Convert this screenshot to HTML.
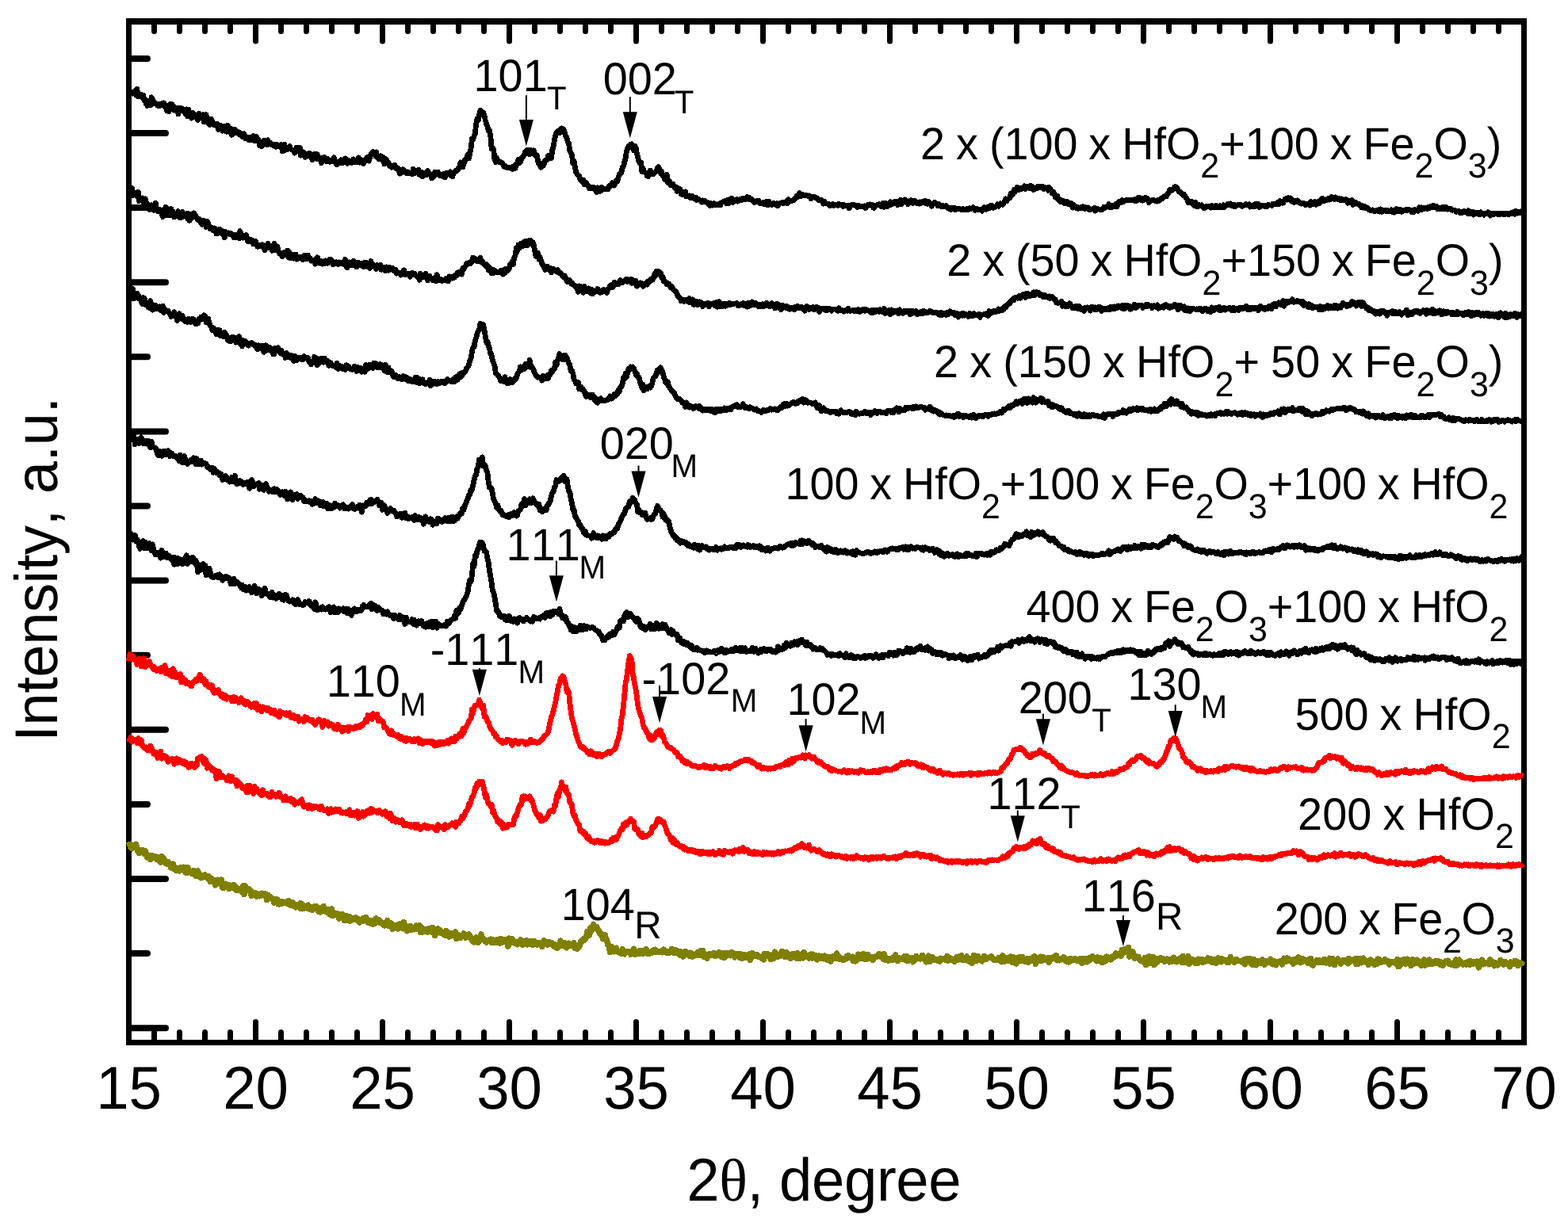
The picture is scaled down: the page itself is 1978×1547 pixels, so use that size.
<!DOCTYPE html>
<html lang="en"><head><meta charset="utf-8"><title>XRD patterns</title>
<style>
html,body{margin:0;padding:0;background:#fff;}
body{width:1978px;height:1547px;overflow:hidden;}
svg{display:block;}
text{font-family:"Liberation Sans",sans-serif;fill:#000;font-kerning:none;font-variant-ligatures:none;text-rendering:geometricPrecision;}
.c{fill:none;stroke-linejoin:round;stroke-linecap:butt;}
.t{stroke:#000;stroke-linecap:round;fill:none;}
</style></head>
<body>
<svg width="1978" height="1547" viewBox="0 0 1978 1547" role="img" aria-label="XRD patterns of HfO2 / Fe2O3 thin films">
<rect width="1978" height="1547" fill="#fff"/>
<g class="t" stroke-width="7.00">
<path d="M194.5 1313.5V1302.5M194.5 29.0V39.5M226.5 1313.5V1302.5M226.5 29.0V39.5M258.5 1313.5V1302.5M258.5 29.0V39.5M290.5 1313.5V1302.5M290.5 29.0V39.5M322.5 1313.5V1289.5M322.5 29.0V52.1M354.5 1313.5V1302.5M354.5 29.0V39.5M386.5 1313.5V1302.5M386.5 29.0V39.5M418.5 1313.5V1302.5M418.5 29.0V39.5M450.5 1313.5V1302.5M450.5 29.0V39.5M482.5 1313.5V1289.5M482.5 29.0V52.1M514.5 1313.5V1302.5M514.5 29.0V39.5M546.5 1313.5V1302.5M546.5 29.0V39.5M578.5 1313.5V1302.5M578.5 29.0V39.5M610.5 1313.5V1302.5M610.5 29.0V39.5M642.5 1313.5V1289.5M642.5 29.0V52.1M674.5 1313.5V1302.5M674.5 29.0V39.5M706.5 1313.5V1302.5M706.5 29.0V39.5M738.5 1313.5V1302.5M738.5 29.0V39.5M770.5 1313.5V1302.5M770.5 29.0V39.5M802.5 1313.5V1289.5M802.5 29.0V52.1M834.5 1313.5V1302.5M834.5 29.0V39.5M866.5 1313.5V1302.5M866.5 29.0V39.5M898.5 1313.5V1302.5M898.5 29.0V39.5M930.5 1313.5V1302.5M930.5 29.0V39.5M962.5 1313.5V1289.5M962.5 29.0V52.1M994.5 1313.5V1302.5M994.5 29.0V39.5M1026.5 1313.5V1302.5M1026.5 29.0V39.5M1058.5 1313.5V1302.5M1058.5 29.0V39.5M1090.5 1313.5V1302.5M1090.5 29.0V39.5M1122.5 1313.5V1289.5M1122.5 29.0V52.1M1154.5 1313.5V1302.5M1154.5 29.0V39.5M1186.5 1313.5V1302.5M1186.5 29.0V39.5M1218.5 1313.5V1302.5M1218.5 29.0V39.5M1250.5 1313.5V1302.5M1250.5 29.0V39.5M1282.5 1313.5V1289.5M1282.5 29.0V52.1M1314.5 1313.5V1302.5M1314.5 29.0V39.5M1346.5 1313.5V1302.5M1346.5 29.0V39.5M1378.5 1313.5V1302.5M1378.5 29.0V39.5M1410.5 1313.5V1302.5M1410.5 29.0V39.5M1442.5 1313.5V1289.5M1442.5 29.0V52.1M1474.5 1313.5V1302.5M1474.5 29.0V39.5M1506.5 1313.5V1302.5M1506.5 29.0V39.5M1538.5 1313.5V1302.5M1538.5 29.0V39.5M1570.5 1313.5V1302.5M1570.5 29.0V39.5M1602.5 1313.5V1289.5M1602.5 29.0V52.1M1634.5 1313.5V1302.5M1634.5 29.0V39.5M1666.5 1313.5V1302.5M1666.5 29.0V39.5M1698.5 1313.5V1302.5M1698.5 29.0V39.5M1730.5 1313.5V1302.5M1730.5 29.0V39.5M1762.5 1313.5V1289.5M1762.5 29.0V52.1M1794.5 1313.5V1302.5M1794.5 29.0V39.5M1826.5 1313.5V1302.5M1826.5 29.0V39.5M1858.5 1313.5V1302.5M1858.5 29.0V39.5M1890.5 1313.5V1302.5M1890.5 29.0V39.5"/>
</g>
<g class="t" stroke-width="8.00">
<path d="M164.5 73.9H186.0M164.5 168.0H209.0M164.5 262.1H186.0M164.5 356.2H209.0M164.5 450.3H186.0M164.5 544.4H209.0M164.5 638.5H186.0M164.5 732.6H209.0M164.5 826.7H186.0M164.5 920.8H209.0M164.5 1014.9H186.0M164.5 1109.0H209.0M164.5 1203.1H186.0M164.5 1297.2H209.0"/>
</g>
<g fill="#000" shape-rendering="crispEdges">
<rect x="159.0" y="23.0" width="1766.9" height="8.0"/>
<rect x="159.0" y="1312.0" width="1766.9" height="7.0"/>
<rect x="159.0" y="23.0" width="7.0" height="1296.0"/>
<rect x="1918.9" y="23.0" width="7.0" height="1296.0"/>
</g>
<g id="curves" shape-rendering="crispEdges">
<path class="c" stroke="#000" stroke-width="6.80" d="M162.5 120.9 163.8 115.8 165.1 117.5 166.4 116.9 167.7 118.1 169.0 115.7 170.3 114.7 171.6 120.1 172.9 112.3 174.2 122.0 175.5 122.0 176.8 119.1 178.1 122.3 179.4 119.9 180.7 120.1 182.0 126.8 183.3 125.1 184.6 131.4 185.9 133.4 187.2 128.6 188.5 128.0 189.8 133.0 191.1 122.8 192.4 125.0 193.7 128.7 195.0 130.8 196.3 130.5 197.6 131.0 198.9 133.3 200.2 131.4 201.5 133.5 202.8 132.9 204.1 130.6 205.4 130.2 206.7 129.9 208.0 134.7 209.3 133.1 210.6 139.7 211.9 134.8 213.2 140.6 214.5 131.6 215.8 135.6 217.1 131.9 218.4 135.7 219.7 139.2 221.0 135.9 222.3 136.6 223.6 139.1 224.9 144.0 226.2 136.0 227.5 136.0 228.8 137.6 230.1 139.5 231.4 138.0 232.7 141.6 234.0 143.4 235.3 137.9 236.6 146.7 237.9 138.1 239.2 143.8 240.5 143.6 241.8 149.1 243.1 142.2 244.4 144.5 245.7 146.3 247.0 147.9 248.3 145.2 249.6 151.6 250.9 143.4 252.2 144.8 253.5 148.1 254.8 146.0 256.1 144.8 257.4 153.8 258.7 153.0 260.0 144.6 261.3 154.4 262.6 155.7 263.9 150.0 265.2 157.4 266.5 150.2 267.8 153.7 269.1 155.3 270.4 157.9 271.7 158.3 273.0 158.4 274.3 156.0 275.6 163.3 276.9 161.4 278.2 158.6 279.5 159.1 280.8 165.1 282.1 163.5 283.4 159.8 284.7 161.7 286.0 166.2 287.3 158.4 288.6 162.0 289.9 166.9 291.2 162.0 292.5 170.3 293.8 163.3 295.1 163.1 296.4 163.7 297.7 168.0 299.0 167.2 300.3 166.7 301.6 169.6 302.9 167.6 304.2 171.0 305.5 172.5 306.8 172.2 308.1 168.9 309.4 174.6 310.7 173.1 312.0 175.4 313.3 176.2 314.6 173.1 315.9 176.6 317.2 173.2 318.5 177.0 319.8 171.6 321.1 178.1 322.4 176.8 323.7 172.7 325.0 178.4 326.3 176.5 327.6 183.7 328.9 179.1 330.2 184.9 331.5 181.1 332.8 177.3 334.1 180.7 335.4 180.8 336.7 182.7 338.0 176.8 339.3 180.4 340.6 179.9 341.9 182.3 343.2 182.5 344.5 183.1 345.8 184.3 347.1 182.5 348.4 185.3 349.7 182.7 351.0 182.9 352.3 185.2 353.6 185.2 354.9 182.6 356.2 191.0 357.5 183.4 358.8 182.4 360.1 189.4 361.4 188.2 362.7 188.3 364.0 186.1 365.3 184.6 366.6 187.9 367.9 188.8 369.2 189.3 370.5 189.9 371.8 193.1 373.1 187.8 374.4 186.2 375.7 190.3 377.0 187.6 378.3 186.2 379.6 196.1 380.9 193.3 382.2 191.8 383.5 192.8 384.8 198.3 386.1 197.3 387.4 197.1 388.7 196.2 390.0 193.3 391.3 196.0 392.6 194.4 393.9 201.8 395.2 195.0 396.5 194.7 397.8 194.3 399.1 200.3 400.4 194.9 401.7 200.5 403.0 200.1 404.3 199.3 405.6 205.7 406.9 199.3 408.2 202.0 409.5 198.4 410.8 199.7 412.1 203.6 413.4 200.4 414.7 202.4 416.0 204.3 417.3 203.2 418.6 202.2 419.9 203.5 421.2 198.7 422.5 203.0 423.8 206.1 425.1 207.7 426.4 205.3 427.7 204.0 429.0 204.0 430.3 201.9 431.6 205.8 432.9 205.6 434.2 202.3 435.5 199.9 436.8 204.4 438.1 206.2 439.4 202.3 440.7 203.8 442.0 204.1 443.3 205.4 444.6 204.2 445.9 200.9 447.2 204.9 448.5 202.3 449.8 203.1 451.1 205.0 452.4 198.9 453.7 205.2 455.0 200.9 456.3 202.2 457.6 206.3 458.9 206.4 460.2 201.8 461.5 200.9 462.8 198.8 464.1 198.9 465.4 203.1 466.7 198.2 468.0 194.0 469.3 194.9 470.6 191.4 471.9 194.3 473.2 196.4 474.5 191.8 475.8 197.8 477.1 200.2 478.4 199.4 479.7 196.8 481.0 201.2 482.3 197.8 483.6 198.6 484.9 206.9 486.2 200.0 487.5 201.9 488.8 204.0 490.1 205.6 491.4 209.3 492.7 209.1 494.0 211.3 495.3 211.0 496.6 210.9 497.9 208.2 499.2 212.4 500.5 211.4 501.8 212.2 503.1 213.7 504.4 219.2 505.7 217.3 507.0 217.7 508.3 213.7 509.6 216.2 510.9 216.1 512.2 217.4 513.5 218.8 514.8 217.0 516.1 217.8 517.4 219.1 518.7 218.8 520.0 219.8 521.3 213.4 522.6 216.5 523.9 218.3 525.2 216.7 526.5 216.6 527.8 214.1 529.1 220.4 530.4 218.5 531.7 217.3 533.0 222.8 534.3 218.5 535.6 221.2 536.9 220.0 538.2 220.9 539.5 215.6 540.8 219.4 542.1 218.9 543.4 221.3 544.7 224.8 546.0 223.0 547.3 222.6 548.6 217.0 549.9 220.4 551.2 219.5 552.5 217.1 553.8 220.6 555.1 222.0 556.4 220.7 557.7 221.9 559.0 222.7 560.3 219.2 561.6 223.9 562.9 218.3 564.2 219.6 565.5 219.9 566.8 219.1 568.1 216.9 569.4 221.8 570.7 222.8 572.0 219.3 573.3 217.5 574.6 215.4 575.9 215.9 577.2 214.9 578.5 212.0 579.8 209.9 581.1 204.9 582.4 208.9 583.7 210.9 585.0 206.7 586.3 201.8 587.6 201.8 588.9 198.1 590.2 194.8 591.5 199.9 592.8 192.2 594.1 187.5 595.4 175.0 596.7 176.5 598.0 171.9 599.3 168.4 600.6 156.4 601.9 150.0 603.2 152.0 604.5 145.6 605.8 139.4 607.1 140.9 608.4 144.3 609.7 142.0 611.0 146.1 612.3 151.8 613.6 156.4 614.9 159.3 616.2 165.3 617.5 164.9 618.8 171.8 620.1 187.5 621.4 186.2 622.7 189.3 624.0 201.0 625.3 204.6 626.6 199.1 627.9 203.5 629.2 204.2 630.5 205.0 631.8 204.8 633.1 205.6 634.4 207.1 635.7 210.2 637.0 209.3 638.3 211.0 639.6 211.7 640.9 211.8 642.2 211.5 643.5 211.6 644.8 212.9 646.1 213.5 647.4 209.8 648.7 210.0 650.0 212.3 651.3 206.7 652.6 206.9 653.9 201.6 655.2 205.8 656.5 204.3 657.8 200.2 659.1 198.2 660.4 197.1 661.7 193.8 663.0 190.8 664.3 193.5 665.6 189.2 666.9 192.2 668.2 194.7 669.5 189.3 670.8 192.6 672.1 193.9 673.4 189.7 674.7 194.6 676.0 197.2 677.3 195.8 678.6 203.3 679.9 207.0 681.2 208.5 682.5 211.2 683.8 206.4 685.1 209.4 686.4 206.9 687.7 202.5 689.0 201.9 690.3 201.5 691.6 196.6 692.9 198.6 694.2 196.5 695.5 199.5 696.8 189.0 698.1 185.0 699.4 177.1 700.7 170.8 702.0 167.5 703.3 166.3 704.6 165.0 705.9 167.7 707.2 166.9 708.5 161.9 709.8 162.8 711.1 163.0 712.4 167.4 713.7 172.1 715.0 173.7 716.3 179.4 717.6 181.2 718.9 190.4 720.2 192.6 721.5 196.1 722.8 205.9 724.1 203.5 725.4 210.7 726.7 217.4 728.0 219.7 729.3 221.4 730.6 222.0 731.9 226.2 733.2 227.4 734.5 229.6 735.8 227.2 737.1 232.6 738.4 230.1 739.7 230.6 741.0 233.9 742.3 234.7 743.6 238.0 744.9 236.2 746.2 238.0 747.5 236.4 748.8 236.4 750.1 238.1 751.4 239.7 752.7 242.7 754.0 236.9 755.3 241.8 756.6 238.2 757.9 241.1 759.2 236.2 760.5 239.1 761.8 239.0 763.1 237.9 764.4 238.2 765.7 238.7 767.0 238.6 768.3 234.6 769.6 234.9 770.9 234.6 772.2 230.8 773.5 231.4 774.8 234.0 776.1 231.8 777.4 227.6 778.7 228.9 780.0 224.4 781.3 219.6 782.6 219.7 783.9 218.0 785.2 211.2 786.5 209.8 787.8 204.3 789.1 199.7 790.4 191.4 791.7 187.1 793.0 184.6 794.3 185.1 795.6 182.1 796.9 181.7 798.2 186.9 799.5 189.8 800.8 184.1 802.1 186.5 803.4 193.5 804.7 199.3 806.0 203.6 807.3 205.6 808.6 205.1 809.9 216.4 811.2 212.8 812.5 216.8 813.8 217.7 815.1 218.3 816.4 222.0 817.7 222.6 819.0 217.2 820.3 215.0 821.6 218.2 822.9 220.0 824.2 219.5 825.5 218.1 826.8 217.4 828.1 215.4 829.4 212.2 830.7 210.8 832.0 213.2 833.3 218.6 834.6 216.2 835.9 221.5 837.2 222.1 838.5 226.3 839.8 223.5 841.1 220.5 842.4 230.4 843.7 228.2 845.0 229.5 846.3 233.9 847.6 232.0 848.9 232.1 850.2 234.6 851.5 237.3 852.8 236.6 854.1 241.4 855.4 237.6 856.7 238.8 858.0 238.7 859.3 244.9 860.6 245.4 861.9 242.9 863.2 242.7 864.5 242.0 865.8 247.8 867.1 247.2 868.4 247.9 869.7 247.0 871.0 250.0 872.3 248.8 873.6 247.6 874.9 248.6 876.2 250.9 877.5 249.1 878.8 252.5 880.1 250.9 881.4 252.2 882.7 252.6 884.0 253.4 885.3 255.0 886.6 252.9 887.9 254.2 889.2 253.6 890.5 255.1 891.8 254.8 893.1 256.7 894.4 257.4 895.7 259.6 897.0 256.6 898.3 259.1 899.6 256.8 900.9 256.6 902.2 258.2 903.5 258.6 904.8 258.6 906.1 257.7 907.4 257.0 908.7 258.9 910.0 255.6 911.3 254.9 912.6 254.9 913.9 253.7 915.2 254.2 916.5 256.9 917.8 252.3 919.1 256.6 920.4 251.7 921.7 255.1 923.0 250.0 924.3 255.5 925.6 251.9 926.9 252.9 928.2 252.3 929.5 251.7 930.8 254.1 932.1 253.2 933.4 251.4 934.7 251.9 936.0 252.4 937.3 250.4 938.6 252.0 939.9 252.1 941.2 249.7 942.5 248.8 943.8 251.0 945.1 249.4 946.4 251.6 947.7 250.9 949.0 253.1 950.3 253.4 951.6 255.5 952.9 254.8 954.2 254.2 955.5 253.1 956.8 253.1 958.1 255.6 959.4 257.1 960.7 256.8 962.0 255.7 963.3 255.4 964.6 257.9 965.9 256.9 967.2 254.4 968.5 259.0 969.8 254.3 971.1 256.3 972.4 256.9 973.7 258.3 975.0 256.8 976.3 256.6 977.6 257.4 978.9 258.8 980.2 256.8 981.5 259.8 982.8 257.2 984.1 256.0 985.4 255.9 986.7 255.3 988.0 256.8 989.3 255.2 990.6 255.1 991.9 254.1 993.2 257.0 994.5 251.6 995.8 253.4 997.1 254.0 998.4 253.5 999.7 252.7 1001.0 253.1 1002.3 251.6 1003.6 250.0 1004.9 247.6 1006.2 248.7 1007.5 245.6 1008.8 243.6 1010.1 248.0 1011.4 246.1 1012.7 245.8 1014.0 246.3 1015.3 246.4 1016.6 246.2 1017.9 246.5 1019.2 247.3 1020.5 246.8 1021.8 248.0 1023.1 250.9 1024.4 248.9 1025.7 248.3 1027.0 248.1 1028.3 249.0 1029.6 250.2 1030.9 250.4 1032.2 252.3 1033.5 253.0 1034.8 252.0 1036.1 252.5 1037.4 254.7 1038.7 257.1 1040.0 254.2 1041.3 256.9 1042.6 256.8 1043.9 257.1 1045.2 257.3 1046.5 259.7 1047.8 259.3 1049.1 258.3 1050.4 257.6 1051.7 259.6 1053.0 259.0 1054.3 258.2 1055.6 258.4 1056.9 259.4 1058.2 257.1 1059.5 259.1 1060.8 259.0 1062.1 258.8 1063.4 260.4 1064.7 258.7 1066.0 260.0 1067.3 259.3 1068.6 259.4 1069.9 259.3 1071.2 262.9 1072.5 260.1 1073.8 259.0 1075.1 258.0 1076.4 258.2 1077.7 258.8 1079.0 259.4 1080.3 259.8 1081.6 261.3 1082.9 259.4 1084.2 260.5 1085.5 260.0 1086.8 260.7 1088.1 260.6 1089.4 260.0 1090.7 259.9 1092.0 262.4 1093.3 260.1 1094.6 258.6 1095.9 259.3 1097.2 258.0 1098.5 259.2 1099.8 258.2 1101.1 261.2 1102.4 262.7 1103.7 260.2 1105.0 258.9 1106.3 258.8 1107.6 258.0 1108.9 257.8 1110.2 259.0 1111.5 260.4 1112.8 258.5 1114.1 256.6 1115.4 261.3 1116.7 256.1 1118.0 259.0 1119.3 260.5 1120.6 259.3 1121.9 258.6 1123.2 254.8 1124.5 258.2 1125.8 256.0 1127.1 256.7 1128.4 254.6 1129.7 254.7 1131.0 254.8 1132.3 258.5 1133.6 254.6 1134.9 253.8 1136.2 252.3 1137.5 257.8 1138.8 256.2 1140.1 254.4 1141.4 251.9 1142.7 253.6 1144.0 253.9 1145.3 257.7 1146.6 253.8 1147.9 255.9 1149.2 252.7 1150.5 254.6 1151.8 256.5 1153.1 254.3 1154.4 253.3 1155.7 256.3 1157.0 256.2 1158.3 255.8 1159.6 257.0 1160.9 255.0 1162.2 256.2 1163.5 254.3 1164.8 255.6 1166.1 256.1 1167.4 253.3 1168.7 255.5 1170.0 257.3 1171.3 254.5 1172.6 255.8 1173.9 257.0 1175.2 260.1 1176.5 258.4 1177.8 256.5 1179.1 255.4 1180.4 257.1 1181.7 257.8 1183.0 259.4 1184.3 257.7 1185.6 259.7 1186.9 260.4 1188.2 259.2 1189.5 260.9 1190.8 259.9 1192.1 260.9 1193.4 259.5 1194.7 261.7 1196.0 263.1 1197.3 263.2 1198.6 262.6 1199.9 264.3 1201.2 262.7 1202.5 263.3 1203.8 262.1 1205.1 264.5 1206.4 263.2 1207.7 264.0 1209.0 263.9 1210.3 263.7 1211.6 264.0 1212.9 264.5 1214.2 263.6 1215.5 264.3 1216.8 263.9 1218.1 264.4 1219.4 263.4 1220.7 264.9 1222.0 264.4 1223.3 262.8 1224.6 263.5 1225.9 262.9 1227.2 261.7 1228.5 263.5 1229.8 265.2 1231.1 264.5 1232.4 263.7 1233.7 264.2 1235.0 264.4 1236.3 265.1 1237.6 264.6 1238.9 266.1 1240.2 264.9 1241.5 261.5 1242.8 263.5 1244.1 264.3 1245.4 262.7 1246.7 260.9 1248.0 262.5 1249.3 261.4 1250.6 259.1 1251.9 261.2 1253.2 262.3 1254.5 261.4 1255.8 261.0 1257.1 259.8 1258.4 257.8 1259.7 260.2 1261.0 257.8 1262.3 256.8 1263.6 257.2 1264.9 258.3 1266.2 255.6 1267.5 254.1 1268.8 251.0 1270.1 253.7 1271.4 250.8 1272.7 250.5 1274.0 249.7 1275.3 243.9 1276.6 246.1 1277.9 244.8 1279.2 239.5 1280.5 241.9 1281.8 239.5 1283.1 236.0 1284.4 239.9 1285.7 237.6 1287.0 237.5 1288.3 238.7 1289.6 237.4 1290.9 237.9 1292.2 234.9 1293.5 238.3 1294.8 236.2 1296.1 235.0 1297.4 236.0 1298.7 237.9 1300.0 234.0 1301.3 237.6 1302.6 235.7 1303.9 239.5 1305.2 237.5 1306.5 236.8 1307.8 237.6 1309.1 235.2 1310.4 236.9 1311.7 235.7 1313.0 235.1 1314.3 236.5 1315.6 235.8 1316.9 238.4 1318.2 236.6 1319.5 237.1 1320.8 236.9 1322.1 240.4 1323.4 236.3 1324.7 237.8 1326.0 240.4 1327.3 243.8 1328.6 242.1 1329.9 244.9 1331.2 248.8 1332.5 249.5 1333.8 247.3 1335.1 251.3 1336.4 253.2 1337.7 254.8 1339.0 252.6 1340.3 253.5 1341.6 253.6 1342.9 256.6 1344.2 255.6 1345.5 254.2 1346.8 257.2 1348.1 255.9 1349.4 258.0 1350.7 256.2 1352.0 258.3 1353.3 262.1 1354.6 258.3 1355.9 260.6 1357.2 262.3 1358.5 261.2 1359.8 263.2 1361.1 262.8 1362.4 261.8 1363.7 261.7 1365.0 263.0 1366.3 260.8 1367.6 261.5 1368.9 263.3 1370.2 261.8 1371.5 263.0 1372.8 262.0 1374.1 264.9 1375.4 264.5 1376.7 264.1 1378.0 263.8 1379.3 263.1 1380.6 262.4 1381.9 266.1 1383.2 264.4 1384.5 263.4 1385.8 264.0 1387.1 264.4 1388.4 264.6 1389.7 264.8 1391.0 263.5 1392.3 261.4 1393.6 262.1 1394.9 262.2 1396.2 261.1 1397.5 261.0 1398.8 257.6 1400.1 262.1 1401.4 259.5 1402.7 261.5 1404.0 260.1 1405.3 259.1 1406.6 260.8 1407.9 257.0 1409.2 260.5 1410.5 257.1 1411.8 254.1 1413.1 255.1 1414.4 255.7 1415.7 252.7 1417.0 254.5 1418.3 253.6 1419.6 252.8 1420.9 252.7 1422.2 252.0 1423.5 253.1 1424.8 252.9 1426.1 252.1 1427.4 252.2 1428.7 252.3 1430.0 252.5 1431.3 251.8 1432.6 254.0 1433.9 253.6 1435.2 249.6 1436.5 249.5 1437.8 249.5 1439.1 252.2 1440.4 250.3 1441.7 253.0 1443.0 250.2 1444.3 249.7 1445.6 249.5 1446.9 249.9 1448.2 251.9 1449.5 255.6 1450.8 254.0 1452.1 253.4 1453.4 252.4 1454.7 253.1 1456.0 252.6 1457.3 253.1 1458.6 253.9 1459.9 254.2 1461.2 252.4 1462.5 253.2 1463.8 251.5 1465.1 250.3 1466.4 250.6 1467.7 248.3 1469.0 248.3 1470.3 247.3 1471.6 247.7 1472.9 244.4 1474.2 243.4 1475.5 239.4 1476.8 239.0 1478.1 240.2 1479.4 239.3 1480.7 237.7 1482.0 235.7 1483.3 235.9 1484.6 237.0 1485.9 238.8 1487.2 241.9 1488.5 241.8 1489.8 243.0 1491.1 244.3 1492.4 246.3 1493.7 245.5 1495.0 247.6 1496.3 249.7 1497.6 251.8 1498.9 255.8 1500.2 255.7 1501.5 255.9 1502.8 254.4 1504.1 256.5 1505.4 258.4 1506.7 259.6 1508.0 255.4 1509.3 260.4 1510.6 258.8 1511.9 260.5 1513.2 258.9 1514.5 259.8 1515.8 258.7 1517.1 260.5 1518.4 262.4 1519.7 262.3 1521.0 261.8 1522.3 260.0 1523.6 260.7 1524.9 260.3 1526.2 261.4 1527.5 262.1 1528.8 259.5 1530.1 260.2 1531.4 261.9 1532.7 262.0 1534.0 259.2 1535.3 260.4 1536.6 261.9 1537.9 261.8 1539.2 259.8 1540.5 261.4 1541.8 260.4 1543.1 258.7 1544.4 261.8 1545.7 259.1 1547.0 259.4 1548.3 257.5 1549.6 258.7 1550.9 258.4 1552.2 257.0 1553.5 259.6 1554.8 258.2 1556.1 260.2 1557.4 258.6 1558.7 260.4 1560.0 259.1 1561.3 258.8 1562.6 258.8 1563.9 258.0 1565.2 258.5 1566.5 260.2 1567.8 260.2 1569.1 259.0 1570.4 259.1 1571.7 257.6 1573.0 258.7 1574.3 258.7 1575.6 257.8 1576.9 261.0 1578.2 259.3 1579.5 259.5 1580.8 260.6 1582.1 258.6 1583.4 260.6 1584.7 257.0 1586.0 259.1 1587.3 257.4 1588.6 261.4 1589.9 260.8 1591.2 259.2 1592.5 260.0 1593.8 259.0 1595.1 260.5 1596.4 260.9 1597.7 259.1 1599.0 260.2 1600.3 258.4 1601.6 258.8 1602.9 259.1 1604.2 259.4 1605.5 257.2 1606.8 257.5 1608.1 257.7 1609.4 257.7 1610.7 258.0 1612.0 255.5 1613.3 257.8 1614.6 253.7 1615.9 255.5 1617.2 256.1 1618.5 256.1 1619.8 253.1 1621.1 251.5 1622.4 250.6 1623.7 252.0 1625.0 249.9 1626.3 251.4 1627.6 250.0 1628.9 253.2 1630.2 254.4 1631.5 252.9 1632.8 255.4 1634.1 253.2 1635.4 254.9 1636.7 253.0 1638.0 255.0 1639.3 256.1 1640.6 255.8 1641.9 257.1 1643.2 256.3 1644.5 256.5 1645.8 256.9 1647.1 258.5 1648.4 257.7 1649.7 257.9 1651.0 257.7 1652.3 259.0 1653.6 254.5 1654.9 256.6 1656.2 257.3 1657.5 257.2 1658.8 254.7 1660.1 258.3 1661.4 256.1 1662.7 254.6 1664.0 256.8 1665.3 255.7 1666.6 251.8 1667.9 250.2 1669.2 251.5 1670.5 253.5 1671.8 253.0 1673.1 251.8 1674.4 252.2 1675.7 250.3 1677.0 252.1 1678.3 251.4 1679.6 248.7 1680.9 249.9 1682.2 250.2 1683.5 251.4 1684.8 248.9 1686.1 250.3 1687.4 251.4 1688.7 250.1 1690.0 252.4 1691.3 252.5 1692.6 250.9 1693.9 252.0 1695.2 252.6 1696.5 252.7 1697.8 251.6 1699.1 252.4 1700.4 256.3 1701.7 253.6 1703.0 255.3 1704.3 254.3 1705.6 252.7 1706.9 258.5 1708.2 254.9 1709.5 256.5 1710.8 255.7 1712.1 256.8 1713.4 257.7 1714.7 257.7 1716.0 259.5 1717.3 261.6 1718.6 259.6 1719.9 262.1 1721.2 260.4 1722.5 262.3 1723.8 261.6 1725.1 262.8 1726.4 263.3 1727.7 265.3 1729.0 265.1 1730.3 265.3 1731.6 264.8 1732.9 266.4 1734.2 266.6 1735.5 266.1 1736.8 265.4 1738.1 266.3 1739.4 264.5 1740.7 267.1 1742.0 263.9 1743.3 267.2 1744.6 265.0 1745.9 265.3 1747.2 265.5 1748.5 266.7 1749.8 265.4 1751.1 266.8 1752.4 267.1 1753.7 266.9 1755.0 264.8 1756.3 267.2 1757.6 265.2 1758.9 268.1 1760.2 265.3 1761.5 263.3 1762.8 266.8 1764.1 265.4 1765.4 264.4 1766.7 264.5 1768.0 267.3 1769.3 265.3 1770.6 265.1 1771.9 265.6 1773.2 265.9 1774.5 264.1 1775.8 265.5 1777.1 264.4 1778.4 265.2 1779.7 265.2 1781.0 267.7 1782.3 266.4 1783.6 267.6 1784.9 264.6 1786.2 265.8 1787.5 264.9 1788.8 266.1 1790.1 261.9 1791.4 262.4 1792.7 261.8 1794.0 264.4 1795.3 262.2 1796.6 263.3 1797.9 263.0 1799.2 262.0 1800.5 263.2 1801.8 261.6 1803.1 262.9 1804.4 260.7 1805.7 261.9 1807.0 261.9 1808.3 259.2 1809.6 261.2 1810.9 260.6 1812.2 260.1 1813.5 264.0 1814.8 262.3 1816.1 262.7 1817.4 263.7 1818.7 262.6 1820.0 261.4 1821.3 264.0 1822.6 261.4 1823.9 261.4 1825.2 263.5 1826.5 264.2 1827.8 263.0 1829.1 263.6 1830.4 263.6 1831.7 265.3 1833.0 265.1 1834.3 265.0 1835.6 265.6 1836.9 267.2 1838.2 266.2 1839.5 266.4 1840.8 266.5 1842.1 268.6 1843.4 267.8 1844.7 268.6 1846.0 267.9 1847.3 266.1 1848.6 267.4 1849.9 268.1 1851.2 269.3 1852.5 265.8 1853.8 269.0 1855.1 269.6 1856.4 267.6 1857.7 267.2 1859.0 271.1 1860.3 268.9 1861.6 268.3 1862.9 269.2 1864.2 270.1 1865.5 268.6 1866.8 270.7 1868.1 267.9 1869.4 269.5 1870.7 269.7 1872.0 271.1 1873.3 269.6 1874.6 269.7 1875.9 269.6 1877.2 267.7 1878.5 269.5 1879.8 272.0 1881.1 269.8 1882.4 270.7 1883.7 269.7 1885.0 270.2 1886.3 269.7 1887.6 269.2 1888.9 270.3 1890.2 269.2 1891.5 270.8 1892.8 270.5 1894.1 269.1 1895.4 269.1 1896.7 270.8 1898.0 270.6 1899.3 269.2 1900.6 269.3 1901.9 269.1 1903.2 270.6 1904.5 270.0 1905.8 269.6 1907.1 268.2 1908.4 267.9 1909.7 269.7 1911.0 270.3 1912.3 266.3 1913.6 266.9 1914.9 269.0 1916.2 268.0 1917.5 267.1 1918.8 268.6 1920.1 266.4 1921.4 268.5"/>
<path class="c" stroke="#000" stroke-width="6.80" d="M162.5 240.7 163.8 239.9 165.1 242.2 166.4 237.3 167.7 246.4 169.0 244.8 170.3 243.6 171.6 243.7 172.9 247.6 174.2 242.0 175.5 253.6 176.8 251.4 178.1 250.9 179.4 249.9 180.7 252.7 182.0 258.8 183.3 250.9 184.6 257.7 185.9 256.7 187.2 259.1 188.5 264.4 189.8 262.4 191.1 258.8 192.4 259.9 193.7 265.3 195.0 263.7 196.3 256.2 197.6 265.5 198.9 266.9 200.2 265.2 201.5 264.5 202.8 266.8 204.1 269.2 205.4 273.9 206.7 264.8 208.0 266.3 209.3 261.3 210.6 271.9 211.9 268.8 213.2 265.7 214.5 271.7 215.8 263.4 217.1 270.9 218.4 266.9 219.7 273.7 221.0 271.3 222.3 272.5 223.6 269.3 224.9 266.7 226.2 273.9 227.5 274.8 228.8 268.5 230.1 267.3 231.4 273.3 232.7 271.8 234.0 273.0 235.3 269.6 236.6 276.3 237.9 269.5 239.2 278.3 240.5 273.5 241.8 274.4 243.1 274.5 244.4 268.8 245.7 271.1 247.0 272.4 248.3 275.2 249.6 277.3 250.9 276.4 252.2 277.4 253.5 281.0 254.8 283.1 256.1 281.1 257.4 278.4 258.7 280.3 260.0 286.5 261.3 279.3 262.6 281.4 263.9 286.4 265.2 288.5 266.5 286.9 267.8 288.3 269.1 290.4 270.4 287.9 271.7 288.3 273.0 295.1 274.3 294.5 275.6 294.3 276.9 289.4 278.2 292.5 279.5 294.4 280.8 291.8 282.1 295.6 283.4 299.9 284.7 292.7 286.0 294.2 287.3 295.0 288.6 293.9 289.9 295.9 291.2 294.6 292.5 296.7 293.8 296.0 295.1 300.0 296.4 299.2 297.7 296.4 299.0 297.4 300.3 299.8 301.6 300.7 302.9 291.7 304.2 298.0 305.5 297.3 306.8 300.1 308.1 299.1 309.4 298.3 310.7 296.5 312.0 303.5 313.3 304.9 314.6 302.5 315.9 304.2 317.2 302.7 318.5 303.4 319.8 307.9 321.1 306.9 322.4 304.3 323.7 309.3 325.0 311.3 326.3 309.1 327.6 309.9 328.9 310.2 330.2 311.1 331.5 308.8 332.8 313.1 334.1 315.6 335.4 310.0 336.7 310.2 338.0 307.2 339.3 312.9 340.6 311.6 341.9 312.9 343.2 316.3 344.5 313.3 345.8 307.3 347.1 315.6 348.4 314.0 349.7 311.0 351.0 316.1 352.3 319.7 353.6 319.3 354.9 321.6 356.2 323.7 357.5 320.1 358.8 318.5 360.1 321.8 361.4 322.2 362.7 316.1 364.0 324.3 365.3 318.5 366.6 325.8 367.9 325.3 369.2 323.9 370.5 326.0 371.8 321.0 373.1 320.9 374.4 327.1 375.7 326.5 377.0 325.9 378.3 324.0 379.6 324.5 380.9 326.2 382.2 328.0 383.5 322.6 384.8 325.6 386.1 326.7 387.4 322.2 388.7 322.3 390.0 326.6 391.3 325.8 392.6 329.1 393.9 328.6 395.2 328.6 396.5 328.0 397.8 333.1 399.1 328.7 400.4 324.8 401.7 327.6 403.0 332.1 404.3 330.4 405.6 329.7 406.9 333.1 408.2 330.1 409.5 332.4 410.8 328.9 412.1 331.2 413.4 332.2 414.7 328.7 416.0 327.0 417.3 327.6 418.6 329.2 419.9 333.9 421.2 331.3 422.5 332.7 423.8 330.9 425.1 332.1 426.4 333.4 427.7 331.0 429.0 332.1 430.3 332.4 431.6 331.4 432.9 332.0 434.2 333.6 435.5 327.3 436.8 336.4 438.1 338.0 439.4 332.8 440.7 330.9 442.0 332.7 443.3 334.8 444.6 334.8 445.9 329.2 447.2 333.8 448.5 333.0 449.8 336.9 451.1 331.5 452.4 334.9 453.7 331.9 455.0 332.4 456.3 333.5 457.6 335.9 458.9 336.7 460.2 331.2 461.5 331.1 462.8 332.4 464.1 336.8 465.4 332.9 466.7 338.5 468.0 329.5 469.3 335.0 470.6 335.3 471.9 334.8 473.2 335.9 474.5 339.3 475.8 334.5 477.1 335.8 478.4 335.6 479.7 334.2 481.0 340.2 482.3 339.8 483.6 337.2 484.9 338.4 486.2 341.8 487.5 336.8 488.8 339.8 490.1 341.4 491.4 337.4 492.7 339.4 494.0 339.9 495.3 338.3 496.6 341.2 497.9 342.1 499.2 340.5 500.5 345.2 501.8 344.0 503.1 344.6 504.4 344.5 505.7 347.2 507.0 343.7 508.3 344.0 509.6 340.8 510.9 346.6 512.2 344.7 513.5 345.6 514.8 346.2 516.1 345.6 517.4 349.2 518.7 345.4 520.0 344.1 521.3 346.3 522.6 345.1 523.9 346.7 525.2 348.2 526.5 348.6 527.8 349.8 529.1 353.3 530.4 345.4 531.7 347.7 533.0 349.9 534.3 347.6 535.6 349.6 536.9 345.3 538.2 348.9 539.5 354.0 540.8 348.2 542.1 348.4 543.4 351.4 544.7 351.5 546.0 353.5 547.3 353.2 548.6 350.8 549.9 354.7 551.2 346.7 552.5 350.6 553.8 354.0 555.1 352.0 556.4 352.7 557.7 354.3 559.0 353.2 560.3 353.0 561.6 353.3 562.9 351.1 564.2 351.3 565.5 354.9 566.8 348.9 568.1 350.6 569.4 349.6 570.7 351.1 572.0 349.0 573.3 350.1 574.6 346.8 575.9 348.0 577.2 344.2 578.5 343.6 579.8 345.3 581.1 344.7 582.4 346.1 583.7 338.8 585.0 339.6 586.3 336.6 587.6 335.2 588.9 332.1 590.2 332.9 591.5 331.3 592.8 332.9 594.1 330.5 595.4 330.7 596.7 325.2 598.0 327.9 599.3 326.5 600.6 326.8 601.9 329.5 603.2 329.3 604.5 327.5 605.8 325.1 607.1 331.0 608.4 330.0 609.7 331.5 611.0 333.9 612.3 335.1 613.6 333.7 614.9 335.4 616.2 340.8 617.5 337.7 618.8 341.7 620.1 344.5 621.4 340.3 622.7 344.6 624.0 340.9 625.3 344.0 626.6 343.9 627.9 343.5 629.2 342.9 630.5 343.3 631.8 341.6 633.1 341.1 634.4 346.1 635.7 340.4 637.0 344.4 638.3 339.0 639.6 339.6 640.9 341.1 642.2 339.3 643.5 333.7 644.8 333.8 646.1 330.6 647.4 333.9 648.7 325.4 650.0 322.2 651.3 313.5 652.6 316.9 653.9 309.0 655.2 313.2 656.5 307.4 657.8 309.8 659.1 310.4 660.4 305.5 661.7 305.6 663.0 304.5 664.3 309.9 665.6 309.0 666.9 305.6 668.2 303.3 669.5 303.6 670.8 307.6 672.1 305.7 673.4 309.7 674.7 316.4 676.0 323.2 677.3 319.5 678.6 319.2 679.9 327.0 681.2 324.5 682.5 329.2 683.8 332.8 685.1 334.9 686.4 337.4 687.7 340.3 689.0 339.5 690.3 336.0 691.6 340.3 692.9 340.1 694.2 338.2 695.5 343.9 696.8 340.3 698.1 339.6 699.4 340.2 700.7 341.5 702.0 342.5 703.3 340.6 704.6 344.1 705.9 344.9 707.2 344.3 708.5 346.5 709.8 348.8 711.1 349.6 712.4 348.0 713.7 351.3 715.0 354.4 716.3 355.9 717.6 353.7 718.9 353.6 720.2 357.5 721.5 356.9 722.8 359.2 724.1 359.8 725.4 361.4 726.7 361.7 728.0 363.8 729.3 368.3 730.6 360.9 731.9 361.3 733.2 364.8 734.5 365.6 735.8 369.2 737.1 361.4 738.4 366.9 739.7 367.1 741.0 367.4 742.3 363.9 743.6 368.0 744.9 369.5 746.2 365.3 747.5 370.9 748.8 366.5 750.1 367.3 751.4 368.2 752.7 368.0 754.0 364.5 755.3 367.8 756.6 369.2 757.9 369.1 759.2 366.7 760.5 368.0 761.8 365.5 763.1 366.9 764.4 367.8 765.7 369.5 767.0 364.6 768.3 363.9 769.6 360.3 770.9 359.9 772.2 362.5 773.5 362.0 774.8 356.4 776.1 358.6 777.4 357.5 778.7 358.0 780.0 358.6 781.3 356.4 782.6 353.4 783.9 355.4 785.2 356.8 786.5 355.1 787.8 354.1 789.1 353.1 790.4 352.1 791.7 355.3 793.0 353.2 794.3 353.6 795.6 352.2 796.9 357.3 798.2 354.6 799.5 353.9 800.8 357.5 802.1 354.6 803.4 361.2 804.7 360.3 806.0 357.9 807.3 356.9 808.6 357.3 809.9 358.6 811.2 361.2 812.5 358.2 813.8 359.4 815.1 356.7 816.4 359.1 817.7 355.0 819.0 355.8 820.3 352.7 821.6 352.2 822.9 353.4 824.2 351.6 825.5 345.9 826.8 348.3 828.1 341.9 829.4 342.1 830.7 346.0 832.0 343.5 833.3 344.4 834.6 349.7 835.9 348.9 837.2 354.8 838.5 354.8 839.8 356.2 841.1 358.6 842.4 357.4 843.7 358.4 845.0 360.8 846.3 363.1 847.6 361.5 848.9 365.1 850.2 366.2 851.5 366.9 852.8 368.3 854.1 370.5 855.4 374.5 856.7 375.2 858.0 376.0 859.3 380.0 860.6 378.1 861.9 379.3 863.2 380.2 864.5 378.6 865.8 380.0 867.1 379.0 868.4 381.1 869.7 376.4 871.0 381.7 872.3 381.9 873.6 377.9 874.9 384.2 876.2 384.4 877.5 380.6 878.8 380.1 880.1 385.0 881.4 382.4 882.7 380.9 884.0 381.5 885.3 382.5 886.6 386.7 887.9 383.8 889.2 383.3 890.5 383.9 891.8 384.7 893.1 382.1 894.4 386.9 895.7 383.5 897.0 382.9 898.3 383.2 899.6 383.8 900.9 382.2 902.2 386.0 903.5 381.6 904.8 387.3 906.1 386.9 907.4 380.7 908.7 386.0 910.0 386.9 911.3 383.2 912.6 386.2 913.9 383.7 915.2 386.1 916.5 383.3 917.8 383.8 919.1 384.4 920.4 382.2 921.7 384.5 923.0 383.6 924.3 383.1 925.6 383.5 926.9 383.1 928.2 383.0 929.5 382.4 930.8 385.5 932.1 385.3 933.4 385.1 934.7 384.6 936.0 383.8 937.3 382.4 938.6 385.7 939.9 385.6 941.2 383.1 942.5 387.1 943.8 382.3 945.1 386.4 946.4 382.5 947.7 384.1 949.0 380.9 950.3 385.1 951.6 384.9 952.9 382.5 954.2 383.8 955.5 383.8 956.8 386.9 958.1 385.7 959.4 384.4 960.7 386.7 962.0 383.8 963.3 386.4 964.6 385.8 965.9 384.5 967.2 382.2 968.5 386.0 969.8 384.5 971.1 386.5 972.4 386.2 973.7 382.4 975.0 386.1 976.3 385.9 977.6 388.8 978.9 384.6 980.2 383.4 981.5 384.0 982.8 388.7 984.1 385.5 985.4 390.8 986.7 385.2 988.0 386.4 989.3 385.9 990.6 385.9 991.9 388.8 993.2 386.8 994.5 389.2 995.8 390.2 997.1 388.1 998.4 388.1 999.7 389.3 1001.0 388.1 1002.3 390.9 1003.6 387.1 1004.9 388.8 1006.2 386.4 1007.5 388.8 1008.8 388.2 1010.1 387.2 1011.4 387.5 1012.7 389.3 1014.0 388.6 1015.3 392.3 1016.6 388.2 1017.9 386.6 1019.2 389.2 1020.5 390.2 1021.8 388.2 1023.1 389.4 1024.4 387.8 1025.7 387.5 1027.0 391.0 1028.3 388.1 1029.6 387.7 1030.9 387.5 1032.2 388.9 1033.5 393.3 1034.8 389.8 1036.1 390.1 1037.4 389.0 1038.7 389.6 1040.0 390.7 1041.3 389.2 1042.6 392.0 1043.9 391.3 1045.2 389.2 1046.5 389.6 1047.8 391.2 1049.1 392.1 1050.4 390.5 1051.7 390.1 1053.0 389.9 1054.3 390.5 1055.6 391.4 1056.9 392.3 1058.2 388.8 1059.5 390.6 1060.8 391.6 1062.1 391.4 1063.4 392.6 1064.7 393.1 1066.0 391.6 1067.3 391.6 1068.6 392.3 1069.9 389.2 1071.2 391.4 1072.5 392.4 1073.8 392.1 1075.1 391.7 1076.4 391.2 1077.7 392.7 1079.0 391.8 1080.3 391.4 1081.6 392.4 1082.9 390.7 1084.2 393.4 1085.5 393.1 1086.8 391.9 1088.1 390.6 1089.4 391.6 1090.7 392.3 1092.0 390.6 1093.3 390.9 1094.6 391.6 1095.9 392.1 1097.2 392.9 1098.5 394.6 1099.8 391.1 1101.1 394.8 1102.4 391.4 1103.7 391.4 1105.0 393.4 1106.3 391.3 1107.6 391.5 1108.9 393.2 1110.2 390.9 1111.5 393.3 1112.8 393.3 1114.1 392.6 1115.4 389.4 1116.7 395.5 1118.0 392.1 1119.3 394.8 1120.6 391.9 1121.9 391.3 1123.2 396.6 1124.5 390.9 1125.8 394.9 1127.1 392.7 1128.4 392.9 1129.7 392.7 1131.0 394.0 1132.3 392.3 1133.6 395.7 1134.9 390.7 1136.2 392.7 1137.5 394.3 1138.8 395.3 1140.1 395.1 1141.4 392.4 1142.7 392.8 1144.0 393.4 1145.3 392.8 1146.6 392.5 1147.9 396.9 1149.2 396.3 1150.5 392.1 1151.8 394.7 1153.1 394.4 1154.4 393.4 1155.7 392.6 1157.0 397.0 1158.3 395.7 1159.6 395.6 1160.9 394.4 1162.2 393.2 1163.5 395.9 1164.8 392.4 1166.1 392.6 1167.4 394.6 1168.7 393.9 1170.0 394.4 1171.3 394.2 1172.6 392.2 1173.9 392.6 1175.2 394.2 1176.5 394.0 1177.8 395.1 1179.1 394.6 1180.4 394.4 1181.7 394.0 1183.0 395.5 1184.3 396.9 1185.6 397.6 1186.9 394.4 1188.2 397.4 1189.5 395.1 1190.8 396.3 1192.1 395.6 1193.4 397.4 1194.7 394.7 1196.0 396.6 1197.3 395.6 1198.6 392.8 1199.9 394.2 1201.2 395.4 1202.5 394.1 1203.8 395.2 1205.1 398.0 1206.4 396.9 1207.7 395.7 1209.0 400.1 1210.3 396.8 1211.6 397.3 1212.9 395.9 1214.2 398.1 1215.5 395.7 1216.8 398.0 1218.1 396.8 1219.4 396.8 1220.7 397.5 1222.0 399.4 1223.3 395.5 1224.6 397.4 1225.9 397.4 1227.2 398.7 1228.5 395.7 1229.8 397.9 1231.1 397.8 1232.4 397.2 1233.7 397.8 1235.0 396.5 1236.3 400.4 1237.6 397.0 1238.9 397.1 1240.2 396.9 1241.5 396.8 1242.8 396.9 1244.1 397.5 1245.4 395.1 1246.7 398.4 1248.0 392.5 1249.3 395.9 1250.6 394.8 1251.9 393.7 1253.2 392.5 1254.5 393.4 1255.8 393.7 1257.1 392.1 1258.4 392.1 1259.7 390.0 1261.0 392.4 1262.3 391.9 1263.6 392.0 1264.9 389.6 1266.2 390.2 1267.5 386.5 1268.8 387.9 1270.1 385.4 1271.4 384.7 1272.7 382.4 1274.0 382.6 1275.3 379.9 1276.6 378.8 1277.9 377.0 1279.2 378.3 1280.5 375.4 1281.8 375.7 1283.1 375.4 1284.4 376.2 1285.7 373.7 1287.0 376.3 1288.3 373.0 1289.6 373.5 1290.9 371.5 1292.2 372.3 1293.5 375.5 1294.8 370.3 1296.1 373.9 1297.4 370.9 1298.7 373.9 1300.0 372.5 1301.3 372.8 1302.6 371.8 1303.9 368.8 1305.2 372.7 1306.5 370.1 1307.8 368.6 1309.1 370.5 1310.4 369.7 1311.7 372.6 1313.0 372.7 1314.3 371.9 1315.6 374.4 1316.9 374.3 1318.2 372.2 1319.5 374.7 1320.8 374.6 1322.1 375.2 1323.4 373.9 1324.7 376.4 1326.0 374.9 1327.3 374.2 1328.6 376.8 1329.9 377.5 1331.2 377.9 1332.5 381.9 1333.8 382.3 1335.1 382.3 1336.4 382.0 1337.7 382.0 1339.0 380.3 1340.3 386.3 1341.6 383.0 1342.9 385.2 1344.2 386.8 1345.5 384.5 1346.8 384.5 1348.1 386.4 1349.4 382.8 1350.7 384.9 1352.0 386.2 1353.3 388.8 1354.6 388.4 1355.9 386.8 1357.2 388.4 1358.5 386.5 1359.8 389.7 1361.1 386.0 1362.4 388.6 1363.7 390.6 1365.0 389.5 1366.3 389.5 1367.6 392.3 1368.9 388.4 1370.2 388.5 1371.5 387.9 1372.8 388.2 1374.1 388.4 1375.4 392.1 1376.7 387.7 1378.0 389.9 1379.3 387.9 1380.6 390.5 1381.9 388.0 1383.2 390.9 1384.5 389.3 1385.8 387.5 1387.1 387.7 1388.4 387.9 1389.7 392.5 1391.0 390.0 1392.3 389.4 1393.6 390.0 1394.9 390.8 1396.2 389.0 1397.5 390.1 1398.8 388.7 1400.1 390.7 1401.4 387.4 1402.7 388.9 1404.0 389.9 1405.3 386.9 1406.6 389.7 1407.9 387.9 1409.2 388.6 1410.5 385.9 1411.8 387.9 1413.1 387.2 1414.4 388.3 1415.7 385.4 1417.0 389.9 1418.3 385.2 1419.6 389.2 1420.9 386.4 1422.2 385.3 1423.5 386.6 1424.8 386.3 1426.1 390.4 1427.4 388.4 1428.7 388.1 1430.0 388.2 1431.3 384.3 1432.6 388.6 1433.9 386.1 1435.2 387.0 1436.5 385.2 1437.8 385.4 1439.1 385.8 1440.4 385.5 1441.7 388.3 1443.0 386.0 1444.3 386.1 1445.6 384.6 1446.9 386.6 1448.2 384.2 1449.5 385.4 1450.8 386.3 1452.1 385.9 1453.4 388.8 1454.7 385.7 1456.0 385.8 1457.3 386.1 1458.6 387.2 1459.9 384.9 1461.2 389.4 1462.5 387.4 1463.8 387.4 1465.1 387.4 1466.4 386.4 1467.7 388.2 1469.0 385.3 1470.3 384.7 1471.6 384.7 1472.9 387.0 1474.2 386.1 1475.5 388.4 1476.8 386.1 1478.1 386.4 1479.4 387.2 1480.7 385.1 1482.0 384.3 1483.3 387.1 1484.6 387.2 1485.9 390.7 1487.2 385.1 1488.5 388.7 1489.8 385.8 1491.1 386.8 1492.4 389.3 1493.7 386.8 1495.0 391.6 1496.3 389.8 1497.6 392.2 1498.9 388.9 1500.2 389.4 1501.5 392.6 1502.8 389.0 1504.1 389.1 1505.4 390.0 1506.7 389.9 1508.0 390.2 1509.3 389.9 1510.6 390.4 1511.9 389.8 1513.2 389.4 1514.5 391.1 1515.8 390.0 1517.1 392.7 1518.4 389.9 1519.7 389.2 1521.0 390.7 1522.3 389.9 1523.6 393.0 1524.9 392.0 1526.2 390.1 1527.5 393.6 1528.8 387.9 1530.1 390.4 1531.4 391.8 1532.7 390.5 1534.0 388.1 1535.3 389.5 1536.6 390.8 1537.9 387.3 1539.2 391.7 1540.5 391.6 1541.8 389.6 1543.1 390.2 1544.4 388.2 1545.7 391.0 1547.0 389.9 1548.3 389.6 1549.6 389.2 1550.9 388.2 1552.2 389.9 1553.5 391.5 1554.8 390.4 1556.1 388.5 1557.4 391.7 1558.7 390.3 1560.0 389.4 1561.3 389.7 1562.6 391.2 1563.9 388.3 1565.2 389.9 1566.5 388.7 1567.8 389.7 1569.1 388.4 1570.4 387.5 1571.7 386.2 1573.0 387.8 1574.3 390.9 1575.6 389.5 1576.9 390.8 1578.2 388.4 1579.5 389.1 1580.8 389.6 1582.1 388.3 1583.4 389.3 1584.7 388.1 1586.0 389.1 1587.3 391.5 1588.6 389.7 1589.9 386.4 1591.2 388.1 1592.5 387.8 1593.8 389.6 1595.1 390.5 1596.4 388.6 1597.7 388.4 1599.0 389.9 1600.3 387.4 1601.6 386.0 1602.9 386.6 1604.2 389.5 1605.5 384.4 1606.8 383.7 1608.1 383.4 1609.4 387.0 1610.7 384.9 1612.0 383.2 1613.3 381.9 1614.6 383.2 1615.9 384.7 1617.2 382.3 1618.5 379.6 1619.8 386.4 1621.1 382.7 1622.4 380.7 1623.7 382.4 1625.0 382.0 1626.3 380.3 1627.6 380.9 1628.9 380.1 1630.2 377.7 1631.5 381.1 1632.8 381.1 1634.1 381.0 1635.4 380.7 1636.7 379.4 1638.0 381.1 1639.3 380.6 1640.6 380.2 1641.9 382.7 1643.2 380.2 1644.5 385.3 1645.8 382.6 1647.1 383.3 1648.4 384.8 1649.7 387.0 1651.0 383.7 1652.3 387.6 1653.6 385.1 1654.9 387.8 1656.2 388.9 1657.5 386.9 1658.8 387.4 1660.1 387.1 1661.4 387.6 1662.7 387.7 1664.0 390.5 1665.3 386.6 1666.6 387.9 1667.9 390.8 1669.2 387.3 1670.5 387.4 1671.8 389.4 1673.1 387.4 1674.4 385.5 1675.7 389.1 1677.0 388.7 1678.3 386.5 1679.6 388.9 1680.9 387.2 1682.2 388.4 1683.5 385.4 1684.8 388.5 1686.1 385.8 1687.4 389.1 1688.7 387.8 1690.0 386.5 1691.3 388.1 1692.6 386.0 1693.9 382.3 1695.2 384.5 1696.5 383.8 1697.8 384.1 1699.1 386.9 1700.4 384.6 1701.7 384.0 1703.0 385.2 1704.3 384.6 1705.6 380.6 1706.9 381.4 1708.2 381.7 1709.5 384.6 1710.8 386.0 1712.1 383.4 1713.4 381.5 1714.7 382.0 1716.0 381.5 1717.3 386.5 1718.6 381.5 1719.9 382.2 1721.2 384.6 1722.5 387.0 1723.8 389.2 1725.1 387.7 1726.4 391.4 1727.7 389.6 1729.0 390.1 1730.3 392.4 1731.6 392.5 1732.9 394.1 1734.2 392.9 1735.5 396.1 1736.8 393.6 1738.1 393.2 1739.4 393.7 1740.7 396.1 1742.0 392.3 1743.3 393.8 1744.6 392.4 1745.9 392.6 1747.2 394.8 1748.5 395.1 1749.8 398.2 1751.1 394.1 1752.4 394.4 1753.7 394.3 1755.0 393.1 1756.3 392.6 1757.6 395.9 1758.9 394.8 1760.2 393.6 1761.5 396.1 1762.8 396.0 1764.1 394.9 1765.4 393.7 1766.7 395.2 1768.0 397.1 1769.3 395.7 1770.6 394.4 1771.9 394.9 1773.2 393.1 1774.5 391.1 1775.8 397.7 1777.1 394.7 1778.4 394.1 1779.7 395.2 1781.0 396.7 1782.3 393.7 1783.6 394.6 1784.9 392.2 1786.2 393.2 1787.5 393.9 1788.8 392.5 1790.1 394.6 1791.4 395.3 1792.7 393.7 1794.0 393.5 1795.3 391.5 1796.6 392.0 1797.9 393.9 1799.2 396.3 1800.5 391.3 1801.8 394.3 1803.1 394.6 1804.4 393.5 1805.7 392.2 1807.0 390.1 1808.3 395.9 1809.6 391.8 1810.9 395.4 1812.2 394.2 1813.5 394.3 1814.8 393.3 1816.1 391.7 1817.4 392.9 1818.7 396.9 1820.0 394.6 1821.3 392.9 1822.6 395.9 1823.9 395.6 1825.2 393.2 1826.5 393.8 1827.8 393.8 1829.1 394.9 1830.4 394.2 1831.7 396.9 1833.0 394.4 1834.3 395.1 1835.6 396.4 1836.9 396.4 1838.2 393.5 1839.5 396.4 1840.8 396.0 1842.1 395.6 1843.4 395.0 1844.7 395.9 1846.0 397.5 1847.3 395.3 1848.6 394.6 1849.9 395.0 1851.2 396.7 1852.5 393.7 1853.8 394.3 1855.1 394.5 1856.4 398.9 1857.7 394.5 1859.0 396.6 1860.3 397.2 1861.6 394.7 1862.9 396.6 1864.2 394.0 1865.5 394.6 1866.8 396.4 1868.1 398.3 1869.4 397.5 1870.7 395.4 1872.0 398.2 1873.3 398.0 1874.6 395.7 1875.9 398.2 1877.2 395.6 1878.5 399.1 1879.8 396.9 1881.1 396.6 1882.4 398.4 1883.7 396.4 1885.0 399.2 1886.3 397.9 1887.6 396.3 1888.9 396.4 1890.2 400.8 1891.5 397.6 1892.8 394.8 1894.1 397.8 1895.4 397.2 1896.7 398.0 1898.0 400.3 1899.3 395.1 1900.6 400.8 1901.9 398.3 1903.2 399.0 1904.5 399.5 1905.8 396.5 1907.1 398.7 1908.4 398.5 1909.7 398.1 1911.0 395.4 1912.3 398.5 1913.6 400.3 1914.9 396.5 1916.2 398.4 1917.5 398.8 1918.8 396.7 1920.1 397.8 1921.4 399.1"/>
<path class="c" stroke="#000" stroke-width="6.80" d="M162.5 358.4 163.8 363.1 165.1 366.7 166.4 365.6 167.7 364.7 169.0 377.1 170.3 372.2 171.6 373.4 172.9 370.1 174.2 372.3 175.5 377.2 176.8 376.0 178.1 380.5 179.4 383.4 180.7 375.6 182.0 375.9 183.3 384.4 184.6 381.8 185.9 384.9 187.2 387.7 188.5 388.3 189.8 379.6 191.1 387.7 192.4 391.1 193.7 386.6 195.0 385.3 196.3 385.5 197.6 389.7 198.9 387.7 200.2 389.6 201.5 386.9 202.8 391.8 204.1 388.4 205.4 386.0 206.7 394.4 208.0 390.0 209.3 391.2 210.6 393.0 211.9 392.4 213.2 394.1 214.5 395.9 215.8 399.5 217.1 398.0 218.4 396.3 219.7 393.8 221.0 397.5 222.3 399.1 223.6 404.5 224.9 399.6 226.2 395.7 227.5 401.1 228.8 402.2 230.1 398.0 231.4 403.7 232.7 404.1 234.0 405.8 235.3 403.7 236.6 406.3 237.9 402.0 239.2 405.5 240.5 406.7 241.8 404.1 243.1 402.3 244.4 403.0 245.7 407.9 247.0 409.0 248.3 405.5 249.6 408.1 250.9 402.3 252.2 403.8 253.5 400.2 254.8 402.8 256.1 400.6 257.4 397.8 258.7 399.2 260.0 406.5 261.3 405.3 262.6 402.1 263.9 407.3 265.2 410.9 266.5 412.4 267.8 416.6 269.1 413.8 270.4 417.2 271.7 418.4 273.0 421.9 274.3 416.4 275.6 420.2 276.9 416.5 278.2 423.5 279.5 423.3 280.8 423.0 282.1 424.8 283.4 419.2 284.7 425.3 286.0 423.0 287.3 429.4 288.6 426.1 289.9 430.6 291.2 430.8 292.5 425.3 293.8 425.2 295.1 425.6 296.4 428.9 297.7 432.2 299.0 426.6 300.3 428.3 301.6 424.6 302.9 433.3 304.2 431.0 305.5 436.9 306.8 429.6 308.1 431.2 309.4 430.3 310.7 433.4 312.0 432.8 313.3 436.1 314.6 433.9 315.9 433.6 317.2 432.5 318.5 434.7 319.8 433.9 321.1 435.5 322.4 435.3 323.7 439.0 325.0 440.6 326.3 435.7 327.6 439.8 328.9 439.7 330.2 436.3 331.5 436.3 332.8 444.2 334.1 443.2 335.4 435.7 336.7 438.7 338.0 442.0 339.3 440.8 340.6 438.3 341.9 442.8 343.2 440.9 344.5 447.0 345.8 446.8 347.1 439.4 348.4 442.9 349.7 442.1 351.0 438.8 352.3 442.6 353.6 445.5 354.9 442.1 356.2 447.0 357.5 446.5 358.8 446.8 360.1 451.5 361.4 445.6 362.7 446.7 364.0 450.4 365.3 449.1 366.6 451.4 367.9 448.6 369.2 451.9 370.5 455.4 371.8 449.4 373.1 450.3 374.4 454.3 375.7 453.2 377.0 450.9 378.3 451.3 379.6 451.9 380.9 454.0 382.2 453.5 383.5 449.7 384.8 451.8 386.1 451.0 387.4 452.5 388.7 451.5 390.0 456.7 391.3 456.0 392.6 459.8 393.9 456.0 395.2 457.8 396.5 450.3 397.8 454.6 399.1 451.6 400.4 460.7 401.7 457.9 403.0 458.1 404.3 452.6 405.6 452.3 406.9 456.3 408.2 457.2 409.5 452.1 410.8 457.0 412.1 456.4 413.4 455.6 414.7 461.3 416.0 459.2 417.3 458.0 418.6 461.3 419.9 461.2 421.2 461.2 422.5 461.3 423.8 463.5 425.1 458.3 426.4 465.4 427.7 462.6 429.0 461.8 430.3 464.8 431.6 462.3 432.9 465.5 434.2 463.7 435.5 466.4 436.8 460.7 438.1 461.3 439.4 463.7 440.7 463.4 442.0 465.6 443.3 465.3 444.6 466.6 445.9 464.2 447.2 462.3 448.5 465.6 449.8 468.4 451.1 463.2 452.4 467.3 453.7 465.7 455.0 464.5 456.3 469.2 457.6 466.9 458.9 464.8 460.2 469.4 461.5 460.5 462.8 463.8 464.1 465.1 465.4 463.2 466.7 460.1 468.0 463.5 469.3 460.4 470.6 464.5 471.9 458.0 473.2 460.5 474.5 459.1 475.8 463.7 477.1 462.0 478.4 463.4 479.7 459.6 481.0 463.4 482.3 460.9 483.6 463.0 484.9 467.7 486.2 460.1 487.5 468.9 488.8 469.7 490.1 463.9 491.4 469.4 492.7 468.9 494.0 468.2 495.3 472.9 496.6 475.3 497.9 474.4 499.2 473.5 500.5 476.7 501.8 477.8 503.1 475.4 504.4 476.3 505.7 477.3 507.0 479.0 508.3 474.5 509.6 475.4 510.9 475.4 512.2 478.9 513.5 476.2 514.8 480.6 516.1 480.8 517.4 478.6 518.7 480.3 520.0 481.6 521.3 480.2 522.6 481.4 523.9 476.4 525.2 482.4 526.5 476.5 527.8 480.5 529.1 483.5 530.4 478.8 531.7 481.7 533.0 478.7 534.3 483.5 535.6 482.6 536.9 484.7 538.2 483.7 539.5 483.2 540.8 483.5 542.1 479.4 543.4 486.8 544.7 482.4 546.0 484.7 547.3 481.0 548.6 483.3 549.9 482.3 551.2 484.9 552.5 481.7 553.8 483.6 555.1 481.9 556.4 481.5 557.7 482.5 559.0 481.6 560.3 483.5 561.6 483.4 562.9 481.8 564.2 478.6 565.5 481.1 566.8 481.0 568.1 480.6 569.4 481.5 570.7 480.3 572.0 478.3 573.3 481.5 574.6 475.7 575.9 475.6 577.2 479.2 578.5 474.1 579.8 471.9 581.1 475.6 582.4 474.3 583.7 470.3 585.0 470.8 586.3 468.8 587.6 467.8 588.9 464.0 590.2 463.0 591.5 459.9 592.8 454.6 594.1 452.3 595.4 443.5 596.7 439.0 598.0 437.9 599.3 430.5 600.6 426.4 601.9 421.1 603.2 418.0 604.5 416.5 605.8 408.4 607.1 409.2 608.4 409.0 609.7 410.3 611.0 416.4 612.3 424.0 613.6 431.7 614.9 431.1 616.2 436.2 617.5 439.9 618.8 446.7 620.1 447.8 621.4 455.4 622.7 458.2 624.0 461.6 625.3 470.9 626.6 471.7 627.9 472.8 629.2 475.3 630.5 477.2 631.8 480.8 633.1 480.6 634.4 478.1 635.7 481.6 637.0 475.8 638.3 481.6 639.6 483.4 640.9 483.7 642.2 482.3 643.5 478.5 644.8 480.0 646.1 482.6 647.4 481.7 648.7 478.4 650.0 479.0 651.3 476.6 652.6 472.7 653.9 470.1 655.2 469.0 656.5 462.8 657.8 466.8 659.1 463.7 660.4 463.9 661.7 465.6 663.0 459.1 664.3 459.9 665.6 459.1 666.9 462.4 668.2 454.4 669.5 461.2 670.8 464.3 672.1 464.5 673.4 467.7 674.7 471.0 676.0 473.3 677.3 475.0 678.6 476.2 679.9 475.9 681.2 476.0 682.5 476.6 683.8 480.1 685.1 474.5 686.4 477.7 687.7 477.9 689.0 475.1 690.3 473.8 691.6 477.8 692.9 472.2 694.2 472.2 695.5 467.5 696.8 468.6 698.1 465.6 699.4 465.5 700.7 457.3 702.0 461.0 703.3 454.9 704.6 451.1 705.9 446.6 707.2 451.0 708.5 453.0 709.8 449.7 711.1 453.5 712.4 448.1 713.7 449.6 715.0 451.2 716.3 455.1 717.6 458.6 718.9 460.6 720.2 467.9 721.5 467.7 722.8 471.1 724.1 478.6 725.4 480.4 726.7 484.0 728.0 482.9 729.3 482.3 730.6 490.9 731.9 490.7 733.2 488.6 734.5 491.7 735.8 491.5 737.1 493.8 738.4 498.3 739.7 500.5 741.0 497.8 742.3 499.0 743.6 498.7 744.9 501.7 746.2 498.3 747.5 498.2 748.8 500.5 750.1 504.9 751.4 502.4 752.7 507.8 754.0 508.2 755.3 504.8 756.6 503.8 757.9 502.8 759.2 505.8 760.5 505.0 761.8 506.1 763.1 505.9 764.4 504.9 765.7 505.1 767.0 503.5 768.3 503.7 769.6 499.9 770.9 503.1 772.2 503.1 773.5 500.9 774.8 497.7 776.1 499.5 777.4 498.0 778.7 497.0 780.0 492.5 781.3 494.3 782.6 488.2 783.9 487.6 785.2 484.3 786.5 477.2 787.8 478.5 789.1 471.6 790.4 475.4 791.7 470.1 793.0 465.1 794.3 466.9 795.6 462.9 796.9 464.7 798.2 463.0 799.5 464.7 800.8 468.1 802.1 472.5 803.4 471.5 804.7 475.5 806.0 475.9 807.3 481.4 808.6 486.0 809.9 489.5 811.2 485.5 812.5 492.8 813.8 488.0 815.1 490.5 816.4 490.9 817.7 487.7 819.0 487.5 820.3 489.1 821.6 487.1 822.9 483.2 824.2 476.6 825.5 475.5 826.8 475.0 828.1 471.1 829.4 466.9 830.7 469.4 832.0 465.8 833.3 463.9 834.6 467.3 835.9 469.5 837.2 475.1 838.5 478.3 839.8 483.0 841.1 484.2 842.4 481.8 843.7 487.5 845.0 489.6 846.3 491.3 847.6 493.2 848.9 495.2 850.2 495.2 851.5 498.5 852.8 501.0 854.1 503.4 855.4 502.9 856.7 503.2 858.0 504.4 859.3 505.3 860.6 507.9 861.9 508.8 863.2 509.4 864.5 513.3 865.8 507.9 867.1 511.0 868.4 510.8 869.7 514.2 871.0 513.2 872.3 512.8 873.6 513.7 874.9 515.4 876.2 513.9 877.5 512.5 878.8 513.7 880.1 513.0 881.4 515.3 882.7 512.7 884.0 514.6 885.3 517.4 886.6 518.1 887.9 516.6 889.2 516.3 890.5 517.6 891.8 517.0 893.1 516.1 894.4 517.9 895.7 516.9 897.0 519.0 898.3 516.4 899.6 519.6 900.9 517.4 902.2 520.6 903.5 516.1 904.8 516.6 906.1 518.3 907.4 516.6 908.7 518.9 910.0 516.4 911.3 517.9 912.6 517.2 913.9 515.0 915.2 517.6 916.5 517.5 917.8 515.3 919.1 516.6 920.4 515.8 921.7 516.7 923.0 513.8 924.3 513.0 925.6 512.9 926.9 511.7 928.2 511.0 929.5 510.6 930.8 513.8 932.1 513.3 933.4 513.5 934.7 513.3 936.0 512.6 937.3 509.8 938.6 512.0 939.9 514.6 941.2 513.4 942.5 513.9 943.8 514.6 945.1 515.9 946.4 513.8 947.7 514.9 949.0 515.3 950.3 515.7 951.6 517.1 952.9 516.7 954.2 516.0 955.5 518.2 956.8 519.1 958.1 518.7 959.4 519.2 960.7 520.4 962.0 518.0 963.3 517.3 964.6 519.0 965.9 518.7 967.2 517.9 968.5 517.0 969.8 517.4 971.1 515.7 972.4 515.9 973.7 517.1 975.0 515.9 976.3 516.2 977.6 515.8 978.9 517.0 980.2 517.9 981.5 517.5 982.8 516.0 984.1 513.9 985.4 515.0 986.7 514.6 988.0 510.6 989.3 509.7 990.6 512.5 991.9 509.4 993.2 512.2 994.5 511.9 995.8 510.6 997.1 510.0 998.4 508.5 999.7 509.0 1001.0 507.1 1002.3 508.0 1003.6 509.3 1004.9 508.8 1006.2 508.9 1007.5 505.7 1008.8 505.6 1010.1 504.6 1011.4 506.2 1012.7 503.4 1014.0 508.1 1015.3 504.3 1016.6 505.0 1017.9 508.0 1019.2 508.2 1020.5 507.9 1021.8 508.1 1023.1 508.1 1024.4 509.5 1025.7 509.5 1027.0 509.8 1028.3 508.0 1029.6 511.5 1030.9 514.4 1032.2 514.0 1033.5 511.5 1034.8 516.0 1036.1 518.6 1037.4 515.7 1038.7 514.9 1040.0 517.4 1041.3 517.6 1042.6 518.9 1043.9 518.1 1045.2 519.5 1046.5 519.2 1047.8 520.4 1049.1 519.2 1050.4 519.6 1051.7 519.6 1053.0 519.7 1054.3 519.1 1055.6 521.8 1056.9 520.0 1058.2 522.3 1059.5 520.1 1060.8 517.8 1062.1 519.1 1063.4 520.4 1064.7 520.7 1066.0 521.1 1067.3 520.5 1068.6 520.3 1069.9 520.0 1071.2 519.3 1072.5 519.9 1073.8 522.2 1075.1 522.3 1076.4 522.5 1077.7 521.1 1079.0 523.6 1080.3 519.2 1081.6 522.1 1082.9 521.5 1084.2 522.3 1085.5 522.0 1086.8 521.5 1088.1 521.7 1089.4 520.8 1090.7 519.3 1092.0 520.8 1093.3 521.8 1094.6 520.4 1095.9 520.9 1097.2 520.8 1098.5 523.7 1099.8 520.4 1101.1 520.9 1102.4 519.9 1103.7 518.4 1105.0 520.8 1106.3 521.4 1107.6 519.4 1108.9 520.0 1110.2 519.3 1111.5 520.5 1112.8 520.2 1114.1 520.3 1115.4 520.2 1116.7 520.3 1118.0 521.6 1119.3 518.6 1120.6 518.1 1121.9 518.6 1123.2 518.8 1124.5 520.2 1125.8 518.6 1127.1 520.5 1128.4 517.0 1129.7 517.8 1131.0 514.8 1132.3 517.3 1133.6 519.9 1134.9 515.4 1136.2 517.2 1137.5 517.1 1138.8 517.4 1140.1 517.8 1141.4 517.8 1142.7 514.0 1144.0 515.5 1145.3 515.9 1146.6 514.6 1147.9 514.6 1149.2 514.0 1150.5 515.4 1151.8 513.7 1153.1 515.4 1154.4 513.0 1155.7 512.9 1157.0 515.0 1158.3 514.3 1159.6 513.8 1160.9 513.5 1162.2 513.3 1163.5 513.8 1164.8 514.6 1166.1 514.3 1167.4 517.2 1168.7 515.9 1170.0 515.4 1171.3 516.1 1172.6 513.3 1173.9 514.0 1175.2 517.9 1176.5 516.5 1177.8 519.1 1179.1 517.8 1180.4 517.8 1181.7 519.8 1183.0 520.5 1184.3 519.9 1185.6 523.2 1186.9 521.2 1188.2 523.1 1189.5 523.4 1190.8 524.1 1192.1 524.3 1193.4 523.8 1194.7 525.0 1196.0 524.3 1197.3 525.1 1198.6 524.6 1199.9 525.4 1201.2 525.6 1202.5 524.6 1203.8 526.3 1205.1 524.9 1206.4 525.2 1207.7 522.5 1209.0 522.3 1210.3 525.5 1211.6 524.0 1212.9 525.0 1214.2 524.6 1215.5 526.8 1216.8 524.7 1218.1 524.3 1219.4 525.9 1220.7 525.2 1222.0 526.4 1223.3 526.9 1224.6 524.4 1225.9 527.0 1227.2 525.6 1228.5 523.3 1229.8 525.0 1231.1 527.7 1232.4 525.0 1233.7 525.9 1235.0 524.2 1236.3 524.1 1237.6 525.0 1238.9 525.5 1240.2 525.5 1241.5 523.8 1242.8 523.3 1244.1 523.9 1245.4 523.2 1246.7 525.4 1248.0 523.5 1249.3 523.8 1250.6 523.2 1251.9 522.2 1253.2 522.6 1254.5 521.8 1255.8 522.3 1257.1 522.2 1258.4 521.5 1259.7 521.6 1261.0 519.9 1262.3 519.2 1263.6 521.0 1264.9 518.1 1266.2 516.2 1267.5 517.7 1268.8 516.3 1270.1 515.2 1271.4 513.8 1272.7 512.2 1274.0 514.9 1275.3 511.6 1276.6 512.6 1277.9 511.9 1279.2 509.5 1280.5 509.4 1281.8 506.8 1283.1 509.6 1284.4 507.7 1285.7 506.6 1287.0 506.8 1288.3 505.5 1289.6 509.3 1290.9 505.6 1292.2 503.2 1293.5 503.4 1294.8 506.1 1296.1 508.4 1297.4 502.9 1298.7 506.2 1300.0 505.0 1301.3 506.0 1302.6 508.0 1303.9 501.6 1305.2 504.6 1306.5 508.2 1307.8 503.9 1309.1 506.3 1310.4 505.2 1311.7 505.2 1313.0 502.5 1314.3 507.5 1315.6 503.7 1316.9 507.0 1318.2 507.4 1319.5 507.9 1320.8 507.2 1322.1 506.1 1323.4 511.9 1324.7 509.5 1326.0 510.2 1327.3 514.0 1328.6 510.8 1329.9 512.5 1331.2 512.5 1332.5 513.2 1333.8 512.9 1335.1 515.1 1336.4 515.7 1337.7 516.7 1339.0 514.7 1340.3 517.0 1341.6 518.3 1342.9 518.9 1344.2 520.4 1345.5 520.8 1346.8 518.1 1348.1 518.3 1349.4 521.4 1350.7 520.6 1352.0 521.7 1353.3 522.0 1354.6 523.3 1355.9 523.8 1357.2 522.5 1358.5 525.1 1359.8 525.2 1361.1 521.7 1362.4 524.3 1363.7 523.0 1365.0 525.5 1366.3 524.2 1367.6 522.6 1368.9 525.6 1370.2 523.3 1371.5 524.0 1372.8 525.3 1374.1 523.9 1375.4 525.2 1376.7 523.8 1378.0 523.7 1379.3 523.4 1380.6 524.8 1381.9 524.5 1383.2 524.1 1384.5 524.3 1385.8 525.7 1387.1 525.2 1388.4 525.3 1389.7 526.3 1391.0 525.4 1392.3 522.8 1393.6 527.4 1394.9 524.6 1396.2 523.9 1397.5 522.3 1398.8 522.2 1400.1 522.5 1401.4 522.1 1402.7 523.5 1404.0 525.4 1405.3 522.3 1406.6 522.6 1407.9 522.8 1409.2 522.7 1410.5 520.6 1411.8 521.5 1413.1 520.7 1414.4 520.1 1415.7 520.2 1417.0 517.6 1418.3 520.9 1419.6 519.8 1420.9 521.1 1422.2 519.6 1423.5 519.0 1424.8 516.3 1426.1 519.0 1427.4 517.9 1428.7 517.6 1430.0 515.6 1431.3 517.0 1432.6 516.4 1433.9 514.9 1435.2 517.9 1436.5 515.1 1437.8 515.0 1439.1 516.3 1440.4 517.1 1441.7 515.6 1443.0 517.0 1444.3 517.8 1445.6 517.3 1446.9 517.2 1448.2 518.4 1449.5 516.9 1450.8 516.4 1452.1 519.2 1453.4 518.3 1454.7 516.8 1456.0 516.0 1457.3 518.6 1458.6 517.3 1459.9 518.9 1461.2 516.8 1462.5 515.5 1463.8 516.5 1465.1 513.1 1466.4 513.9 1467.7 512.4 1469.0 509.1 1470.3 511.0 1471.6 512.7 1472.9 509.7 1474.2 508.4 1475.5 505.5 1476.8 510.3 1478.1 503.7 1479.4 508.1 1480.7 508.9 1482.0 509.8 1483.3 507.2 1484.6 505.9 1485.9 509.7 1487.2 508.9 1488.5 510.4 1489.8 513.2 1491.1 509.3 1492.4 513.2 1493.7 515.0 1495.0 514.8 1496.3 514.0 1497.6 515.8 1498.9 517.1 1500.2 519.8 1501.5 519.0 1502.8 522.3 1504.1 519.7 1505.4 521.7 1506.7 520.1 1508.0 522.1 1509.3 523.1 1510.6 520.7 1511.9 524.5 1513.2 521.8 1514.5 522.0 1515.8 522.5 1517.1 523.7 1518.4 523.5 1519.7 523.3 1521.0 524.2 1522.3 525.1 1523.6 524.2 1524.9 523.4 1526.2 524.2 1527.5 522.5 1528.8 524.5 1530.1 523.2 1531.4 522.9 1532.7 524.8 1534.0 522.3 1535.3 521.8 1536.6 521.8 1537.9 522.1 1539.2 520.6 1540.5 522.5 1541.8 521.4 1543.1 521.2 1544.4 522.2 1545.7 520.2 1547.0 519.1 1548.3 522.2 1549.6 519.6 1550.9 522.0 1552.2 522.1 1553.5 522.4 1554.8 521.0 1556.1 521.0 1557.4 520.4 1558.7 521.7 1560.0 521.6 1561.3 523.3 1562.6 522.0 1563.9 521.2 1565.2 522.2 1566.5 520.7 1567.8 523.5 1569.1 521.8 1570.4 520.8 1571.7 522.1 1573.0 521.6 1574.3 523.5 1575.6 523.3 1576.9 522.2 1578.2 524.7 1579.5 523.0 1580.8 523.8 1582.1 522.8 1583.4 525.3 1584.7 523.3 1586.0 522.9 1587.3 523.1 1588.6 524.0 1589.9 522.0 1591.2 524.4 1592.5 526.5 1593.8 522.9 1595.1 525.1 1596.4 523.7 1597.7 524.7 1599.0 524.3 1600.3 523.0 1601.6 523.5 1602.9 521.7 1604.2 522.9 1605.5 523.1 1606.8 520.8 1608.1 521.0 1609.4 520.1 1610.7 520.4 1612.0 518.8 1613.3 522.2 1614.6 522.7 1615.9 518.0 1617.2 516.4 1618.5 518.8 1619.8 516.0 1621.1 520.5 1622.4 518.1 1623.7 518.4 1625.0 516.5 1626.3 517.7 1627.6 517.3 1628.9 516.5 1630.2 514.6 1631.5 518.9 1632.8 517.0 1634.1 517.2 1635.4 517.9 1636.7 517.3 1638.0 518.0 1639.3 515.2 1640.6 517.5 1641.9 519.1 1643.2 515.3 1644.5 517.8 1645.8 519.0 1647.1 522.5 1648.4 518.5 1649.7 519.0 1651.0 522.6 1652.3 521.2 1653.6 523.4 1654.9 524.5 1656.2 522.7 1657.5 522.2 1658.8 522.6 1660.1 521.0 1661.4 522.3 1662.7 523.1 1664.0 522.4 1665.3 522.0 1666.6 522.5 1667.9 519.3 1669.2 521.8 1670.5 519.5 1671.8 519.7 1673.1 517.9 1674.4 518.6 1675.7 518.1 1677.0 519.1 1678.3 517.7 1679.6 516.3 1680.9 517.6 1682.2 516.6 1683.5 516.5 1684.8 516.1 1686.1 515.7 1687.4 515.6 1688.7 515.6 1690.0 515.0 1691.3 515.7 1692.6 515.6 1693.9 515.8 1695.2 514.3 1696.5 514.7 1697.8 517.9 1699.1 516.8 1700.4 516.5 1701.7 515.1 1703.0 514.3 1704.3 515.7 1705.6 515.4 1706.9 516.8 1708.2 516.3 1709.5 518.2 1710.8 520.1 1712.1 519.9 1713.4 519.5 1714.7 520.8 1716.0 519.4 1717.3 521.1 1718.6 522.1 1719.9 518.9 1721.2 522.4 1722.5 521.8 1723.8 524.6 1725.1 524.0 1726.4 521.8 1727.7 526.2 1729.0 524.0 1730.3 524.3 1731.6 524.0 1732.9 525.4 1734.2 524.6 1735.5 527.1 1736.8 524.3 1738.1 524.3 1739.4 524.3 1740.7 525.5 1742.0 526.7 1743.3 526.7 1744.6 523.7 1745.9 527.2 1747.2 527.8 1748.5 527.1 1749.8 525.8 1751.1 525.1 1752.4 527.3 1753.7 524.9 1755.0 527.5 1756.3 524.0 1757.6 526.1 1758.9 523.3 1760.2 525.0 1761.5 526.9 1762.8 527.6 1764.1 524.0 1765.4 525.7 1766.7 525.7 1768.0 526.6 1769.3 527.2 1770.6 525.1 1771.9 525.7 1773.2 527.6 1774.5 523.9 1775.8 526.4 1777.1 525.6 1778.4 526.1 1779.7 523.3 1781.0 524.9 1782.3 526.6 1783.6 524.5 1784.9 524.4 1786.2 526.6 1787.5 526.2 1788.8 526.2 1790.1 525.9 1791.4 526.9 1792.7 524.3 1794.0 524.0 1795.3 525.9 1796.6 526.6 1797.9 526.9 1799.2 525.1 1800.5 524.3 1801.8 523.3 1803.1 526.7 1804.4 524.4 1805.7 523.3 1807.0 523.7 1808.3 523.8 1809.6 523.5 1810.9 523.1 1812.2 523.2 1813.5 522.9 1814.8 522.4 1816.1 523.8 1817.4 525.8 1818.7 523.5 1820.0 526.3 1821.3 525.9 1822.6 527.9 1823.9 528.8 1825.2 528.4 1826.5 527.5 1827.8 526.7 1829.1 529.6 1830.4 528.7 1831.7 530.9 1833.0 527.5 1834.3 528.8 1835.6 530.2 1836.9 528.3 1838.2 529.0 1839.5 528.9 1840.8 528.5 1842.1 529.3 1843.4 530.2 1844.7 530.1 1846.0 530.9 1847.3 531.7 1848.6 529.8 1849.9 530.0 1851.2 530.5 1852.5 531.2 1853.8 529.3 1855.1 530.6 1856.4 530.3 1857.7 531.0 1859.0 530.4 1860.3 531.7 1861.6 531.0 1862.9 529.4 1864.2 530.8 1865.5 532.0 1866.8 531.1 1868.1 531.8 1869.4 529.3 1870.7 531.8 1872.0 531.2 1873.3 532.0 1874.6 530.8 1875.9 531.6 1877.2 530.3 1878.5 529.6 1879.8 530.4 1881.1 532.3 1882.4 532.0 1883.7 530.7 1885.0 529.1 1886.3 530.1 1887.6 530.7 1888.9 529.5 1890.2 532.4 1891.5 530.8 1892.8 531.6 1894.1 531.3 1895.4 530.0 1896.7 530.4 1898.0 532.2 1899.3 530.9 1900.6 530.3 1901.9 529.6 1903.2 531.1 1904.5 530.5 1905.8 531.1 1907.1 532.1 1908.4 530.9 1909.7 530.6 1911.0 529.6 1912.3 531.9 1913.6 529.2 1914.9 530.4 1916.2 531.0 1917.5 531.2 1918.8 531.5 1920.1 531.7 1921.4 529.6"/>
<path class="c" stroke="#000" stroke-width="6.80" d="M162.5 546.1 163.8 546.9 165.1 547.8 166.4 553.9 167.7 553.7 169.0 550.7 170.3 560.7 171.6 553.8 172.9 554.1 174.2 555.9 175.5 559.4 176.8 554.8 178.1 551.9 179.4 556.0 180.7 559.6 182.0 557.1 183.3 559.4 184.6 556.0 185.9 559.6 187.2 556.3 188.5 562.8 189.8 564.8 191.1 557.1 192.4 562.4 193.7 563.6 195.0 565.1 196.3 565.3 197.6 569.2 198.9 573.2 200.2 574.8 201.5 569.6 202.8 571.2 204.1 575.3 205.4 574.2 206.7 569.2 208.0 570.3 209.3 573.6 210.6 572.9 211.9 568.7 213.2 570.0 214.5 575.8 215.8 571.6 217.1 572.5 218.4 575.4 219.7 575.8 221.0 575.1 222.3 577.0 223.6 578.8 224.9 577.9 226.2 581.6 227.5 574.1 228.8 582.7 230.1 584.1 231.4 583.4 232.7 575.5 234.0 580.2 235.3 582.6 236.6 585.3 237.9 583.0 239.2 582.2 240.5 580.7 241.8 582.6 243.1 582.8 244.4 577.7 245.7 580.0 247.0 585.6 248.3 578.6 249.6 583.7 250.9 585.3 252.2 583.9 253.5 581.1 254.8 586.1 256.1 584.2 257.4 584.9 258.7 584.8 260.0 584.8 261.3 589.3 262.6 588.7 263.9 590.7 265.2 590.7 266.5 593.1 267.8 590.2 269.1 596.3 270.4 591.5 271.7 596.3 273.0 595.4 274.3 595.3 275.6 596.8 276.9 599.6 278.2 597.8 279.5 599.3 280.8 605.4 282.1 603.3 283.4 604.1 284.7 600.7 286.0 602.7 287.3 606.1 288.6 603.9 289.9 608.1 291.2 606.4 292.5 602.0 293.8 607.8 295.1 605.9 296.4 600.4 297.7 608.9 299.0 610.6 300.3 609.3 301.6 608.7 302.9 606.5 304.2 609.5 305.5 608.6 306.8 611.5 308.1 609.9 309.4 609.4 310.7 610.2 312.0 608.5 313.3 609.7 314.6 616.3 315.9 611.4 317.2 605.5 318.5 607.4 319.8 613.8 321.1 611.0 322.4 611.3 323.7 611.1 325.0 610.4 326.3 609.4 327.6 617.2 328.9 615.6 330.2 612.5 331.5 617.7 332.8 618.3 334.1 612.2 335.4 610.7 336.7 614.1 338.0 616.3 339.3 620.3 340.6 619.2 341.9 618.1 343.2 619.8 344.5 620.9 345.8 616.8 347.1 617.6 348.4 620.2 349.7 617.8 351.0 618.8 352.3 622.2 353.6 624.6 354.9 622.5 356.2 620.7 357.5 623.4 358.8 625.4 360.1 620.4 361.4 623.6 362.7 629.9 364.0 623.4 365.3 624.3 366.6 620.8 367.9 623.2 369.2 630.7 370.5 625.5 371.8 624.8 373.1 625.6 374.4 623.6 375.7 629.4 377.0 626.7 378.3 626.3 379.6 625.7 380.9 627.9 382.2 627.7 383.5 632.5 384.8 631.8 386.1 631.7 387.4 632.8 388.7 632.6 390.0 631.8 391.3 633.7 392.6 632.2 393.9 636.2 395.2 635.4 396.5 633.9 397.8 629.6 399.1 632.1 400.4 635.0 401.7 631.9 403.0 635.4 404.3 637.7 405.6 634.1 406.9 633.2 408.2 638.7 409.5 636.5 410.8 638.0 412.1 635.5 413.4 641.6 414.7 640.6 416.0 637.7 417.3 642.0 418.6 638.1 419.9 640.6 421.2 640.1 422.5 635.1 423.8 638.5 425.1 638.2 426.4 637.2 427.7 638.1 429.0 641.1 430.3 639.9 431.6 638.1 432.9 636.9 434.2 641.5 435.5 639.4 436.8 640.2 438.1 641.8 439.4 642.1 440.7 640.4 442.0 640.2 443.3 637.9 444.6 636.5 445.9 641.9 447.2 642.4 448.5 642.1 449.8 639.9 451.1 640.5 452.4 640.3 453.7 637.1 455.0 640.9 456.3 646.1 457.6 637.9 458.9 638.3 460.2 639.0 461.5 638.2 462.8 634.1 464.1 635.8 465.4 635.3 466.7 630.9 468.0 630.1 469.3 635.6 470.6 632.7 471.9 632.5 473.2 633.1 474.5 631.5 475.8 630.5 477.1 632.6 478.4 637.6 479.7 636.6 481.0 634.5 482.3 643.3 483.6 637.3 484.9 638.3 486.2 642.1 487.5 642.5 488.8 647.4 490.1 643.9 491.4 645.0 492.7 641.3 494.0 645.0 495.3 644.9 496.6 644.1 497.9 646.5 499.2 647.6 500.5 651.9 501.8 651.3 503.1 649.8 504.4 648.6 505.7 650.7 507.0 653.3 508.3 648.2 509.6 650.8 510.9 647.3 512.2 653.9 513.5 653.0 514.8 654.9 516.1 652.9 517.4 653.7 518.7 652.9 520.0 652.8 521.3 653.6 522.6 656.3 523.9 650.6 525.2 653.5 526.5 655.8 527.8 656.1 529.1 652.6 530.4 656.0 531.7 654.2 533.0 656.6 534.3 661.2 535.6 655.6 536.9 651.9 538.2 657.6 539.5 657.1 540.8 655.8 542.1 658.6 543.4 654.8 544.7 655.9 546.0 662.2 547.3 658.0 548.6 660.1 549.9 659.7 551.2 660.7 552.5 654.1 553.8 654.9 555.1 657.2 556.4 656.6 557.7 658.4 559.0 657.6 560.3 656.1 561.6 653.7 562.9 657.1 564.2 658.0 565.5 657.1 566.8 653.0 568.1 654.9 569.4 658.0 570.7 652.3 572.0 654.9 573.3 657.3 574.6 654.4 575.9 652.0 577.2 654.2 578.5 651.0 579.8 649.1 581.1 646.8 582.4 648.1 583.7 641.5 585.0 643.4 586.3 638.7 587.6 635.5 588.9 631.8 590.2 629.3 591.5 624.9 592.8 624.0 594.1 617.9 595.4 618.0 596.7 612.4 598.0 606.1 599.3 601.1 600.6 599.3 601.9 591.7 603.2 589.1 604.5 580.2 605.8 583.8 607.1 582.3 608.4 576.8 609.7 588.2 611.0 586.8 612.3 587.8 613.6 593.6 614.9 596.1 616.2 608.3 617.5 615.0 618.8 614.8 620.1 616.1 621.4 623.0 622.7 630.1 624.0 632.3 625.3 635.1 626.6 640.4 627.9 637.7 629.2 642.8 630.5 644.8 631.8 644.4 633.1 647.0 634.4 649.9 635.7 649.7 637.0 651.1 638.3 651.3 639.6 650.1 640.9 649.7 642.2 652.7 643.5 649.2 644.8 648.1 646.1 650.5 647.4 650.4 648.7 646.6 650.0 650.4 651.3 651.1 652.6 650.0 653.9 644.8 655.2 643.7 656.5 642.9 657.8 636.5 659.1 639.0 660.4 633.7 661.7 629.4 663.0 638.0 664.3 632.0 665.6 635.0 666.9 634.4 668.2 629.6 669.5 635.0 670.8 631.6 672.1 628.7 673.4 631.3 674.7 634.6 676.0 634.6 677.3 637.4 678.6 637.8 679.9 636.4 681.2 643.9 682.5 642.3 683.8 645.9 685.1 644.4 686.4 641.9 687.7 643.5 689.0 643.7 690.3 638.0 691.6 636.8 692.9 634.3 694.2 632.1 695.5 626.0 696.8 621.6 698.1 621.0 699.4 614.9 700.7 613.3 702.0 605.7 703.3 608.1 704.6 606.5 705.9 606.6 707.2 603.6 708.5 602.5 709.8 601.2 711.1 600.4 712.4 607.3 713.7 606.7 715.0 604.7 716.3 614.0 717.6 620.1 718.9 621.0 720.2 630.1 721.5 634.7 722.8 643.1 724.1 643.3 725.4 651.6 726.7 653.0 728.0 655.6 729.3 657.5 730.6 662.6 731.9 662.1 733.2 665.9 734.5 667.0 735.8 670.4 737.1 673.2 738.4 670.7 739.7 675.3 741.0 675.3 742.3 675.9 743.6 676.0 744.9 676.0 746.2 679.2 747.5 676.0 748.8 672.6 750.1 677.3 751.4 677.4 752.7 678.6 754.0 676.0 755.3 679.0 756.6 677.0 757.9 679.1 759.2 680.1 760.5 675.9 761.8 677.6 763.1 679.7 764.4 680.0 765.7 676.0 767.0 676.0 768.3 677.2 769.6 673.5 770.9 673.3 772.2 673.8 773.5 672.0 774.8 671.8 776.1 668.6 777.4 667.2 778.7 667.2 780.0 661.8 781.3 659.9 782.6 657.6 783.9 653.8 785.2 651.6 786.5 648.4 787.8 648.1 789.1 642.0 790.4 640.9 791.7 639.3 793.0 639.3 794.3 632.6 795.6 633.8 796.9 632.4 798.2 628.2 799.5 631.1 800.8 631.3 802.1 635.2 803.4 636.4 804.7 645.8 806.0 643.3 807.3 646.6 808.6 645.9 809.9 649.6 811.2 647.1 812.5 647.7 813.8 647.0 815.1 652.5 816.4 655.4 817.7 654.6 819.0 654.2 820.3 653.6 821.6 655.4 822.9 654.8 824.2 650.8 825.5 648.4 826.8 647.9 828.1 642.6 829.4 638.3 830.7 641.2 832.0 643.7 833.3 643.9 834.6 646.2 835.9 652.1 837.2 648.6 838.5 651.7 839.8 656.0 841.1 655.0 842.4 658.5 843.7 657.8 845.0 665.5 846.3 669.3 847.6 672.9 848.9 675.6 850.2 675.4 851.5 678.6 852.8 677.7 854.1 681.6 855.4 680.2 856.7 681.6 858.0 685.2 859.3 682.2 860.6 683.0 861.9 684.4 863.2 683.9 864.5 685.7 865.8 684.8 867.1 688.2 868.4 686.8 869.7 689.3 871.0 689.8 872.3 689.3 873.6 690.4 874.9 691.1 876.2 687.0 877.5 689.2 878.8 690.9 880.1 693.0 881.4 688.4 882.7 694.2 884.0 690.8 885.3 688.6 886.6 690.0 887.9 690.2 889.2 690.8 890.5 689.9 891.8 692.7 893.1 691.8 894.4 694.1 895.7 692.0 897.0 692.2 898.3 692.1 899.6 693.3 900.9 693.9 902.2 693.4 903.5 690.2 904.8 694.3 906.1 692.2 907.4 692.9 908.7 691.9 910.0 693.1 911.3 691.8 912.6 692.4 913.9 689.9 915.2 691.6 916.5 691.3 917.8 692.1 919.1 691.7 920.4 690.4 921.7 691.0 923.0 690.5 924.3 691.4 925.6 690.5 926.9 690.5 928.2 691.8 929.5 687.7 930.8 688.0 932.1 687.3 933.4 689.2 934.7 690.5 936.0 689.3 937.3 687.9 938.6 688.7 939.9 689.1 941.2 689.5 942.5 690.2 943.8 687.6 945.1 688.7 946.4 690.3 947.7 690.2 949.0 689.1 950.3 688.6 951.6 690.4 952.9 690.6 954.2 690.0 955.5 689.2 956.8 691.1 958.1 688.8 959.4 689.2 960.7 693.6 962.0 692.1 963.3 693.8 964.6 692.2 965.9 695.1 967.2 693.2 968.5 691.1 969.8 694.5 971.1 695.2 972.4 693.1 973.7 692.7 975.0 692.2 976.3 691.8 977.6 691.4 978.9 691.3 980.2 691.7 981.5 692.2 982.8 690.9 984.1 689.2 985.4 690.5 986.7 691.3 988.0 690.4 989.3 690.6 990.6 689.1 991.9 688.2 993.2 687.1 994.5 686.7 995.8 686.5 997.1 687.7 998.4 685.3 999.7 688.8 1001.0 685.8 1002.3 687.5 1003.6 684.5 1004.9 686.0 1006.2 685.4 1007.5 685.0 1008.8 686.3 1010.1 682.3 1011.4 681.9 1012.7 686.7 1014.0 682.8 1015.3 684.9 1016.6 683.8 1017.9 685.8 1019.2 684.7 1020.5 682.3 1021.8 684.9 1023.1 684.8 1024.4 687.3 1025.7 685.7 1027.0 687.3 1028.3 690.6 1029.6 689.5 1030.9 689.0 1032.2 690.2 1033.5 690.3 1034.8 690.9 1036.1 688.4 1037.4 690.7 1038.7 692.6 1040.0 691.2 1041.3 694.6 1042.6 696.1 1043.9 690.5 1045.2 693.3 1046.5 694.3 1047.8 692.5 1049.1 695.6 1050.4 695.5 1051.7 696.7 1053.0 694.2 1054.3 693.3 1055.6 696.6 1056.9 697.8 1058.2 695.0 1059.5 696.2 1060.8 694.9 1062.1 695.9 1063.4 697.1 1064.7 696.3 1066.0 694.7 1067.3 696.1 1068.6 698.1 1069.9 696.5 1071.2 697.3 1072.5 697.0 1073.8 696.4 1075.1 699.1 1076.4 695.8 1077.7 696.5 1079.0 700.3 1080.3 694.5 1081.6 697.1 1082.9 696.8 1084.2 697.1 1085.5 697.9 1086.8 697.9 1088.1 699.1 1089.4 698.6 1090.7 698.0 1092.0 697.8 1093.3 696.5 1094.6 696.3 1095.9 697.3 1097.2 697.5 1098.5 698.3 1099.8 697.9 1101.1 697.0 1102.4 697.2 1103.7 695.9 1105.0 696.6 1106.3 697.8 1107.6 695.8 1108.9 696.2 1110.2 695.6 1111.5 695.3 1112.8 695.9 1114.1 696.8 1115.4 694.7 1116.7 693.9 1118.0 694.5 1119.3 696.2 1120.6 694.7 1121.9 693.0 1123.2 692.6 1124.5 692.3 1125.8 691.9 1127.1 693.1 1128.4 692.5 1129.7 692.2 1131.0 693.8 1132.3 692.5 1133.6 693.7 1134.9 691.1 1136.2 691.8 1137.5 691.0 1138.8 690.1 1140.1 693.4 1141.4 690.5 1142.7 689.9 1144.0 693.5 1145.3 690.2 1146.6 693.4 1147.9 691.9 1149.2 689.9 1150.5 691.0 1151.8 692.1 1153.1 691.1 1154.4 692.6 1155.7 690.7 1157.0 690.4 1158.3 690.9 1159.6 690.9 1160.9 691.7 1162.2 693.3 1163.5 690.9 1164.8 694.3 1166.1 692.4 1167.4 690.9 1168.7 692.3 1170.0 692.9 1171.3 692.5 1172.6 694.4 1173.9 694.1 1175.2 694.0 1176.5 692.1 1177.8 694.4 1179.1 697.4 1180.4 694.5 1181.7 693.4 1183.0 695.0 1184.3 698.7 1185.6 695.4 1186.9 700.5 1188.2 698.4 1189.5 698.7 1190.8 702.2 1192.1 702.1 1193.4 700.6 1194.7 698.2 1196.0 699.7 1197.3 701.2 1198.6 700.5 1199.9 700.4 1201.2 699.5 1202.5 701.5 1203.8 700.5 1205.1 702.4 1206.4 700.7 1207.7 699.0 1209.0 702.8 1210.3 701.0 1211.6 700.4 1212.9 701.7 1214.2 701.5 1215.5 701.2 1216.8 701.4 1218.1 698.9 1219.4 701.4 1220.7 698.3 1222.0 700.1 1223.3 700.2 1224.6 700.3 1225.9 701.3 1227.2 701.3 1228.5 701.5 1229.8 700.6 1231.1 698.5 1232.4 702.7 1233.7 698.7 1235.0 699.1 1236.3 698.3 1237.6 698.2 1238.9 699.8 1240.2 699.5 1241.5 700.1 1242.8 699.2 1244.1 698.6 1245.4 700.6 1246.7 698.0 1248.0 697.7 1249.3 700.2 1250.6 696.2 1251.9 696.5 1253.2 697.5 1254.5 697.1 1255.8 695.2 1257.1 693.6 1258.4 694.8 1259.7 694.9 1261.0 694.2 1262.3 691.2 1263.6 692.7 1264.9 690.8 1266.2 689.9 1267.5 686.3 1268.8 686.8 1270.1 687.1 1271.4 688.2 1272.7 688.7 1274.0 686.8 1275.3 683.1 1276.6 681.1 1277.9 681.2 1279.2 680.0 1280.5 676.2 1281.8 673.9 1283.1 677.2 1284.4 674.7 1285.7 677.4 1287.0 675.5 1288.3 676.4 1289.6 676.6 1290.9 674.3 1292.2 674.4 1293.5 673.1 1294.8 670.8 1296.1 676.0 1297.4 672.8 1298.7 676.1 1300.0 677.5 1301.3 671.4 1302.6 676.2 1303.9 673.8 1305.2 674.7 1306.5 672.1 1307.8 672.2 1309.1 670.9 1310.4 674.2 1311.7 674.1 1313.0 672.9 1314.3 674.0 1315.6 671.4 1316.9 673.9 1318.2 675.8 1319.5 676.9 1320.8 677.0 1322.1 679.1 1323.4 681.1 1324.7 682.2 1326.0 679.1 1327.3 680.8 1328.6 679.1 1329.9 681.5 1331.2 684.5 1332.5 683.2 1333.8 684.9 1335.1 686.4 1336.4 689.0 1337.7 688.9 1339.0 689.2 1340.3 691.3 1341.6 690.1 1342.9 693.7 1344.2 693.6 1345.5 694.1 1346.8 693.2 1348.1 695.7 1349.4 696.2 1350.7 695.7 1352.0 696.3 1353.3 697.0 1354.6 697.4 1355.9 696.7 1357.2 696.8 1358.5 699.4 1359.8 698.7 1361.1 699.1 1362.4 696.5 1363.7 699.2 1365.0 697.9 1366.3 698.7 1367.6 700.5 1368.9 699.0 1370.2 698.3 1371.5 698.3 1372.8 701.4 1374.1 701.2 1375.4 699.1 1376.7 699.6 1378.0 699.5 1379.3 701.8 1380.6 700.2 1381.9 700.8 1383.2 700.5 1384.5 700.7 1385.8 700.8 1387.1 700.0 1388.4 699.5 1389.7 698.3 1391.0 698.0 1392.3 700.0 1393.6 699.5 1394.9 698.7 1396.2 698.0 1397.5 697.9 1398.8 695.0 1400.1 699.7 1401.4 697.7 1402.7 696.7 1404.0 696.0 1405.3 696.0 1406.6 695.0 1407.9 694.3 1409.2 694.4 1410.5 693.0 1411.8 694.6 1413.1 695.4 1414.4 692.6 1415.7 693.2 1417.0 690.3 1418.3 691.8 1419.6 690.7 1420.9 691.0 1422.2 693.6 1423.5 689.9 1424.8 690.9 1426.1 692.7 1427.4 690.7 1428.7 690.2 1430.0 691.6 1431.3 688.5 1432.6 691.7 1433.9 691.8 1435.2 689.7 1436.5 689.9 1437.8 690.9 1439.1 692.2 1440.4 687.2 1441.7 689.0 1443.0 690.7 1444.3 687.2 1445.6 689.6 1446.9 688.2 1448.2 690.7 1449.5 690.9 1450.8 688.9 1452.1 690.9 1453.4 687.6 1454.7 687.4 1456.0 688.7 1457.3 688.3 1458.6 689.8 1459.9 690.1 1461.2 690.9 1462.5 689.1 1463.8 687.0 1465.1 688.4 1466.4 687.4 1467.7 684.3 1469.0 683.8 1470.3 684.9 1471.6 683.5 1472.9 684.6 1474.2 681.7 1475.5 677.6 1476.8 680.0 1478.1 677.9 1479.4 678.1 1480.7 680.6 1482.0 676.9 1483.3 678.2 1484.6 678.1 1485.9 681.0 1487.2 682.7 1488.5 682.3 1489.8 683.9 1491.1 684.7 1492.4 685.1 1493.7 688.8 1495.0 686.5 1496.3 687.3 1497.6 688.2 1498.9 690.9 1500.2 690.1 1501.5 689.0 1502.8 690.4 1504.1 693.0 1505.4 693.2 1506.7 694.1 1508.0 694.6 1509.3 695.0 1510.6 693.0 1511.9 695.3 1513.2 694.4 1514.5 694.4 1515.8 696.4 1517.1 694.9 1518.4 694.1 1519.7 696.2 1521.0 697.4 1522.3 698.3 1523.6 696.9 1524.9 695.8 1526.2 695.4 1527.5 697.1 1528.8 697.1 1530.1 696.8 1531.4 696.4 1532.7 697.3 1534.0 698.8 1535.3 697.6 1536.6 696.4 1537.9 698.6 1539.2 699.5 1540.5 700.0 1541.8 697.0 1543.1 697.3 1544.4 700.7 1545.7 696.0 1547.0 699.0 1548.3 696.1 1549.6 699.1 1550.9 698.2 1552.2 695.5 1553.5 698.5 1554.8 698.8 1556.1 697.4 1557.4 697.5 1558.7 697.3 1560.0 697.1 1561.3 697.2 1562.6 697.4 1563.9 696.6 1565.2 696.1 1566.5 697.7 1567.8 697.5 1569.1 697.1 1570.4 698.9 1571.7 699.5 1573.0 697.0 1574.3 697.8 1575.6 697.2 1576.9 698.9 1578.2 698.3 1579.5 696.4 1580.8 696.0 1582.1 698.1 1583.4 698.7 1584.7 697.6 1586.0 697.1 1587.3 696.9 1588.6 696.5 1589.9 697.8 1591.2 697.8 1592.5 697.9 1593.8 697.2 1595.1 695.1 1596.4 694.9 1597.7 695.6 1599.0 694.8 1600.3 695.6 1601.6 693.3 1602.9 694.6 1604.2 696.8 1605.5 692.4 1606.8 692.4 1608.1 693.9 1609.4 693.7 1610.7 692.8 1612.0 692.1 1613.3 693.9 1614.6 691.6 1615.9 690.5 1617.2 689.8 1618.5 688.7 1619.8 691.8 1621.1 692.1 1622.4 690.3 1623.7 687.9 1625.0 688.5 1626.3 688.7 1627.6 690.1 1628.9 689.2 1630.2 688.6 1631.5 688.7 1632.8 690.3 1634.1 688.0 1635.4 688.1 1636.7 690.1 1638.0 688.4 1639.3 687.7 1640.6 688.6 1641.9 690.6 1643.2 689.1 1644.5 691.0 1645.8 688.7 1647.1 694.2 1648.4 692.4 1649.7 691.7 1651.0 693.2 1652.3 692.0 1653.6 693.9 1654.9 692.6 1656.2 692.7 1657.5 692.2 1658.8 694.5 1660.1 692.9 1661.4 693.2 1662.7 695.0 1664.0 693.1 1665.3 693.6 1666.6 692.8 1667.9 693.9 1669.2 692.8 1670.5 691.1 1671.8 690.9 1673.1 690.6 1674.4 689.5 1675.7 690.3 1677.0 691.0 1678.3 690.1 1679.6 687.7 1680.9 687.9 1682.2 691.6 1683.5 688.1 1684.8 691.1 1686.1 690.9 1687.4 692.8 1688.7 691.5 1690.0 691.3 1691.3 689.9 1692.6 691.3 1693.9 692.4 1695.2 691.9 1696.5 690.8 1697.8 691.0 1699.1 694.4 1700.4 694.2 1701.7 692.5 1703.0 693.4 1704.3 693.4 1705.6 692.8 1706.9 694.1 1708.2 695.8 1709.5 693.9 1710.8 695.2 1712.1 696.2 1713.4 693.8 1714.7 697.0 1716.0 695.5 1717.3 694.6 1718.6 698.0 1719.9 698.9 1721.2 696.3 1722.5 698.7 1723.8 695.9 1725.1 697.2 1726.4 700.6 1727.7 698.5 1729.0 700.1 1730.3 699.8 1731.6 698.5 1732.9 700.4 1734.2 699.8 1735.5 698.9 1736.8 699.1 1738.1 702.5 1739.4 700.9 1740.7 702.2 1742.0 703.7 1743.3 702.9 1744.6 701.8 1745.9 702.0 1747.2 701.9 1748.5 701.9 1749.8 703.0 1751.1 702.8 1752.4 703.7 1753.7 702.6 1755.0 704.0 1756.3 702.4 1757.6 703.5 1758.9 702.6 1760.2 704.6 1761.5 703.7 1762.8 705.3 1764.1 705.7 1765.4 701.6 1766.7 704.8 1768.0 701.6 1769.3 704.3 1770.6 704.1 1771.9 703.6 1773.2 702.3 1774.5 704.2 1775.8 703.1 1777.1 702.3 1778.4 700.7 1779.7 703.0 1781.0 703.7 1782.3 703.0 1783.6 703.8 1784.9 704.1 1786.2 700.6 1787.5 701.3 1788.8 702.6 1790.1 700.6 1791.4 700.2 1792.7 702.7 1794.0 701.2 1795.3 700.7 1796.6 701.5 1797.9 699.6 1799.2 701.2 1800.5 700.8 1801.8 699.9 1803.1 700.7 1804.4 699.6 1805.7 698.4 1807.0 698.7 1808.3 700.3 1809.6 699.5 1810.9 696.7 1812.2 700.0 1813.5 700.0 1814.8 699.1 1816.1 696.8 1817.4 698.9 1818.7 699.6 1820.0 701.0 1821.3 699.5 1822.6 700.4 1823.9 699.1 1825.2 700.6 1826.5 701.5 1827.8 701.1 1829.1 701.3 1830.4 699.9 1831.7 701.1 1833.0 701.7 1834.3 701.9 1835.6 703.4 1836.9 704.9 1838.2 704.1 1839.5 701.5 1840.8 703.9 1842.1 702.1 1843.4 706.1 1844.7 706.4 1846.0 704.4 1847.3 704.3 1848.6 706.5 1849.9 706.0 1851.2 707.6 1852.5 705.0 1853.8 705.0 1855.1 704.7 1856.4 706.6 1857.7 706.4 1859.0 705.6 1860.3 704.9 1861.6 706.3 1862.9 707.0 1864.2 705.7 1865.5 707.7 1866.8 709.0 1868.1 708.3 1869.4 706.8 1870.7 708.2 1872.0 706.9 1873.3 706.8 1874.6 708.1 1875.9 706.6 1877.2 705.4 1878.5 706.5 1879.8 707.2 1881.1 707.4 1882.4 707.8 1883.7 708.7 1885.0 707.8 1886.3 707.5 1887.6 708.0 1888.9 708.7 1890.2 706.8 1891.5 707.9 1892.8 706.6 1894.1 705.1 1895.4 706.4 1896.7 707.2 1898.0 708.4 1899.3 706.3 1900.6 706.7 1901.9 706.3 1903.2 707.0 1904.5 705.9 1905.8 706.7 1907.1 707.6 1908.4 705.3 1909.7 708.0 1911.0 706.0 1912.3 707.4 1913.6 704.7 1914.9 706.3 1916.2 707.2 1917.5 704.6 1918.8 703.0 1920.1 705.1 1921.4 704.6"/>
<path class="c" stroke="#000" stroke-width="6.80" d="M162.5 671.7 163.8 671.9 165.1 672.9 166.4 676.8 167.7 681.1 169.0 678.6 170.3 675.2 171.6 682.8 172.9 680.5 174.2 682.5 175.5 689.5 176.8 692.5 178.1 687.3 179.4 689.2 180.7 682.4 182.0 691.9 183.3 684.0 184.6 689.1 185.9 691.4 187.2 688.9 188.5 685.5 189.8 692.0 191.1 694.5 192.4 686.9 193.7 692.6 195.0 698.0 196.3 699.8 197.6 699.6 198.9 697.3 200.2 698.2 201.5 697.3 202.8 704.1 204.1 694.6 205.4 699.9 206.7 702.3 208.0 702.1 209.3 698.0 210.6 703.3 211.9 703.9 213.2 701.4 214.5 703.5 215.8 706.0 217.1 703.5 218.4 706.8 219.7 712.3 221.0 703.6 222.3 706.7 223.6 712.0 224.9 704.6 226.2 705.1 227.5 708.3 228.8 706.5 230.1 711.9 231.4 708.1 232.7 710.5 234.0 703.3 235.3 700.7 236.6 711.4 237.9 706.0 239.2 704.0 240.5 708.8 241.8 706.1 243.1 703.2 244.4 705.3 245.7 710.5 247.0 707.1 248.3 709.7 249.6 721.8 250.9 715.4 252.2 717.8 253.5 719.0 254.8 712.6 256.1 711.7 257.4 718.4 258.7 713.3 260.0 725.6 261.3 725.4 262.6 719.2 263.9 717.1 265.2 721.5 266.5 727.5 267.8 728.2 269.1 729.0 270.4 727.6 271.7 726.2 273.0 727.2 274.3 725.7 275.6 729.0 276.9 724.7 278.2 726.2 279.5 727.5 280.8 732.2 282.1 730.4 283.4 730.0 284.7 727.2 286.0 729.5 287.3 728.9 288.6 728.8 289.9 730.0 291.2 736.9 292.5 734.2 293.8 736.7 295.1 730.2 296.4 736.6 297.7 734.8 299.0 734.3 300.3 736.3 301.6 736.8 302.9 739.2 304.2 741.4 305.5 738.1 306.8 743.4 308.1 741.9 309.4 740.7 310.7 745.2 312.0 743.2 313.3 744.6 314.6 740.5 315.9 744.3 317.2 747.5 318.5 742.6 319.8 742.8 321.1 739.2 322.4 745.2 323.7 748.9 325.0 744.9 326.3 743.4 327.6 743.8 328.9 744.8 330.2 751.8 331.5 748.0 332.8 749.6 334.1 742.0 335.4 748.5 336.7 749.7 338.0 749.4 339.3 749.5 340.6 753.6 341.9 750.0 343.2 747.6 344.5 754.2 345.8 750.5 347.1 752.9 348.4 755.3 349.7 751.2 351.0 753.5 352.3 749.2 353.6 753.2 354.9 751.1 356.2 756.6 357.5 757.2 358.8 752.5 360.1 750.4 361.4 751.1 362.7 755.0 364.0 758.4 365.3 759.1 366.6 758.2 367.9 758.3 369.2 756.8 370.5 760.8 371.8 759.0 373.1 762.5 374.4 758.8 375.7 756.4 377.0 759.5 378.3 763.0 379.6 762.4 380.9 762.6 382.2 763.8 383.5 763.0 384.8 759.7 386.1 760.4 387.4 760.6 388.7 761.3 390.0 758.6 391.3 762.6 392.6 764.6 393.9 763.0 395.2 766.3 396.5 768.3 397.8 759.8 399.1 764.3 400.4 769.9 401.7 767.0 403.0 767.2 404.3 768.3 405.6 769.1 406.9 765.8 408.2 769.0 409.5 768.9 410.8 769.2 412.1 767.8 413.4 768.4 414.7 765.8 416.0 766.5 417.3 772.8 418.6 771.7 419.9 767.0 421.2 766.0 422.5 772.8 423.8 771.7 425.1 770.5 426.4 772.8 427.7 767.9 429.0 769.8 430.3 769.4 431.6 769.8 432.9 767.9 434.2 771.6 435.5 768.5 436.8 769.1 438.1 774.0 439.4 768.4 440.7 772.3 442.0 771.9 443.3 776.5 444.6 770.4 445.9 769.7 447.2 768.0 448.5 771.4 449.8 772.0 451.1 769.0 452.4 769.8 453.7 769.4 455.0 770.8 456.3 768.7 457.6 764.2 458.9 763.6 460.2 765.8 461.5 765.8 462.8 765.1 464.1 764.6 465.4 765.9 466.7 763.2 468.0 761.4 469.3 768.6 470.6 765.6 471.9 763.8 473.2 764.2 474.5 768.5 475.8 770.3 477.1 766.3 478.4 768.2 479.7 769.6 481.0 769.6 482.3 770.6 483.6 774.7 484.9 773.0 486.2 773.7 487.5 775.1 488.8 771.8 490.1 774.4 491.4 776.5 492.7 776.8 494.0 776.0 495.3 776.3 496.6 780.6 497.9 776.0 499.2 777.4 500.5 777.9 501.8 780.8 503.1 781.8 504.4 776.4 505.7 781.9 507.0 781.0 508.3 778.9 509.6 779.6 510.9 787.6 512.2 778.9 513.5 783.5 514.8 783.9 516.1 784.6 517.4 785.0 518.7 784.9 520.0 781.6 521.3 787.2 522.6 782.2 523.9 785.4 525.2 789.1 526.5 787.2 527.8 783.8 529.1 786.7 530.4 786.5 531.7 783.3 533.0 788.1 534.3 789.8 535.6 788.2 536.9 791.2 538.2 786.7 539.5 789.3 540.8 790.8 542.1 785.5 543.4 789.6 544.7 784.2 546.0 791.7 547.3 788.8 548.6 789.2 549.9 784.0 551.2 792.2 552.5 788.8 553.8 787.6 555.1 789.0 556.4 789.6 557.7 789.6 559.0 789.6 560.3 788.5 561.6 790.1 562.9 790.2 564.2 784.3 565.5 785.5 566.8 786.2 568.1 782.7 569.4 782.3 570.7 781.1 572.0 781.0 573.3 777.1 574.6 780.1 575.9 770.7 577.2 774.7 578.5 773.4 579.8 767.1 581.1 768.5 582.4 764.2 583.7 760.4 585.0 757.9 586.3 755.5 587.6 753.7 588.9 750.4 590.2 746.7 591.5 737.4 592.8 732.0 594.1 733.5 595.4 726.2 596.7 711.3 598.0 714.8 599.3 701.0 600.6 702.3 601.9 695.1 603.2 693.0 604.5 687.9 605.8 684.1 607.1 689.2 608.4 684.9 609.7 688.8 611.0 695.4 612.3 696.0 613.6 697.1 614.9 704.2 616.2 709.9 617.5 720.3 618.8 727.1 620.1 735.2 621.4 745.0 622.7 747.9 624.0 754.0 625.3 761.5 626.6 770.9 627.9 770.6 629.2 773.3 630.5 777.6 631.8 778.2 633.1 777.1 634.4 777.0 635.7 777.2 637.0 781.5 638.3 782.2 639.6 780.9 640.9 782.4 642.2 777.1 643.5 782.8 644.8 783.6 646.1 783.4 647.4 784.7 648.7 780.9 650.0 781.1 651.3 781.9 652.6 786.2 653.9 780.6 655.2 779.6 656.5 781.5 657.8 780.9 659.1 781.2 660.4 784.0 661.7 781.2 663.0 782.0 664.3 779.5 665.6 781.1 666.9 781.6 668.2 782.0 669.5 784.1 670.8 782.9 672.1 784.1 673.4 778.4 674.7 780.7 676.0 779.7 677.3 780.3 678.6 781.0 679.9 779.7 681.2 781.0 682.5 778.5 683.8 779.0 685.1 776.7 686.4 776.8 687.7 779.4 689.0 773.6 690.3 776.7 691.6 773.0 692.9 775.2 694.2 777.4 695.5 772.0 696.8 775.9 698.1 771.2 699.4 773.1 700.7 772.6 702.0 771.3 703.3 771.4 704.6 775.0 705.9 768.2 707.2 776.2 708.5 775.6 709.8 780.0 711.1 779.5 712.4 780.9 713.7 778.7 715.0 784.8 716.3 785.4 717.6 788.9 718.9 789.1 720.2 794.7 721.5 790.4 722.8 796.6 724.1 793.5 725.4 791.8 726.7 796.9 728.0 794.3 729.3 793.0 730.6 794.9 731.9 789.3 733.2 794.4 734.5 794.7 735.8 794.6 737.1 789.5 738.4 793.8 739.7 793.7 741.0 790.6 742.3 791.5 743.6 792.2 744.9 792.2 746.2 791.6 747.5 791.6 748.8 792.4 750.1 794.1 751.4 795.0 752.7 795.6 754.0 797.1 755.3 796.9 756.6 800.4 757.9 802.1 759.2 802.5 760.5 807.8 761.8 807.7 763.1 807.6 764.4 804.9 765.7 805.2 767.0 801.8 768.3 803.5 769.6 800.1 770.9 799.5 772.2 801.5 773.5 797.2 774.8 800.7 776.1 798.0 777.4 795.5 778.7 792.6 780.0 790.2 781.3 792.2 782.6 783.6 783.9 782.7 785.2 782.1 786.5 783.9 787.8 776.9 789.1 774.0 790.4 772.8 791.7 778.9 793.0 777.8 794.3 777.7 795.6 774.5 796.9 778.4 798.2 778.5 799.5 779.8 800.8 782.3 802.1 784.3 803.4 780.5 804.7 780.5 806.0 782.8 807.3 789.4 808.6 791.7 809.9 789.7 811.2 792.8 812.5 790.4 813.8 794.8 815.1 794.0 816.4 791.0 817.7 790.4 819.0 790.2 820.3 787.3 821.6 793.9 822.9 789.7 824.2 789.1 825.5 793.9 826.8 790.3 828.1 786.2 829.4 787.3 830.7 793.3 832.0 791.4 833.3 792.8 834.6 790.9 835.9 787.5 837.2 792.8 838.5 788.1 839.8 790.0 841.1 793.5 842.4 795.5 843.7 798.3 845.0 796.5 846.3 794.7 847.6 800.4 848.9 796.0 850.2 799.0 851.5 800.1 852.8 802.0 854.1 800.2 855.4 807.7 856.7 806.2 858.0 805.5 859.3 810.6 860.6 809.3 861.9 812.2 863.2 809.7 864.5 811.5 865.8 813.3 867.1 811.1 868.4 814.2 869.7 815.4 871.0 817.1 872.3 814.6 873.6 817.3 874.9 819.9 876.2 819.4 877.5 818.8 878.8 817.2 880.1 820.4 881.4 819.3 882.7 820.0 884.0 820.7 885.3 821.5 886.6 821.4 887.9 821.1 889.2 823.6 890.5 822.0 891.8 821.0 893.1 822.9 894.4 823.0 895.7 822.7 897.0 823.0 898.3 823.1 899.6 822.6 900.9 821.6 902.2 823.5 903.5 824.5 904.8 820.6 906.1 820.5 907.4 822.3 908.7 820.7 910.0 818.2 911.3 821.8 912.6 822.0 913.9 823.9 915.2 820.0 916.5 823.2 917.8 822.3 919.1 821.8 920.4 821.9 921.7 820.8 923.0 819.5 924.3 821.4 925.6 821.4 926.9 818.2 928.2 817.2 929.5 820.8 930.8 820.5 932.1 820.7 933.4 817.8 934.7 821.8 936.0 817.2 937.3 821.4 938.6 820.0 939.9 817.9 941.2 822.4 942.5 821.5 943.8 820.9 945.1 821.5 946.4 821.6 947.7 821.4 949.0 817.2 950.3 822.3 951.6 822.3 952.9 818.3 954.2 821.1 955.5 821.5 956.8 824.1 958.1 823.4 959.4 819.5 960.7 822.4 962.0 819.8 963.3 818.7 964.6 820.2 965.9 821.9 967.2 821.7 968.5 819.2 969.8 819.2 971.1 820.8 972.4 819.8 973.7 822.2 975.0 822.5 976.3 821.9 977.6 821.1 978.9 823.0 980.2 820.9 981.5 815.9 982.8 820.2 984.1 817.8 985.4 819.7 986.7 819.2 988.0 818.6 989.3 814.3 990.6 817.3 991.9 811.4 993.2 815.0 994.5 813.7 995.8 814.5 997.1 815.3 998.4 811.3 999.7 813.9 1001.0 813.9 1002.3 809.7 1003.6 812.9 1004.9 810.0 1006.2 814.0 1007.5 809.1 1008.8 811.5 1010.1 807.5 1011.4 807.0 1012.7 810.2 1014.0 811.1 1015.3 812.5 1016.6 814.6 1017.9 810.0 1019.2 814.8 1020.5 813.2 1021.8 813.1 1023.1 815.8 1024.4 815.4 1025.7 819.1 1027.0 818.9 1028.3 817.3 1029.6 819.8 1030.9 819.3 1032.2 819.9 1033.5 820.0 1034.8 817.5 1036.1 818.5 1037.4 818.4 1038.7 820.2 1040.0 821.3 1041.3 822.2 1042.6 823.5 1043.9 826.4 1045.2 825.5 1046.5 825.5 1047.8 825.2 1049.1 827.4 1050.4 825.6 1051.7 826.6 1053.0 826.7 1054.3 826.0 1055.6 826.6 1056.9 825.8 1058.2 827.9 1059.5 824.5 1060.8 825.8 1062.1 826.9 1063.4 827.6 1064.7 827.3 1066.0 829.6 1067.3 824.8 1068.6 828.1 1069.9 829.2 1071.2 830.0 1072.5 829.5 1073.8 826.4 1075.1 829.5 1076.4 830.7 1077.7 828.6 1079.0 831.0 1080.3 829.3 1081.6 828.3 1082.9 828.9 1084.2 829.0 1085.5 830.3 1086.8 829.0 1088.1 829.6 1089.4 828.1 1090.7 827.5 1092.0 830.4 1093.3 829.0 1094.6 828.2 1095.9 827.5 1097.2 827.0 1098.5 828.8 1099.8 827.6 1101.1 830.2 1102.4 829.3 1103.7 828.4 1105.0 825.7 1106.3 828.5 1107.6 829.1 1108.9 830.4 1110.2 827.4 1111.5 826.9 1112.8 826.3 1114.1 829.5 1115.4 826.6 1116.7 826.5 1118.0 826.0 1119.3 825.9 1120.6 827.8 1121.9 823.5 1123.2 823.0 1124.5 825.2 1125.8 825.1 1127.1 827.3 1128.4 823.4 1129.7 824.8 1131.0 826.9 1132.3 824.5 1133.6 821.1 1134.9 821.3 1136.2 822.4 1137.5 822.9 1138.8 824.8 1140.1 822.3 1141.4 823.2 1142.7 822.9 1144.0 817.6 1145.3 822.7 1146.6 819.2 1147.9 823.3 1149.2 818.2 1150.5 822.1 1151.8 821.6 1153.1 823.0 1154.4 820.6 1155.7 818.6 1157.0 819.6 1158.3 816.8 1159.6 816.7 1160.9 815.2 1162.2 817.8 1163.5 819.9 1164.8 819.1 1166.1 818.1 1167.4 820.3 1168.7 817.0 1170.0 816.0 1171.3 821.1 1172.6 817.9 1173.9 820.8 1175.2 819.8 1176.5 824.3 1177.8 822.8 1179.1 822.4 1180.4 823.1 1181.7 825.9 1183.0 824.4 1184.3 823.3 1185.6 825.4 1186.9 823.4 1188.2 827.2 1189.5 827.3 1190.8 825.8 1192.1 826.0 1193.4 825.8 1194.7 826.8 1196.0 827.4 1197.3 830.8 1198.6 827.6 1199.9 827.7 1201.2 829.9 1202.5 826.9 1203.8 829.1 1205.1 830.9 1206.4 829.0 1207.7 828.8 1209.0 829.9 1210.3 829.1 1211.6 826.6 1212.9 829.8 1214.2 832.2 1215.5 829.8 1216.8 828.2 1218.1 829.5 1219.4 831.3 1220.7 833.3 1222.0 832.6 1223.3 828.4 1224.6 828.3 1225.9 833.0 1227.2 829.0 1228.5 827.3 1229.8 829.3 1231.1 827.8 1232.4 826.8 1233.7 826.3 1235.0 831.1 1236.3 829.9 1237.6 829.5 1238.9 829.1 1240.2 829.1 1241.5 826.5 1242.8 828.4 1244.1 828.4 1245.4 826.1 1246.7 826.4 1248.0 822.7 1249.3 820.6 1250.6 823.6 1251.9 822.6 1253.2 820.2 1254.5 822.6 1255.8 820.5 1257.1 820.9 1258.4 816.2 1259.7 821.2 1261.0 818.1 1262.3 814.7 1263.6 817.3 1264.9 815.7 1266.2 815.3 1267.5 814.9 1268.8 814.4 1270.1 814.1 1271.4 814.5 1272.7 814.7 1274.0 811.2 1275.3 815.2 1276.6 809.7 1277.9 810.1 1279.2 810.1 1280.5 809.3 1281.8 809.8 1283.1 809.7 1284.4 807.4 1285.7 811.5 1287.0 809.5 1288.3 807.9 1289.6 806.5 1290.9 809.4 1292.2 809.4 1293.5 807.5 1294.8 808.6 1296.1 807.2 1297.4 805.0 1298.7 803.5 1300.0 808.8 1301.3 807.9 1302.6 806.9 1303.9 807.5 1305.2 810.1 1306.5 807.2 1307.8 807.1 1309.1 805.7 1310.4 807.2 1311.7 810.3 1313.0 808.6 1314.3 806.9 1315.6 808.7 1316.9 807.9 1318.2 812.0 1319.5 807.7 1320.8 812.7 1322.1 811.0 1323.4 810.7 1324.7 809.3 1326.0 810.9 1327.3 810.2 1328.6 812.5 1329.9 810.9 1331.2 816.6 1332.5 816.8 1333.8 815.8 1335.1 817.6 1336.4 816.5 1337.7 817.0 1339.0 817.1 1340.3 820.0 1341.6 821.7 1342.9 821.5 1344.2 819.0 1345.5 820.9 1346.8 823.9 1348.1 822.4 1349.4 822.3 1350.7 823.4 1352.0 822.5 1353.3 825.5 1354.6 823.1 1355.9 825.7 1357.2 827.3 1358.5 823.0 1359.8 826.5 1361.1 828.6 1362.4 828.4 1363.7 827.4 1365.0 824.9 1366.3 828.6 1367.6 828.0 1368.9 831.2 1370.2 829.4 1371.5 828.2 1372.8 829.9 1374.1 829.5 1375.4 828.2 1376.7 831.4 1378.0 828.8 1379.3 830.1 1380.6 830.7 1381.9 830.0 1383.2 831.0 1384.5 829.5 1385.8 829.1 1387.1 831.7 1388.4 830.3 1389.7 829.2 1391.0 828.5 1392.3 828.6 1393.6 828.8 1394.9 828.1 1396.2 826.7 1397.5 825.7 1398.8 825.5 1400.1 823.9 1401.4 824.3 1402.7 823.2 1404.0 824.9 1405.3 824.2 1406.6 822.2 1407.9 822.4 1409.2 821.5 1410.5 823.9 1411.8 821.9 1413.1 822.7 1414.4 823.7 1415.7 820.6 1417.0 819.8 1418.3 822.8 1419.6 820.7 1420.9 820.0 1422.2 821.4 1423.5 820.2 1424.8 821.7 1426.1 819.8 1427.4 821.8 1428.7 821.3 1430.0 820.8 1431.3 821.3 1432.6 823.5 1433.9 823.8 1435.2 822.7 1436.5 826.4 1437.8 823.8 1439.1 822.3 1440.4 826.7 1441.7 824.8 1443.0 826.2 1444.3 824.2 1445.6 826.5 1446.9 826.1 1448.2 821.3 1449.5 823.2 1450.8 824.6 1452.1 825.5 1453.4 823.0 1454.7 822.4 1456.0 823.1 1457.3 820.4 1458.6 819.0 1459.9 818.0 1461.2 819.7 1462.5 819.0 1463.8 819.9 1465.1 817.5 1466.4 818.6 1467.7 816.6 1469.0 817.5 1470.3 811.5 1471.6 811.9 1472.9 811.9 1474.2 808.8 1475.5 815.5 1476.8 812.9 1478.1 811.5 1479.4 809.9 1480.7 809.4 1482.0 806.7 1483.3 808.8 1484.6 810.9 1485.9 812.5 1487.2 810.9 1488.5 812.4 1489.8 811.4 1491.1 812.7 1492.4 816.7 1493.7 815.8 1495.0 817.4 1496.3 817.1 1497.6 817.3 1498.9 816.2 1500.2 820.1 1501.5 821.2 1502.8 823.6 1504.1 821.9 1505.4 826.1 1506.7 823.7 1508.0 824.3 1509.3 824.5 1510.6 824.5 1511.9 826.8 1513.2 826.4 1514.5 825.4 1515.8 825.7 1517.1 825.0 1518.4 826.8 1519.7 824.7 1521.0 824.1 1522.3 827.0 1523.6 825.0 1524.9 824.9 1526.2 825.1 1527.5 826.5 1528.8 826.2 1530.1 827.1 1531.4 825.5 1532.7 826.1 1534.0 826.6 1535.3 826.6 1536.6 825.3 1537.9 824.5 1539.2 826.5 1540.5 824.5 1541.8 823.7 1543.1 826.7 1544.4 824.7 1545.7 822.1 1547.0 824.6 1548.3 824.9 1549.6 825.7 1550.9 824.0 1552.2 822.5 1553.5 825.1 1554.8 823.3 1556.1 823.5 1557.4 824.5 1558.7 825.3 1560.0 822.4 1561.3 824.4 1562.6 827.2 1563.9 823.8 1565.2 823.9 1566.5 824.9 1567.8 823.8 1569.1 822.5 1570.4 821.5 1571.7 823.7 1573.0 823.1 1574.3 825.1 1575.6 824.9 1576.9 825.1 1578.2 821.1 1579.5 822.4 1580.8 823.4 1582.1 824.9 1583.4 825.3 1584.7 824.9 1586.0 823.6 1587.3 822.7 1588.6 823.5 1589.9 824.7 1591.2 823.4 1592.5 823.9 1593.8 822.4 1595.1 824.8 1596.4 824.7 1597.7 826.8 1599.0 823.1 1600.3 824.0 1601.6 826.4 1602.9 823.5 1604.2 824.2 1605.5 826.7 1606.8 826.6 1608.1 827.5 1609.4 825.9 1610.7 826.2 1612.0 825.6 1613.3 824.3 1614.6 827.2 1615.9 822.7 1617.2 824.3 1618.5 825.3 1619.8 825.7 1621.1 825.4 1622.4 821.9 1623.7 823.6 1625.0 824.8 1626.3 827.2 1627.6 824.8 1628.9 822.8 1630.2 824.6 1631.5 823.8 1632.8 821.0 1634.1 822.3 1635.4 823.0 1636.7 826.0 1638.0 824.3 1639.3 821.6 1640.6 821.9 1641.9 824.2 1643.2 820.7 1644.5 822.5 1645.8 822.6 1647.1 818.5 1648.4 822.1 1649.7 822.1 1651.0 824.0 1652.3 820.8 1653.6 820.5 1654.9 819.8 1656.2 821.2 1657.5 821.8 1658.8 822.4 1660.1 818.4 1661.4 822.3 1662.7 819.8 1664.0 819.4 1665.3 820.8 1666.6 818.1 1667.9 817.8 1669.2 820.1 1670.5 819.2 1671.8 817.4 1673.1 818.8 1674.4 816.2 1675.7 816.8 1677.0 818.9 1678.3 815.2 1679.6 816.2 1680.9 813.1 1682.2 817.0 1683.5 814.1 1684.8 817.6 1686.1 815.4 1687.4 819.3 1688.7 815.4 1690.0 814.6 1691.3 816.6 1692.6 814.5 1693.9 816.5 1695.2 816.7 1696.5 813.6 1697.8 817.3 1699.1 817.3 1700.4 819.2 1701.7 817.8 1703.0 817.4 1704.3 816.9 1705.6 820.6 1706.9 817.1 1708.2 822.2 1709.5 821.0 1710.8 825.7 1712.1 820.0 1713.4 824.9 1714.7 823.3 1716.0 825.4 1717.3 826.3 1718.6 825.3 1719.9 824.7 1721.2 824.9 1722.5 827.3 1723.8 829.4 1725.1 828.6 1726.4 827.9 1727.7 830.8 1729.0 832.9 1730.3 829.6 1731.6 832.7 1732.9 831.4 1734.2 833.6 1735.5 831.0 1736.8 831.5 1738.1 832.8 1739.4 832.9 1740.7 831.7 1742.0 832.3 1743.3 834.3 1744.6 833.4 1745.9 834.5 1747.2 831.8 1748.5 831.1 1749.8 832.4 1751.1 831.3 1752.4 829.5 1753.7 834.0 1755.0 831.3 1756.3 835.5 1757.6 833.8 1758.9 833.3 1760.2 829.9 1761.5 831.3 1762.8 834.2 1764.1 832.1 1765.4 832.4 1766.7 831.3 1768.0 833.8 1769.3 832.4 1770.6 832.1 1771.9 833.0 1773.2 833.1 1774.5 831.7 1775.8 829.7 1777.1 831.7 1778.4 830.2 1779.7 831.1 1781.0 831.7 1782.3 832.1 1783.6 828.0 1784.9 832.7 1786.2 829.2 1787.5 829.6 1788.8 832.2 1790.1 829.8 1791.4 830.2 1792.7 831.1 1794.0 830.5 1795.3 830.2 1796.6 829.8 1797.9 833.3 1799.2 830.4 1800.5 831.4 1801.8 830.1 1803.1 831.5 1804.4 829.6 1805.7 830.0 1807.0 828.4 1808.3 827.9 1809.6 831.0 1810.9 829.4 1812.2 830.4 1813.5 829.4 1814.8 831.7 1816.1 830.2 1817.4 830.7 1818.7 829.4 1820.0 829.9 1821.3 829.3 1822.6 829.4 1823.9 829.7 1825.2 833.0 1826.5 830.3 1827.8 830.6 1829.1 831.5 1830.4 831.5 1831.7 829.8 1833.0 831.9 1834.3 833.4 1835.6 833.0 1836.9 832.1 1838.2 834.7 1839.5 831.1 1840.8 835.0 1842.1 836.6 1843.4 836.4 1844.7 835.7 1846.0 834.6 1847.3 834.5 1848.6 836.6 1849.9 833.5 1851.2 836.6 1852.5 835.1 1853.8 836.4 1855.1 834.8 1856.4 834.1 1857.7 834.8 1859.0 834.5 1860.3 835.2 1861.6 833.7 1862.9 835.2 1864.2 834.5 1865.5 831.8 1866.8 836.2 1868.1 834.8 1869.4 834.3 1870.7 834.9 1872.0 835.9 1873.3 837.0 1874.6 837.8 1875.9 834.7 1877.2 835.5 1878.5 836.6 1879.8 835.1 1881.1 834.6 1882.4 833.7 1883.7 837.9 1885.0 836.2 1886.3 835.6 1887.6 836.3 1888.9 834.3 1890.2 836.6 1891.5 835.9 1892.8 833.7 1894.1 834.4 1895.4 836.0 1896.7 834.2 1898.0 834.4 1899.3 835.8 1900.6 833.1 1901.9 837.0 1903.2 835.0 1904.5 833.3 1905.8 838.6 1907.1 835.1 1908.4 834.4 1909.7 838.6 1911.0 836.5 1912.3 834.4 1913.6 837.7 1914.9 835.0 1916.2 834.3 1917.5 836.3 1918.8 837.7 1920.1 833.6 1921.4 837.2"/>
<path class="c" stroke="#f00" stroke-width="6.80" d="M162.5 834.0 163.8 825.4 165.1 830.6 166.4 832.1 167.7 827.5 169.0 830.0 170.3 833.3 171.6 833.8 172.9 838.6 174.2 834.8 175.5 830.9 176.8 835.6 178.1 840.9 179.4 831.2 180.7 838.3 182.0 830.9 183.3 841.8 184.6 840.0 185.9 837.4 187.2 837.2 188.5 834.5 189.8 838.3 191.1 840.8 192.4 840.9 193.7 844.5 195.0 841.8 196.3 843.7 197.6 846.5 198.9 845.0 200.2 844.0 201.5 843.7 202.8 847.8 204.1 841.9 205.4 846.2 206.7 847.0 208.0 839.8 209.3 849.7 210.6 847.6 211.9 847.2 213.2 846.1 214.5 852.2 215.8 849.0 217.1 853.9 218.4 843.7 219.7 852.2 221.0 848.1 222.3 854.9 223.6 851.3 224.9 854.0 226.2 851.9 227.5 850.7 228.8 860.8 230.1 854.5 231.4 860.6 232.7 859.5 234.0 858.4 235.3 862.8 236.6 862.1 237.9 861.1 239.2 862.2 240.5 865.5 241.8 866.0 243.1 860.9 244.4 860.3 245.7 859.4 247.0 857.6 248.3 859.1 249.6 855.6 250.9 854.8 252.2 851.0 253.5 858.5 254.8 855.9 256.1 857.5 257.4 856.9 258.7 863.4 260.0 859.5 261.3 864.6 262.6 865.8 263.9 867.4 265.2 867.4 266.5 864.4 267.8 865.4 269.1 873.3 270.4 874.6 271.7 871.8 273.0 873.5 274.3 872.2 275.6 870.4 276.9 875.7 278.2 876.4 279.5 879.1 280.8 875.9 282.1 880.7 283.4 880.9 284.7 877.3 286.0 882.3 287.3 879.8 288.6 880.7 289.9 880.3 291.2 880.0 292.5 884.9 293.8 884.4 295.1 879.4 296.4 885.0 297.7 880.4 299.0 884.5 300.3 882.9 301.6 886.6 302.9 882.3 304.2 880.7 305.5 886.2 306.8 886.3 308.1 884.1 309.4 889.1 310.7 888.7 312.0 885.2 313.3 886.2 314.6 887.6 315.9 891.2 317.2 892.2 318.5 889.9 319.8 889.5 321.1 887.4 322.4 892.8 323.7 887.6 325.0 895.7 326.3 890.8 327.6 891.7 328.9 891.9 330.2 897.7 331.5 891.9 332.8 894.5 334.1 894.1 335.4 893.2 336.7 896.6 338.0 893.3 339.3 895.8 340.6 895.1 341.9 899.5 343.2 899.0 344.5 900.1 345.8 896.0 347.1 900.1 348.4 901.8 349.7 900.2 351.0 903.9 352.3 904.7 353.6 897.4 354.9 900.5 356.2 900.0 357.5 899.4 358.8 900.5 360.1 901.9 361.4 899.8 362.7 902.9 364.0 901.4 365.3 899.7 366.6 905.2 367.9 905.9 369.2 904.7 370.5 902.5 371.8 906.8 373.1 904.1 374.4 905.7 375.7 904.1 377.0 910.1 378.3 907.6 379.6 908.5 380.9 907.3 382.2 907.1 383.5 910.7 384.8 904.5 386.1 907.7 387.4 905.7 388.7 906.4 390.0 909.2 391.3 909.2 392.6 909.4 393.9 908.4 395.2 911.9 396.5 913.5 397.8 914.4 399.1 911.5 400.4 909.7 401.7 907.9 403.0 907.8 404.3 911.0 405.6 909.9 406.9 917.3 408.2 912.9 409.5 909.3 410.8 910.7 412.1 913.6 413.4 910.9 414.7 916.1 416.0 915.9 417.3 913.2 418.6 914.7 419.9 914.5 421.2 919.3 422.5 919.4 423.8 918.2 425.1 920.3 426.4 914.4 427.7 918.9 429.0 916.8 430.3 918.9 431.6 923.2 432.9 917.9 434.2 921.8 435.5 918.6 436.8 919.3 438.1 917.8 439.4 922.4 440.7 917.3 442.0 919.0 443.3 919.0 444.6 918.8 445.9 919.8 447.2 918.7 448.5 916.4 449.8 918.4 451.1 918.0 452.4 916.0 453.7 917.9 455.0 914.5 456.3 914.2 457.6 915.6 458.9 912.5 460.2 911.2 461.5 907.5 462.8 911.0 464.1 902.6 465.4 906.6 466.7 903.2 468.0 902.4 469.3 907.5 470.6 900.4 471.9 902.2 473.2 902.3 474.5 902.7 475.8 901.4 477.1 909.8 478.4 906.3 479.7 908.7 481.0 910.1 482.3 909.8 483.6 911.7 484.9 918.1 486.2 917.9 487.5 918.5 488.8 921.5 490.1 923.2 491.4 925.8 492.7 926.6 494.0 921.9 495.3 926.4 496.6 927.4 497.9 926.7 499.2 928.1 500.5 929.7 501.8 927.1 503.1 931.3 504.4 928.8 505.7 932.6 507.0 929.8 508.3 932.0 509.6 934.7 510.9 931.8 512.2 935.4 513.5 931.6 514.8 933.7 516.1 932.2 517.4 932.7 518.7 934.2 520.0 935.9 521.3 933.7 522.6 932.5 523.9 935.5 525.2 933.5 526.5 935.0 527.8 932.0 529.1 937.6 530.4 933.4 531.7 936.4 533.0 938.8 534.3 936.8 535.6 935.2 536.9 936.8 538.2 935.3 539.5 936.5 540.8 936.6 542.1 935.2 543.4 936.4 544.7 938.2 546.0 935.6 547.3 938.8 548.6 941.2 549.9 937.5 551.2 940.6 552.5 936.9 553.8 936.2 555.1 939.3 556.4 936.7 557.7 937.0 559.0 936.5 560.3 938.7 561.6 936.5 562.9 937.2 564.2 934.6 565.5 938.1 566.8 936.5 568.1 936.3 569.4 931.9 570.7 935.1 572.0 935.6 573.3 935.7 574.6 929.4 575.9 932.5 577.2 930.5 578.5 930.1 579.8 925.7 581.1 926.9 582.4 928.4 583.7 919.7 585.0 925.1 586.3 919.8 587.6 917.8 588.9 915.9 590.2 913.2 591.5 910.0 592.8 908.1 594.1 907.2 595.4 895.2 596.7 900.5 598.0 892.4 599.3 890.1 600.6 890.4 601.9 890.1 603.2 887.6 604.5 883.1 605.8 887.0 607.1 891.7 608.4 894.3 609.7 890.0 611.0 904.2 612.3 903.4 613.6 906.3 614.9 910.2 616.2 911.0 617.5 916.5 618.8 919.0 620.1 921.0 621.4 922.2 622.7 925.9 624.0 925.6 625.3 930.0 626.6 928.7 627.9 932.8 629.2 934.2 630.5 933.9 631.8 936.1 633.1 934.0 634.4 937.8 635.7 936.0 637.0 936.1 638.3 936.4 639.6 933.1 640.9 932.9 642.2 934.9 643.5 934.1 644.8 937.3 646.1 940.2 647.4 937.1 648.7 934.7 650.0 934.2 651.3 936.3 652.6 937.2 653.9 938.9 655.2 936.2 656.5 935.1 657.8 935.0 659.1 935.6 660.4 935.8 661.7 936.0 663.0 939.3 664.3 936.2 665.6 938.6 666.9 937.9 668.2 936.1 669.5 933.0 670.8 936.4 672.1 935.6 673.4 936.7 674.7 935.6 676.0 937.1 677.3 937.4 678.6 936.2 679.9 937.0 681.2 935.1 682.5 933.7 683.8 932.5 685.1 932.4 686.4 928.7 687.7 927.9 689.0 927.1 690.3 925.7 691.6 922.8 692.9 916.6 694.2 910.1 695.5 905.0 696.8 901.7 698.1 897.3 699.4 891.0 700.7 886.9 702.0 878.5 703.3 872.4 704.6 864.6 705.9 862.8 707.2 856.4 708.5 856.6 709.8 852.9 711.1 853.9 712.4 859.5 713.7 863.6 715.0 872.5 716.3 871.0 717.6 873.6 718.9 887.5 720.2 898.0 721.5 906.4 722.8 910.0 724.1 915.3 725.4 920.6 726.7 927.2 728.0 930.1 729.3 935.1 730.6 937.7 731.9 941.3 733.2 942.6 734.5 942.1 735.8 944.4 737.1 943.7 738.4 946.7 739.7 947.1 741.0 949.4 742.3 948.4 743.6 951.8 744.9 947.7 746.2 948.0 747.5 950.8 748.8 952.5 750.1 951.2 751.4 951.7 752.7 954.7 754.0 951.7 755.3 951.8 756.6 951.3 757.9 952.5 759.2 954.6 760.5 953.2 761.8 952.0 763.1 951.8 764.4 951.5 765.7 949.6 767.0 948.8 768.3 948.9 769.6 950.7 770.9 949.0 772.2 947.5 773.5 946.5 774.8 946.0 776.1 944.0 777.4 940.2 778.7 935.0 780.0 933.0 781.3 927.0 782.6 920.2 783.9 907.4 785.2 902.2 786.5 890.2 787.8 876.5 789.1 861.9 790.4 857.2 791.7 845.6 793.0 835.8 794.3 827.6 795.6 829.7 796.9 831.9 798.2 850.7 799.5 855.3 800.8 864.6 802.1 869.8 803.4 879.3 804.7 889.8 806.0 896.5 807.3 899.8 808.6 903.7 809.9 906.6 811.2 914.4 812.5 918.3 813.8 919.3 815.1 922.2 816.4 924.8 817.7 926.0 819.0 931.7 820.3 933.5 821.6 928.6 822.9 933.9 824.2 929.7 825.5 931.5 826.8 927.7 828.1 923.9 829.4 926.6 830.7 922.8 832.0 921.5 833.3 921.5 834.6 928.7 835.9 927.2 837.2 930.7 838.5 936.8 839.8 937.5 841.1 939.5 842.4 941.8 843.7 943.0 845.0 944.1 846.3 943.6 847.6 944.9 848.9 945.5 850.2 947.0 851.5 949.4 852.8 950.2 854.1 949.7 855.4 954.7 856.7 954.6 858.0 954.3 859.3 956.7 860.6 959.7 861.9 958.8 863.2 962.2 864.5 960.3 865.8 963.3 867.1 961.5 868.4 963.4 869.7 963.2 871.0 964.1 872.3 965.8 873.6 966.5 874.9 966.0 876.2 966.5 877.5 966.7 878.8 966.9 880.1 967.5 881.4 968.9 882.7 967.5 884.0 967.4 885.3 967.5 886.6 967.3 887.9 965.3 889.2 967.2 890.5 968.8 891.8 966.9 893.1 968.1 894.4 967.8 895.7 969.9 897.0 967.6 898.3 968.9 899.6 969.8 900.9 968.2 902.2 966.4 903.5 968.0 904.8 968.2 906.1 967.9 907.4 969.6 908.7 968.5 910.0 970.1 911.3 969.0 912.6 967.2 913.9 968.1 915.2 968.5 916.5 967.6 917.8 966.6 919.1 967.1 920.4 969.7 921.7 968.5 923.0 967.2 924.3 966.4 925.6 965.3 926.9 965.5 928.2 963.2 929.5 963.9 930.8 962.1 932.1 962.8 933.4 960.9 934.7 961.0 936.0 960.6 937.3 960.1 938.6 960.0 939.9 958.6 941.2 959.8 942.5 958.5 943.8 960.1 945.1 958.9 946.4 960.6 947.7 960.3 949.0 962.7 950.3 962.8 951.6 962.6 952.9 964.2 954.2 965.2 955.5 967.7 956.8 967.7 958.1 965.3 959.4 968.5 960.7 970.0 962.0 969.1 963.3 968.5 964.6 969.8 965.9 969.3 967.2 969.8 968.5 970.4 969.8 969.0 971.1 969.2 972.4 970.2 973.7 969.2 975.0 969.3 976.3 969.9 977.6 969.0 978.9 967.3 980.2 967.9 981.5 967.0 982.8 966.4 984.1 967.4 985.4 965.5 986.7 965.0 988.0 964.7 989.3 965.5 990.6 963.5 991.9 961.3 993.2 964.7 994.5 964.9 995.8 959.1 997.1 962.5 998.4 962.8 999.7 957.1 1001.0 960.5 1002.3 959.2 1003.6 956.4 1004.9 956.7 1006.2 956.7 1007.5 955.7 1008.8 956.0 1010.1 956.1 1011.4 956.1 1012.7 953.0 1014.0 955.2 1015.3 957.1 1016.6 952.9 1017.9 953.1 1019.2 954.3 1020.5 952.4 1021.8 955.3 1023.1 955.3 1024.4 957.2 1025.7 955.9 1027.0 955.4 1028.3 957.5 1029.6 959.3 1030.9 961.3 1032.2 960.2 1033.5 963.0 1034.8 961.1 1036.1 962.8 1037.4 964.7 1038.7 965.0 1040.0 966.5 1041.3 967.2 1042.6 967.8 1043.9 967.4 1045.2 969.0 1046.5 971.4 1047.8 969.5 1049.1 972.8 1050.4 972.2 1051.7 970.9 1053.0 971.8 1054.3 972.5 1055.6 972.9 1056.9 973.4 1058.2 973.0 1059.5 973.2 1060.8 973.4 1062.1 974.2 1063.4 973.4 1064.7 971.9 1066.0 973.3 1067.3 973.2 1068.6 975.1 1069.9 972.1 1071.2 974.6 1072.5 972.8 1073.8 973.5 1075.1 972.8 1076.4 973.6 1077.7 974.4 1079.0 973.2 1080.3 973.1 1081.6 974.0 1082.9 975.1 1084.2 973.6 1085.5 971.5 1086.8 973.4 1088.1 972.9 1089.4 972.3 1090.7 973.8 1092.0 974.5 1093.3 974.6 1094.6 973.8 1095.9 973.9 1097.2 974.6 1098.5 973.6 1099.8 974.9 1101.1 972.9 1102.4 972.3 1103.7 972.2 1105.0 974.5 1106.3 973.5 1107.6 973.8 1108.9 974.7 1110.2 971.1 1111.5 972.1 1112.8 972.5 1114.1 972.4 1115.4 970.0 1116.7 972.1 1118.0 969.9 1119.3 971.2 1120.6 970.5 1121.9 972.1 1123.2 972.0 1124.5 971.6 1125.8 970.3 1127.1 969.2 1128.4 970.1 1129.7 967.2 1131.0 969.4 1132.3 966.4 1133.6 966.7 1134.9 965.1 1136.2 965.1 1137.5 962.4 1138.8 963.9 1140.1 964.9 1141.4 964.5 1142.7 962.0 1144.0 961.8 1145.3 962.8 1146.6 961.6 1147.9 964.2 1149.2 962.1 1150.5 962.4 1151.8 963.3 1153.1 963.3 1154.4 962.6 1155.7 963.1 1157.0 965.5 1158.3 966.9 1159.6 965.3 1160.9 965.7 1162.2 964.9 1163.5 968.4 1164.8 965.7 1166.1 968.2 1167.4 967.4 1168.7 968.3 1170.0 968.4 1171.3 970.4 1172.6 970.0 1173.9 972.2 1175.2 970.6 1176.5 972.4 1177.8 970.9 1179.1 974.0 1180.4 973.5 1181.7 973.9 1183.0 975.4 1184.3 972.8 1185.6 972.4 1186.9 975.3 1188.2 975.6 1189.5 977.5 1190.8 975.2 1192.1 975.0 1193.4 976.0 1194.7 976.7 1196.0 975.6 1197.3 975.7 1198.6 977.5 1199.9 977.2 1201.2 977.2 1202.5 978.6 1203.8 977.1 1205.1 977.7 1206.4 977.4 1207.7 976.7 1209.0 977.4 1210.3 978.1 1211.6 976.3 1212.9 976.2 1214.2 978.1 1215.5 978.2 1216.8 976.4 1218.1 976.7 1219.4 976.9 1220.7 976.4 1222.0 975.7 1223.3 975.2 1224.6 978.3 1225.9 975.9 1227.2 976.7 1228.5 976.4 1229.8 976.6 1231.1 976.7 1232.4 976.0 1233.7 978.0 1235.0 975.4 1236.3 976.6 1237.6 975.7 1238.9 976.7 1240.2 977.1 1241.5 976.3 1242.8 975.5 1244.1 976.0 1245.4 976.2 1246.7 974.3 1248.0 973.9 1249.3 975.3 1250.6 976.1 1251.9 975.0 1253.2 974.1 1254.5 975.1 1255.8 974.6 1257.1 975.9 1258.4 975.0 1259.7 974.2 1261.0 974.4 1262.3 973.7 1263.6 969.0 1264.9 968.0 1266.2 968.6 1267.5 965.5 1268.8 963.8 1270.1 964.0 1271.4 960.8 1272.7 958.1 1274.0 958.4 1275.3 954.8 1276.6 951.9 1277.9 949.6 1279.2 946.3 1280.5 946.0 1281.8 945.2 1283.1 945.4 1284.4 945.5 1285.7 945.6 1287.0 943.4 1288.3 943.7 1289.6 946.5 1290.9 946.2 1292.2 947.0 1293.5 950.7 1294.8 950.6 1296.1 953.8 1297.4 953.3 1298.7 955.5 1300.0 955.7 1301.3 953.7 1302.6 951.2 1303.9 952.8 1305.2 951.4 1306.5 950.5 1307.8 951.5 1309.1 949.8 1310.4 949.9 1311.7 946.4 1313.0 948.3 1314.3 950.3 1315.6 951.2 1316.9 950.9 1318.2 950.7 1319.5 953.7 1320.8 954.5 1322.1 953.2 1323.4 953.6 1324.7 955.5 1326.0 956.8 1327.3 956.9 1328.6 961.0 1329.9 960.5 1331.2 960.8 1332.5 962.2 1333.8 965.0 1335.1 965.3 1336.4 967.7 1337.7 969.1 1339.0 965.9 1340.3 969.5 1341.6 968.7 1342.9 971.2 1344.2 971.8 1345.5 972.7 1346.8 973.4 1348.1 974.1 1349.4 974.1 1350.7 974.7 1352.0 974.2 1353.3 974.8 1354.6 975.8 1355.9 976.4 1357.2 977.7 1358.5 975.8 1359.8 977.7 1361.1 978.5 1362.4 979.0 1363.7 978.0 1365.0 978.3 1366.3 978.9 1367.6 978.0 1368.9 979.1 1370.2 979.5 1371.5 978.8 1372.8 979.4 1374.1 978.6 1375.4 978.8 1376.7 977.4 1378.0 977.9 1379.3 978.9 1380.6 979.2 1381.9 977.5 1383.2 978.3 1384.5 978.6 1385.8 978.3 1387.1 978.2 1388.4 976.7 1389.7 976.9 1391.0 978.5 1392.3 977.3 1393.6 977.4 1394.9 976.8 1396.2 975.5 1397.5 975.5 1398.8 976.2 1400.1 976.4 1401.4 976.9 1402.7 973.7 1404.0 975.8 1405.3 976.3 1406.6 974.2 1407.9 973.2 1409.2 974.5 1410.5 972.8 1411.8 972.5 1413.1 970.5 1414.4 971.2 1415.7 970.8 1417.0 971.1 1418.3 968.6 1419.6 969.2 1420.9 968.0 1422.2 967.5 1423.5 963.7 1424.8 964.9 1426.1 960.6 1427.4 960.6 1428.7 959.0 1430.0 960.9 1431.3 959.9 1432.6 958.2 1433.9 955.3 1435.2 954.3 1436.5 954.3 1437.8 954.2 1439.1 953.3 1440.4 956.4 1441.7 955.7 1443.0 956.5 1444.3 957.4 1445.6 960.3 1446.9 961.9 1448.2 959.5 1449.5 963.5 1450.8 961.8 1452.1 963.1 1453.4 963.4 1454.7 963.3 1456.0 964.4 1457.3 964.6 1458.6 967.3 1459.9 967.3 1461.2 964.3 1462.5 964.7 1463.8 961.3 1465.1 962.2 1466.4 959.2 1467.7 959.0 1469.0 955.7 1470.3 953.3 1471.6 948.3 1472.9 946.7 1474.2 941.4 1475.5 941.0 1476.8 934.6 1478.1 933.8 1479.4 934.9 1480.7 931.3 1482.0 932.2 1483.3 931.9 1484.6 935.1 1485.9 938.5 1487.2 943.6 1488.5 945.4 1489.8 945.5 1491.1 949.4 1492.4 955.3 1493.7 956.3 1495.0 957.4 1496.3 960.9 1497.6 962.0 1498.9 962.5 1500.2 961.7 1501.5 963.4 1502.8 963.8 1504.1 967.5 1505.4 966.9 1506.7 968.8 1508.0 968.9 1509.3 969.3 1510.6 972.6 1511.9 970.0 1513.2 971.6 1514.5 969.9 1515.8 972.5 1517.1 971.9 1518.4 973.3 1519.7 972.6 1521.0 974.8 1522.3 972.4 1523.6 973.7 1524.9 973.5 1526.2 973.7 1527.5 972.4 1528.8 973.4 1530.1 974.1 1531.4 972.4 1532.7 972.9 1534.0 972.7 1535.3 971.4 1536.6 973.6 1537.9 969.7 1539.2 971.8 1540.5 972.0 1541.8 969.9 1543.1 970.2 1544.4 967.6 1545.7 971.5 1547.0 967.5 1548.3 968.7 1549.6 969.4 1550.9 967.8 1552.2 967.3 1553.5 966.4 1554.8 966.2 1556.1 967.2 1557.4 967.3 1558.7 968.2 1560.0 967.5 1561.3 967.9 1562.6 966.9 1563.9 967.9 1565.2 968.8 1566.5 968.2 1567.8 970.2 1569.1 970.2 1570.4 968.6 1571.7 970.8 1573.0 968.7 1574.3 970.8 1575.6 971.4 1576.9 969.3 1578.2 972.6 1579.5 969.4 1580.8 970.5 1582.1 971.9 1583.4 972.7 1584.7 973.2 1586.0 973.5 1587.3 973.3 1588.6 973.8 1589.9 972.6 1591.2 973.8 1592.5 972.9 1593.8 972.9 1595.1 973.8 1596.4 974.3 1597.7 973.9 1599.0 973.3 1600.3 973.0 1601.6 973.5 1602.9 970.8 1604.2 972.7 1605.5 972.6 1606.8 970.7 1608.1 970.8 1609.4 970.7 1610.7 972.7 1612.0 971.4 1613.3 971.6 1614.6 969.2 1615.9 968.1 1617.2 969.2 1618.5 967.7 1619.8 968.6 1621.1 967.8 1622.4 969.0 1623.7 971.1 1625.0 967.8 1626.3 969.9 1627.6 968.3 1628.9 968.6 1630.2 968.1 1631.5 967.9 1632.8 968.2 1634.1 967.6 1635.4 969.1 1636.7 969.7 1638.0 969.3 1639.3 969.4 1640.6 969.9 1641.9 968.1 1643.2 971.9 1644.5 972.2 1645.8 970.6 1647.1 971.9 1648.4 970.8 1649.7 970.9 1651.0 971.5 1652.3 971.7 1653.6 971.4 1654.9 972.3 1656.2 971.2 1657.5 972.1 1658.8 971.0 1660.1 969.6 1661.4 967.9 1662.7 964.4 1664.0 962.1 1665.3 962.2 1666.6 961.9 1667.9 962.1 1669.2 960.2 1670.5 960.4 1671.8 956.3 1673.1 955.9 1674.4 955.7 1675.7 954.6 1677.0 953.2 1678.3 956.5 1679.6 954.8 1680.9 954.7 1682.2 955.3 1683.5 954.9 1684.8 954.8 1686.1 957.1 1687.4 955.5 1688.7 956.7 1690.0 958.2 1691.3 958.8 1692.6 956.2 1693.9 962.9 1695.2 963.3 1696.5 960.5 1697.8 962.7 1699.1 962.9 1700.4 966.0 1701.7 964.8 1703.0 967.7 1704.3 969.8 1705.6 967.2 1706.9 969.1 1708.2 969.2 1709.5 970.1 1710.8 971.0 1712.1 968.0 1713.4 968.5 1714.7 969.6 1716.0 970.2 1717.3 968.7 1718.6 969.2 1719.9 971.4 1721.2 971.5 1722.5 972.0 1723.8 969.4 1725.1 971.1 1726.4 969.3 1727.7 969.7 1729.0 971.9 1730.3 971.5 1731.6 970.4 1732.9 972.5 1734.2 973.8 1735.5 975.2 1736.8 975.4 1738.1 977.4 1739.4 974.6 1740.7 976.2 1742.0 978.2 1743.3 978.4 1744.6 978.3 1745.9 976.0 1747.2 976.1 1748.5 977.6 1749.8 974.9 1751.1 977.5 1752.4 976.5 1753.7 976.5 1755.0 974.6 1756.3 975.5 1757.6 976.2 1758.9 974.9 1760.2 977.1 1761.5 973.2 1762.8 974.3 1764.1 975.6 1765.4 973.3 1766.7 974.1 1768.0 972.7 1769.3 973.2 1770.6 973.2 1771.9 974.8 1773.2 971.4 1774.5 974.4 1775.8 974.5 1777.1 973.4 1778.4 976.0 1779.7 973.3 1781.0 973.1 1782.3 974.3 1783.6 972.4 1784.9 973.0 1786.2 974.0 1787.5 973.7 1788.8 974.4 1790.1 975.0 1791.4 973.8 1792.7 972.5 1794.0 973.3 1795.3 972.9 1796.6 974.1 1797.9 975.0 1799.2 973.9 1800.5 972.1 1801.8 969.9 1803.1 973.6 1804.4 970.1 1805.7 971.1 1807.0 967.9 1808.3 969.1 1809.6 969.2 1810.9 970.4 1812.2 967.2 1813.5 968.3 1814.8 969.4 1816.1 969.5 1817.4 967.9 1818.7 967.0 1820.0 970.7 1821.3 970.2 1822.6 970.8 1823.9 970.3 1825.2 972.3 1826.5 973.1 1827.8 974.4 1829.1 974.1 1830.4 975.7 1831.7 975.5 1833.0 975.6 1834.3 976.1 1835.6 977.1 1836.9 976.8 1838.2 978.2 1839.5 978.9 1840.8 979.2 1842.1 977.7 1843.4 979.7 1844.7 981.1 1846.0 979.6 1847.3 981.3 1848.6 981.4 1849.9 982.0 1851.2 981.7 1852.5 981.5 1853.8 981.2 1855.1 982.9 1856.4 981.9 1857.7 981.5 1859.0 983.7 1860.3 982.2 1861.6 982.4 1862.9 982.2 1864.2 982.6 1865.5 982.6 1866.8 982.5 1868.1 983.1 1869.4 982.7 1870.7 982.3 1872.0 981.2 1873.3 982.4 1874.6 981.1 1875.9 981.4 1877.2 982.6 1878.5 980.6 1879.8 982.6 1881.1 981.8 1882.4 982.0 1883.7 982.2 1885.0 981.2 1886.3 981.5 1887.6 979.8 1888.9 980.1 1890.2 982.1 1891.5 980.8 1892.8 981.1 1894.1 980.7 1895.4 982.6 1896.7 979.5 1898.0 981.4 1899.3 981.3 1900.6 980.4 1901.9 981.2 1903.2 980.4 1904.5 979.5 1905.8 981.1 1907.1 981.0 1908.4 979.8 1909.7 979.9 1911.0 980.2 1912.3 981.3 1913.6 979.1 1914.9 978.1 1916.2 980.6 1917.5 979.7 1918.8 978.7 1920.1 978.2 1921.4 979.2"/>
<path class="c" stroke="#f00" stroke-width="6.80" d="M162.5 936.5 163.8 933.1 165.1 930.6 166.4 936.1 167.7 932.4 169.0 934.0 170.3 934.4 171.6 935.2 172.9 937.4 174.2 931.5 175.5 933.5 176.8 938.7 178.1 933.5 179.4 939.2 180.7 942.5 182.0 943.9 183.3 944.3 184.6 942.9 185.9 946.4 187.2 945.0 188.5 947.1 189.8 941.2 191.1 943.5 192.4 948.1 193.7 951.1 195.0 948.6 196.3 951.9 197.6 949.6 198.9 956.5 200.2 952.1 201.5 954.0 202.8 948.0 204.1 957.2 205.4 953.9 206.7 955.0 208.0 953.7 209.3 956.9 210.6 955.8 211.9 961.4 213.2 960.8 214.5 959.2 215.8 957.7 217.1 957.2 218.4 959.1 219.7 964.3 221.0 960.1 222.3 956.9 223.6 962.3 224.9 958.5 226.2 958.2 227.5 961.6 228.8 960.3 230.1 963.2 231.4 961.6 232.7 960.6 234.0 965.0 235.3 962.4 236.6 963.7 237.9 968.2 239.2 964.7 240.5 967.1 241.8 963.1 243.1 966.1 244.4 965.6 245.7 968.5 247.0 962.9 248.3 965.9 249.6 956.9 250.9 957.9 252.2 955.3 253.5 958.0 254.8 954.5 256.1 959.6 257.4 963.4 258.7 957.8 260.0 959.4 261.3 969.3 262.6 965.1 263.9 967.3 265.2 967.2 266.5 969.5 267.8 972.2 269.1 970.0 270.4 973.5 271.7 972.1 273.0 982.6 274.3 981.0 275.6 975.5 276.9 973.7 278.2 980.7 279.5 980.8 280.8 978.7 282.1 980.2 283.4 981.7 284.7 981.4 286.0 984.6 287.3 984.3 288.6 978.8 289.9 981.8 291.2 985.8 292.5 979.8 293.8 984.2 295.1 985.0 296.4 985.9 297.7 984.3 299.0 992.0 300.3 986.3 301.6 989.3 302.9 989.3 304.2 990.0 305.5 994.3 306.8 993.2 308.1 994.7 309.4 993.7 310.7 999.4 312.0 991.4 313.3 999.5 314.6 991.3 315.9 991.9 317.2 996.8 318.5 997.0 319.8 1001.5 321.1 992.0 322.4 999.2 323.7 995.1 325.0 997.7 326.3 999.7 327.6 1001.4 328.9 1000.0 330.2 1003.7 331.5 996.8 332.8 1002.5 334.1 1001.7 335.4 1001.5 336.7 1001.3 338.0 1004.3 339.3 1002.5 340.6 1005.8 341.9 1005.1 343.2 999.5 344.5 1003.1 345.8 1003.9 347.1 1002.0 348.4 1005.2 349.7 1004.1 351.0 1004.8 352.3 1000.2 353.6 1005.6 354.9 1005.3 356.2 1006.7 357.5 1009.6 358.8 1007.0 360.1 1004.7 361.4 1009.9 362.7 1010.1 364.0 1008.4 365.3 1007.9 366.6 1007.4 367.9 1011.9 369.2 1010.7 370.5 1009.5 371.8 1015.3 373.1 1012.6 374.4 1012.0 375.7 1012.6 377.0 1013.3 378.3 1010.4 379.6 1009.6 380.9 1008.8 382.2 1015.9 383.5 1018.1 384.8 1016.0 386.1 1016.5 387.4 1017.8 388.7 1020.1 390.0 1015.8 391.3 1016.3 392.6 1017.0 393.9 1020.5 395.2 1017.3 396.5 1017.4 397.8 1018.3 399.1 1017.8 400.4 1018.1 401.7 1018.8 403.0 1021.4 404.3 1021.4 405.6 1017.2 406.9 1020.7 408.2 1022.3 409.5 1022.7 410.8 1022.6 412.1 1022.4 413.4 1020.9 414.7 1026.6 416.0 1021.6 417.3 1020.7 418.6 1025.1 419.9 1023.9 421.2 1024.2 422.5 1021.4 423.8 1020.9 425.1 1023.7 426.4 1022.6 427.7 1021.2 429.0 1023.3 430.3 1025.5 431.6 1024.3 432.9 1026.1 434.2 1025.5 435.5 1024.8 436.8 1026.8 438.1 1025.1 439.4 1024.7 440.7 1021.8 442.0 1028.7 443.3 1024.9 444.6 1024.9 445.9 1028.4 447.2 1029.1 448.5 1025.2 449.8 1028.0 451.1 1023.5 452.4 1032.2 453.7 1030.5 455.0 1029.9 456.3 1028.5 457.6 1024.7 458.9 1030.1 460.2 1025.1 461.5 1027.3 462.8 1023.8 464.1 1022.8 465.4 1026.1 466.7 1024.5 468.0 1020.2 469.3 1025.4 470.6 1021.7 471.9 1023.9 473.2 1023.7 474.5 1023.2 475.8 1025.9 477.1 1023.2 478.4 1022.7 479.7 1024.7 481.0 1024.7 482.3 1027.3 483.6 1025.0 484.9 1027.2 486.2 1023.9 487.5 1030.1 488.8 1030.5 490.1 1028.1 491.4 1032.9 492.7 1026.3 494.0 1030.2 495.3 1036.0 496.6 1032.2 497.9 1033.8 499.2 1037.3 500.5 1034.5 501.8 1034.5 503.1 1037.4 504.4 1037.4 505.7 1035.1 507.0 1034.7 508.3 1037.7 509.6 1041.8 510.9 1039.7 512.2 1041.3 513.5 1039.5 514.8 1041.5 516.1 1042.4 517.4 1040.1 518.7 1043.3 520.0 1042.2 521.3 1043.1 522.6 1040.4 523.9 1044.8 525.2 1044.6 526.5 1040.0 527.8 1044.4 529.1 1042.8 530.4 1046.6 531.7 1045.4 533.0 1043.1 534.3 1042.4 535.6 1040.9 536.9 1044.2 538.2 1045.0 539.5 1042.1 540.8 1045.1 542.1 1044.3 543.4 1043.1 544.7 1043.5 546.0 1043.4 547.3 1044.6 548.6 1045.7 549.9 1047.6 551.2 1047.9 552.5 1040.6 553.8 1041.9 555.1 1042.9 556.4 1043.9 557.7 1044.9 559.0 1042.8 560.3 1046.6 561.6 1040.7 562.9 1044.4 564.2 1042.9 565.5 1043.6 566.8 1041.4 568.1 1041.4 569.4 1039.4 570.7 1038.5 572.0 1041.4 573.3 1041.5 574.6 1043.5 575.9 1037.0 577.2 1038.0 578.5 1039.1 579.8 1036.9 581.1 1035.4 582.4 1030.2 583.7 1033.1 585.0 1030.9 586.3 1027.4 587.6 1023.3 588.9 1023.2 590.2 1020.3 591.5 1014.1 592.8 1016.2 594.1 1010.8 595.4 1005.8 596.7 1004.6 598.0 1001.3 599.3 994.4 600.6 994.8 601.9 988.4 603.2 990.8 604.5 986.1 605.8 988.3 607.1 986.2 608.4 986.0 609.7 991.9 611.0 997.8 612.3 1006.1 613.6 1002.2 614.9 1010.0 616.2 1014.3 617.5 1014.5 618.8 1017.4 620.1 1015.3 621.4 1024.8 622.7 1023.0 624.0 1028.6 625.3 1031.3 626.6 1032.3 627.9 1037.4 629.2 1037.6 630.5 1036.0 631.8 1040.8 633.1 1038.0 634.4 1045.3 635.7 1040.7 637.0 1044.4 638.3 1041.1 639.6 1044.1 640.9 1040.2 642.2 1041.0 643.5 1040.8 644.8 1040.1 646.1 1040.1 647.4 1040.8 648.7 1033.7 650.0 1029.1 651.3 1029.5 652.6 1025.3 653.9 1020.3 655.2 1016.7 656.5 1014.4 657.8 1015.3 659.1 1004.9 660.4 1004.8 661.7 1008.5 663.0 1004.9 664.3 1006.8 665.6 1007.6 666.9 1006.3 668.2 1004.8 669.5 1010.0 670.8 1008.7 672.1 1013.4 673.4 1017.2 674.7 1022.9 676.0 1024.8 677.3 1028.3 678.6 1028.3 679.9 1032.3 681.2 1028.0 682.5 1036.1 683.8 1033.2 685.1 1035.3 686.4 1034.1 687.7 1033.7 689.0 1031.7 690.3 1031.0 691.6 1028.7 692.9 1024.4 694.2 1023.3 695.5 1022.6 696.8 1022.9 698.1 1024.0 699.4 1016.1 700.7 1017.3 702.0 1006.5 703.3 1001.1 704.6 1005.5 705.9 996.7 707.2 995.7 708.5 986.9 709.8 993.1 711.1 992.6 712.4 996.6 713.7 993.2 715.0 1000.9 716.3 1001.3 717.6 1003.2 718.9 1012.5 720.2 1013.1 721.5 1016.1 722.8 1026.5 724.1 1029.8 725.4 1029.2 726.7 1034.4 728.0 1037.9 729.3 1040.3 730.6 1041.2 731.9 1048.7 733.2 1047.9 734.5 1050.3 735.8 1049.1 737.1 1052.5 738.4 1051.8 739.7 1056.0 741.0 1058.2 742.3 1055.5 743.6 1058.2 744.9 1060.6 746.2 1062.0 747.5 1061.1 748.8 1061.7 750.1 1063.4 751.4 1061.4 752.7 1061.1 754.0 1060.1 755.3 1061.3 756.6 1063.2 757.9 1063.5 759.2 1061.1 760.5 1061.9 761.8 1063.7 763.1 1064.2 764.4 1062.3 765.7 1064.0 767.0 1064.1 768.3 1063.2 769.6 1062.4 770.9 1059.4 772.2 1061.6 773.5 1057.4 774.8 1058.9 776.1 1056.8 777.4 1059.6 778.7 1055.4 780.0 1055.2 781.3 1050.9 782.6 1047.8 783.9 1045.7 785.2 1046.4 786.5 1040.0 787.8 1042.0 789.1 1038.2 790.4 1041.3 791.7 1036.9 793.0 1038.2 794.3 1036.0 795.6 1033.2 796.9 1036.6 798.2 1037.2 799.5 1036.6 800.8 1046.1 802.1 1046.4 803.4 1047.6 804.7 1046.6 806.0 1052.6 807.3 1051.3 808.6 1055.3 809.9 1051.0 811.2 1056.6 812.5 1055.3 813.8 1054.2 815.1 1055.6 816.4 1054.1 817.7 1053.9 819.0 1052.3 820.3 1051.2 821.6 1050.9 822.9 1043.5 824.2 1044.6 825.5 1043.0 826.8 1041.7 828.1 1037.5 829.4 1034.0 830.7 1033.1 832.0 1036.7 833.3 1034.4 834.6 1035.7 835.9 1037.4 837.2 1037.0 838.5 1041.7 839.8 1044.3 841.1 1049.1 842.4 1052.2 843.7 1052.5 845.0 1055.2 846.3 1060.4 847.6 1056.8 848.9 1063.3 850.2 1059.2 851.5 1062.5 852.8 1065.6 854.1 1063.1 855.4 1066.6 856.7 1067.8 858.0 1068.4 859.3 1067.6 860.6 1069.5 861.9 1068.6 863.2 1072.1 864.5 1070.1 865.8 1071.6 867.1 1073.3 868.4 1072.1 869.7 1073.8 871.0 1073.1 872.3 1072.2 873.6 1072.8 874.9 1074.3 876.2 1073.1 877.5 1075.4 878.8 1075.6 880.1 1074.0 881.4 1074.4 882.7 1077.3 884.0 1074.7 885.3 1077.3 886.6 1074.6 887.9 1075.9 889.2 1076.6 890.5 1075.4 891.8 1076.6 893.1 1078.0 894.4 1075.0 895.7 1077.8 897.0 1075.9 898.3 1076.3 899.6 1074.7 900.9 1075.6 902.2 1078.9 903.5 1076.0 904.8 1076.4 906.1 1076.5 907.4 1073.4 908.7 1075.7 910.0 1077.7 911.3 1076.1 912.6 1078.2 913.9 1073.1 915.2 1074.0 916.5 1074.6 917.8 1075.2 919.1 1075.9 920.4 1074.6 921.7 1075.3 923.0 1074.6 924.3 1077.3 925.6 1074.5 926.9 1072.8 928.2 1074.1 929.5 1073.0 930.8 1072.5 932.1 1074.9 933.4 1071.4 934.7 1072.3 936.0 1073.3 937.3 1069.4 938.6 1074.3 939.9 1072.8 941.2 1073.8 942.5 1072.1 943.8 1073.7 945.1 1076.8 946.4 1075.0 947.7 1076.6 949.0 1077.6 950.3 1076.1 951.6 1074.7 952.9 1077.4 954.2 1075.1 955.5 1077.4 956.8 1075.7 958.1 1076.0 959.4 1077.3 960.7 1077.3 962.0 1078.9 963.3 1075.5 964.6 1077.7 965.9 1077.1 967.2 1075.8 968.5 1077.1 969.8 1078.0 971.1 1076.5 972.4 1076.6 973.7 1078.1 975.0 1076.3 976.3 1078.3 977.6 1076.5 978.9 1077.5 980.2 1076.5 981.5 1074.4 982.8 1074.9 984.1 1077.3 985.4 1075.4 986.7 1074.6 988.0 1075.9 989.3 1074.5 990.6 1073.8 991.9 1074.1 993.2 1074.0 994.5 1073.5 995.8 1073.0 997.1 1072.6 998.4 1074.0 999.7 1072.9 1001.0 1072.1 1002.3 1069.5 1003.6 1069.8 1004.9 1070.3 1006.2 1070.0 1007.5 1067.0 1008.8 1068.8 1010.1 1068.2 1011.4 1064.6 1012.7 1065.6 1014.0 1069.1 1015.3 1067.2 1016.6 1070.1 1017.9 1070.2 1019.2 1069.1 1020.5 1066.1 1021.8 1071.3 1023.1 1073.2 1024.4 1071.5 1025.7 1071.4 1027.0 1070.9 1028.3 1072.2 1029.6 1073.6 1030.9 1074.9 1032.2 1074.9 1033.5 1072.5 1034.8 1075.4 1036.1 1075.3 1037.4 1076.5 1038.7 1078.1 1040.0 1077.4 1041.3 1078.8 1042.6 1079.6 1043.9 1077.8 1045.2 1078.7 1046.5 1080.3 1047.8 1080.7 1049.1 1077.9 1050.4 1078.8 1051.7 1079.1 1053.0 1080.0 1054.3 1081.0 1055.6 1079.0 1056.9 1079.6 1058.2 1079.3 1059.5 1080.4 1060.8 1081.2 1062.1 1080.8 1063.4 1081.9 1064.7 1082.4 1066.0 1082.3 1067.3 1080.3 1068.6 1083.3 1069.9 1081.5 1071.2 1082.6 1072.5 1083.2 1073.8 1081.1 1075.1 1082.3 1076.4 1083.3 1077.7 1081.1 1079.0 1082.6 1080.3 1079.6 1081.6 1081.6 1082.9 1081.7 1084.2 1081.9 1085.5 1083.2 1086.8 1082.6 1088.1 1082.3 1089.4 1084.1 1090.7 1081.8 1092.0 1082.7 1093.3 1081.9 1094.6 1082.2 1095.9 1085.0 1097.2 1082.0 1098.5 1081.5 1099.8 1083.9 1101.1 1081.4 1102.4 1083.2 1103.7 1082.9 1105.0 1081.6 1106.3 1083.1 1107.6 1081.7 1108.9 1081.4 1110.2 1082.7 1111.5 1083.1 1112.8 1082.6 1114.1 1080.5 1115.4 1080.1 1116.7 1081.7 1118.0 1082.5 1119.3 1082.4 1120.6 1083.9 1121.9 1083.0 1123.2 1082.5 1124.5 1082.6 1125.8 1081.8 1127.1 1082.9 1128.4 1081.1 1129.7 1080.9 1131.0 1083.7 1132.3 1081.9 1133.6 1080.2 1134.9 1081.2 1136.2 1081.5 1137.5 1079.6 1138.8 1079.7 1140.1 1079.5 1141.4 1077.9 1142.7 1076.3 1144.0 1079.3 1145.3 1079.8 1146.6 1079.8 1147.9 1078.2 1149.2 1078.1 1150.5 1078.8 1151.8 1079.8 1153.1 1077.4 1154.4 1079.2 1155.7 1078.5 1157.0 1076.6 1158.3 1077.2 1159.6 1079.0 1160.9 1081.1 1162.2 1078.2 1163.5 1078.4 1164.8 1080.2 1166.1 1078.7 1167.4 1079.7 1168.7 1081.1 1170.0 1080.4 1171.3 1079.7 1172.6 1081.5 1173.9 1079.1 1175.2 1083.7 1176.5 1080.9 1177.8 1082.5 1179.1 1081.9 1180.4 1083.3 1181.7 1081.9 1183.0 1083.5 1184.3 1083.4 1185.6 1085.9 1186.9 1084.5 1188.2 1085.8 1189.5 1085.2 1190.8 1086.8 1192.1 1086.0 1193.4 1086.3 1194.7 1086.3 1196.0 1088.3 1197.3 1087.6 1198.6 1087.0 1199.9 1086.5 1201.2 1088.2 1202.5 1086.8 1203.8 1087.5 1205.1 1087.5 1206.4 1086.1 1207.7 1087.2 1209.0 1086.5 1210.3 1087.8 1211.6 1086.9 1212.9 1087.5 1214.2 1088.7 1215.5 1087.7 1216.8 1087.8 1218.1 1087.9 1219.4 1089.4 1220.7 1086.7 1222.0 1087.8 1223.3 1086.9 1224.6 1086.3 1225.9 1088.3 1227.2 1087.9 1228.5 1087.6 1229.8 1086.8 1231.1 1086.8 1232.4 1088.5 1233.7 1087.0 1235.0 1086.4 1236.3 1086.6 1237.6 1086.6 1238.9 1087.5 1240.2 1087.2 1241.5 1086.9 1242.8 1086.9 1244.1 1088.9 1245.4 1086.4 1246.7 1085.6 1248.0 1085.8 1249.3 1086.1 1250.6 1085.8 1251.9 1084.9 1253.2 1085.7 1254.5 1085.2 1255.8 1085.0 1257.1 1085.3 1258.4 1086.0 1259.7 1084.9 1261.0 1084.0 1262.3 1083.8 1263.6 1083.6 1264.9 1080.8 1266.2 1081.5 1267.5 1082.8 1268.8 1081.3 1270.1 1079.2 1271.4 1080.7 1272.7 1076.6 1274.0 1077.3 1275.3 1075.0 1276.6 1075.2 1277.9 1074.2 1279.2 1070.1 1280.5 1070.9 1281.8 1068.1 1283.1 1069.5 1284.4 1069.0 1285.7 1071.4 1287.0 1069.7 1288.3 1069.3 1289.6 1069.9 1290.9 1070.5 1292.2 1068.1 1293.5 1070.7 1294.8 1070.0 1296.1 1067.1 1297.4 1068.1 1298.7 1065.1 1300.0 1066.4 1301.3 1064.7 1302.6 1060.9 1303.9 1063.4 1305.2 1061.0 1306.5 1062.5 1307.8 1064.7 1309.1 1060.5 1310.4 1062.1 1311.7 1058.3 1313.0 1060.9 1314.3 1064.5 1315.6 1065.8 1316.9 1066.1 1318.2 1064.8 1319.5 1069.7 1320.8 1069.9 1322.1 1067.6 1323.4 1070.8 1324.7 1070.3 1326.0 1070.3 1327.3 1072.7 1328.6 1070.9 1329.9 1074.6 1331.2 1074.0 1332.5 1074.8 1333.8 1075.7 1335.1 1075.0 1336.4 1077.2 1337.7 1075.7 1339.0 1079.0 1340.3 1079.2 1341.6 1079.3 1342.9 1079.5 1344.2 1080.6 1345.5 1079.9 1346.8 1081.1 1348.1 1080.9 1349.4 1081.6 1350.7 1081.9 1352.0 1082.5 1353.3 1082.9 1354.6 1081.6 1355.9 1083.6 1357.2 1084.5 1358.5 1084.8 1359.8 1085.4 1361.1 1084.1 1362.4 1085.1 1363.7 1084.2 1365.0 1084.7 1366.3 1084.7 1367.6 1083.9 1368.9 1085.0 1370.2 1085.7 1371.5 1085.2 1372.8 1086.5 1374.1 1086.5 1375.4 1086.3 1376.7 1086.8 1378.0 1088.0 1379.3 1087.0 1380.6 1084.9 1381.9 1087.2 1383.2 1086.1 1384.5 1086.5 1385.8 1085.8 1387.1 1086.2 1388.4 1083.7 1389.7 1085.4 1391.0 1086.8 1392.3 1086.3 1393.6 1085.7 1394.9 1086.2 1396.2 1086.6 1397.5 1084.2 1398.8 1083.9 1400.1 1085.1 1401.4 1086.1 1402.7 1086.6 1404.0 1085.7 1405.3 1085.3 1406.6 1086.8 1407.9 1085.1 1409.2 1083.0 1410.5 1081.9 1411.8 1082.1 1413.1 1083.5 1414.4 1082.7 1415.7 1083.4 1417.0 1079.8 1418.3 1080.1 1419.6 1078.9 1420.9 1081.5 1422.2 1080.0 1423.5 1078.6 1424.8 1080.8 1426.1 1078.7 1427.4 1077.2 1428.7 1077.2 1430.0 1075.0 1431.3 1075.1 1432.6 1074.4 1433.9 1073.8 1435.2 1074.7 1436.5 1072.4 1437.8 1076.4 1439.1 1076.9 1440.4 1076.1 1441.7 1076.8 1443.0 1074.5 1444.3 1077.0 1445.6 1075.5 1446.9 1079.1 1448.2 1075.9 1449.5 1077.1 1450.8 1079.6 1452.1 1079.0 1453.4 1078.5 1454.7 1078.6 1456.0 1080.6 1457.3 1079.6 1458.6 1077.0 1459.9 1078.8 1461.2 1077.0 1462.5 1076.9 1463.8 1078.1 1465.1 1075.0 1466.4 1074.3 1467.7 1076.1 1469.0 1073.3 1470.3 1073.6 1471.6 1071.6 1472.9 1069.3 1474.2 1073.7 1475.5 1068.5 1476.8 1074.0 1478.1 1071.1 1479.4 1072.6 1480.7 1071.1 1482.0 1070.5 1483.3 1072.9 1484.6 1071.1 1485.9 1071.0 1487.2 1070.2 1488.5 1071.7 1489.8 1074.1 1491.1 1072.5 1492.4 1074.6 1493.7 1076.6 1495.0 1074.3 1496.3 1075.2 1497.6 1076.6 1498.9 1077.8 1500.2 1077.2 1501.5 1079.4 1502.8 1083.0 1504.1 1080.4 1505.4 1084.2 1506.7 1080.5 1508.0 1084.4 1509.3 1083.7 1510.6 1086.0 1511.9 1083.0 1513.2 1083.4 1514.5 1084.0 1515.8 1082.0 1517.1 1083.7 1518.4 1082.7 1519.7 1083.0 1521.0 1081.2 1522.3 1082.6 1523.6 1084.7 1524.9 1082.5 1526.2 1083.8 1527.5 1083.3 1528.8 1082.9 1530.1 1083.7 1531.4 1084.8 1532.7 1083.0 1534.0 1082.6 1535.3 1083.7 1536.6 1083.6 1537.9 1082.1 1539.2 1083.6 1540.5 1083.1 1541.8 1082.9 1543.1 1083.9 1544.4 1082.6 1545.7 1082.7 1547.0 1082.6 1548.3 1081.4 1549.6 1083.1 1550.9 1080.9 1552.2 1081.5 1553.5 1080.6 1554.8 1080.5 1556.1 1080.1 1557.4 1081.9 1558.7 1081.0 1560.0 1082.0 1561.3 1082.5 1562.6 1082.4 1563.9 1079.7 1565.2 1080.6 1566.5 1082.3 1567.8 1081.0 1569.1 1081.7 1570.4 1081.8 1571.7 1080.7 1573.0 1081.3 1574.3 1081.7 1575.6 1081.6 1576.9 1080.1 1578.2 1082.2 1579.5 1083.0 1580.8 1083.1 1582.1 1082.6 1583.4 1082.1 1584.7 1082.5 1586.0 1084.0 1587.3 1082.6 1588.6 1083.1 1589.9 1084.1 1591.2 1082.7 1592.5 1084.7 1593.8 1081.5 1595.1 1083.7 1596.4 1083.6 1597.7 1082.7 1599.0 1084.3 1600.3 1082.4 1601.6 1081.4 1602.9 1081.7 1604.2 1083.6 1605.5 1081.4 1606.8 1081.9 1608.1 1080.6 1609.4 1081.2 1610.7 1080.6 1612.0 1079.9 1613.3 1078.7 1614.6 1079.8 1615.9 1080.1 1617.2 1077.0 1618.5 1077.4 1619.8 1077.8 1621.1 1076.9 1622.4 1077.5 1623.7 1076.3 1625.0 1076.2 1626.3 1076.3 1627.6 1077.1 1628.9 1077.0 1630.2 1075.0 1631.5 1073.4 1632.8 1075.9 1634.1 1074.5 1635.4 1073.9 1636.7 1076.3 1638.0 1078.8 1639.3 1076.2 1640.6 1074.6 1641.9 1077.9 1643.2 1076.5 1644.5 1079.0 1645.8 1080.6 1647.1 1080.4 1648.4 1081.5 1649.7 1081.1 1651.0 1084.4 1652.3 1082.2 1653.6 1083.4 1654.9 1084.7 1656.2 1082.2 1657.5 1082.6 1658.8 1082.5 1660.1 1083.7 1661.4 1085.0 1662.7 1083.4 1664.0 1082.4 1665.3 1081.2 1666.6 1082.8 1667.9 1080.6 1669.2 1081.2 1670.5 1078.8 1671.8 1081.6 1673.1 1079.2 1674.4 1078.8 1675.7 1078.8 1677.0 1080.1 1678.3 1080.2 1679.6 1080.0 1680.9 1078.2 1682.2 1079.7 1683.5 1076.7 1684.8 1081.3 1686.1 1078.6 1687.4 1078.8 1688.7 1080.1 1690.0 1079.0 1691.3 1076.0 1692.6 1078.5 1693.9 1079.9 1695.2 1078.8 1696.5 1078.0 1697.8 1078.5 1699.1 1079.0 1700.4 1079.2 1701.7 1077.2 1703.0 1077.9 1704.3 1080.6 1705.6 1080.0 1706.9 1078.4 1708.2 1079.3 1709.5 1081.5 1710.8 1080.9 1712.1 1078.2 1713.4 1077.7 1714.7 1079.0 1716.0 1078.3 1717.3 1079.2 1718.6 1080.5 1719.9 1079.3 1721.2 1080.2 1722.5 1078.7 1723.8 1080.1 1725.1 1080.1 1726.4 1081.9 1727.7 1083.2 1729.0 1083.5 1730.3 1083.4 1731.6 1082.2 1732.9 1085.1 1734.2 1085.6 1735.5 1085.7 1736.8 1084.4 1738.1 1086.4 1739.4 1085.6 1740.7 1086.7 1742.0 1085.0 1743.3 1085.6 1744.6 1086.7 1745.9 1087.3 1747.2 1087.3 1748.5 1088.1 1749.8 1088.1 1751.1 1089.3 1752.4 1086.7 1753.7 1086.7 1755.0 1088.0 1756.3 1088.6 1757.6 1088.0 1758.9 1088.6 1760.2 1087.6 1761.5 1090.3 1762.8 1090.9 1764.1 1089.2 1765.4 1088.6 1766.7 1089.1 1768.0 1089.9 1769.3 1089.8 1770.6 1089.6 1771.9 1090.8 1773.2 1090.4 1774.5 1088.9 1775.8 1090.0 1777.1 1090.2 1778.4 1089.6 1779.7 1089.1 1781.0 1090.3 1782.3 1090.5 1783.6 1092.0 1784.9 1089.3 1786.2 1089.1 1787.5 1089.3 1788.8 1090.4 1790.1 1087.1 1791.4 1089.6 1792.7 1090.5 1794.0 1087.5 1795.3 1086.3 1796.6 1089.2 1797.9 1086.9 1799.2 1087.1 1800.5 1086.0 1801.8 1085.2 1803.1 1084.9 1804.4 1085.3 1805.7 1085.2 1807.0 1083.7 1808.3 1084.0 1809.6 1086.2 1810.9 1082.9 1812.2 1084.0 1813.5 1083.9 1814.8 1083.1 1816.1 1083.2 1817.4 1082.6 1818.7 1085.2 1820.0 1084.1 1821.3 1087.0 1822.6 1087.6 1823.9 1087.2 1825.2 1088.0 1826.5 1087.3 1827.8 1089.6 1829.1 1090.8 1830.4 1090.5 1831.7 1089.1 1833.0 1090.3 1834.3 1089.9 1835.6 1090.4 1836.9 1089.9 1838.2 1090.2 1839.5 1090.6 1840.8 1092.2 1842.1 1091.0 1843.4 1092.0 1844.7 1092.6 1846.0 1091.7 1847.3 1090.8 1848.6 1091.6 1849.9 1090.9 1851.2 1092.1 1852.5 1091.0 1853.8 1092.4 1855.1 1092.2 1856.4 1091.2 1857.7 1091.6 1859.0 1092.4 1860.3 1091.8 1861.6 1092.8 1862.9 1090.6 1864.2 1091.4 1865.5 1091.8 1866.8 1091.9 1868.1 1093.7 1869.4 1091.3 1870.7 1093.0 1872.0 1092.3 1873.3 1092.8 1874.6 1091.4 1875.9 1092.2 1877.2 1092.1 1878.5 1092.2 1879.8 1091.8 1881.1 1092.9 1882.4 1093.1 1883.7 1092.2 1885.0 1093.0 1886.3 1092.7 1887.6 1093.2 1888.9 1091.8 1890.2 1093.6 1891.5 1092.0 1892.8 1093.3 1894.1 1092.0 1895.4 1092.9 1896.7 1092.5 1898.0 1092.1 1899.3 1092.4 1900.6 1091.9 1901.9 1092.3 1903.2 1090.9 1904.5 1092.0 1905.8 1093.2 1907.1 1092.2 1908.4 1090.7 1909.7 1092.3 1911.0 1091.3 1912.3 1092.8 1913.6 1090.9 1914.9 1091.9 1916.2 1090.6 1917.5 1091.4 1918.8 1092.1 1920.1 1092.1 1921.4 1090.2"/>
<path class="c" stroke="#808000" stroke-width="7.60" d="M162.5 1062.2 163.8 1066.4 165.1 1069.7 166.4 1070.6 167.7 1066.7 169.0 1069.4 170.3 1068.5 171.6 1065.4 172.9 1071.6 174.2 1074.5 175.5 1076.3 176.8 1075.5 178.1 1072.7 179.4 1074.1 180.7 1073.2 182.0 1077.3 183.3 1073.8 184.6 1078.9 185.9 1081.9 187.2 1081.8 188.5 1079.6 189.8 1084.3 191.1 1080.8 192.4 1079.7 193.7 1081.6 195.0 1080.5 196.3 1081.0 197.6 1084.3 198.9 1084.0 200.2 1082.3 201.5 1086.6 202.8 1088.1 204.1 1080.8 205.4 1085.5 206.7 1083.7 208.0 1086.9 209.3 1089.3 210.6 1090.2 211.9 1087.7 213.2 1088.9 214.5 1090.0 215.8 1094.9 217.1 1095.5 218.4 1090.2 219.7 1096.5 221.0 1096.7 222.3 1098.4 223.6 1095.6 224.9 1098.1 226.2 1098.8 227.5 1095.1 228.8 1095.5 230.1 1096.2 231.4 1094.4 232.7 1096.0 234.0 1101.1 235.3 1101.4 236.6 1094.5 237.9 1097.3 239.2 1099.0 240.5 1100.8 241.8 1102.3 243.1 1101.2 244.4 1098.5 245.7 1101.0 247.0 1105.3 248.3 1102.3 249.6 1099.1 250.9 1105.0 252.2 1104.6 253.5 1107.7 254.8 1105.2 256.1 1106.6 257.4 1105.4 258.7 1104.1 260.0 1105.8 261.3 1107.7 262.6 1105.6 263.9 1109.6 265.2 1112.0 266.5 1108.3 267.8 1111.8 269.1 1110.4 270.4 1111.4 271.7 1116.8 273.0 1111.3 274.3 1110.4 275.6 1114.3 276.9 1114.8 278.2 1115.6 279.5 1110.2 280.8 1120.1 282.1 1115.7 283.4 1119.8 284.7 1115.3 286.0 1117.7 287.3 1118.7 288.6 1121.3 289.9 1116.9 291.2 1119.1 292.5 1117.3 293.8 1120.3 295.1 1117.0 296.4 1118.3 297.7 1123.0 299.0 1120.8 300.3 1123.6 301.6 1123.4 302.9 1123.0 304.2 1121.7 305.5 1126.0 306.8 1118.1 308.1 1128.5 309.4 1117.9 310.7 1124.2 312.0 1122.6 313.3 1122.8 314.6 1121.9 315.9 1124.0 317.2 1130.4 318.5 1126.6 319.8 1126.3 321.1 1127.2 322.4 1127.0 323.7 1130.9 325.0 1128.0 326.3 1129.0 327.6 1130.5 328.9 1127.6 330.2 1127.3 331.5 1129.2 332.8 1128.4 334.1 1127.9 335.4 1128.2 336.7 1135.5 338.0 1129.3 339.3 1131.8 340.6 1131.3 341.9 1133.4 343.2 1133.8 344.5 1135.0 345.8 1139.1 347.1 1135.1 348.4 1138.4 349.7 1134.9 351.0 1140.7 352.3 1140.9 353.6 1140.0 354.9 1140.2 356.2 1137.6 357.5 1138.7 358.8 1139.4 360.1 1138.4 361.4 1138.0 362.7 1140.3 364.0 1136.6 365.3 1141.3 366.6 1142.1 367.9 1141.6 369.2 1138.6 370.5 1142.8 371.8 1143.6 373.1 1144.7 374.4 1141.9 375.7 1141.6 377.0 1144.6 378.3 1145.9 379.6 1139.7 380.9 1146.7 382.2 1146.7 383.5 1143.0 384.8 1144.1 386.1 1145.0 387.4 1146.1 388.7 1142.2 390.0 1146.8 391.3 1146.4 392.6 1145.1 393.9 1148.2 395.2 1145.4 396.5 1144.1 397.8 1144.6 399.1 1143.7 400.4 1146.2 401.7 1150.2 403.0 1145.4 404.3 1150.9 405.6 1149.1 406.9 1148.9 408.2 1143.5 409.5 1146.6 410.8 1150.1 412.1 1149.2 413.4 1151.5 414.7 1147.9 416.0 1153.8 417.3 1149.4 418.6 1147.2 419.9 1155.5 421.2 1152.6 422.5 1153.3 423.8 1152.5 425.1 1152.9 426.4 1153.0 427.7 1159.1 429.0 1157.4 430.3 1153.4 431.6 1153.5 432.9 1155.6 434.2 1161.2 435.5 1158.8 436.8 1155.7 438.1 1161.3 439.4 1159.7 440.7 1156.5 442.0 1162.0 443.3 1158.6 444.6 1158.9 445.9 1160.0 447.2 1160.4 448.5 1158.0 449.8 1160.8 451.1 1159.4 452.4 1162.3 453.7 1163.9 455.0 1160.8 456.3 1160.5 457.6 1159.1 458.9 1161.9 460.2 1160.7 461.5 1157.7 462.8 1159.3 464.1 1164.1 465.4 1164.3 466.7 1163.4 468.0 1165.1 469.3 1161.5 470.6 1166.1 471.9 1163.7 473.2 1165.2 474.5 1159.0 475.8 1161.4 477.1 1163.4 478.4 1160.7 479.7 1164.4 481.0 1163.7 482.3 1166.0 483.6 1165.0 484.9 1167.7 486.2 1164.9 487.5 1165.2 488.8 1161.7 490.1 1168.1 491.4 1166.9 492.7 1164.7 494.0 1165.8 495.3 1172.4 496.6 1168.6 497.9 1169.8 499.2 1168.6 500.5 1167.4 501.8 1171.9 503.1 1166.7 504.4 1165.8 505.7 1167.3 507.0 1170.1 508.3 1171.6 509.6 1163.7 510.9 1169.2 512.2 1171.7 513.5 1174.7 514.8 1173.9 516.1 1171.7 517.4 1168.5 518.7 1173.6 520.0 1170.8 521.3 1171.9 522.6 1172.8 523.9 1172.5 525.2 1168.1 526.5 1168.8 527.8 1169.4 529.1 1167.8 530.4 1176.7 531.7 1170.5 533.0 1176.0 534.3 1173.9 535.6 1175.1 536.9 1172.6 538.2 1172.7 539.5 1175.9 540.8 1171.9 542.1 1175.6 543.4 1172.1 544.7 1176.1 546.0 1170.6 547.3 1176.0 548.6 1180.5 549.9 1176.0 551.2 1177.5 552.5 1172.1 553.8 1175.4 555.1 1173.8 556.4 1177.7 557.7 1177.6 559.0 1177.2 560.3 1179.1 561.6 1180.2 562.9 1174.5 564.2 1177.2 565.5 1179.3 566.8 1181.9 568.1 1181.2 569.4 1177.8 570.7 1178.7 572.0 1179.8 573.3 1178.4 574.6 1176.2 575.9 1184.5 577.2 1179.2 578.5 1182.2 579.8 1181.8 581.1 1183.1 582.4 1182.3 583.7 1181.5 585.0 1178.0 586.3 1181.0 587.6 1183.2 588.9 1180.5 590.2 1179.4 591.5 1179.0 592.8 1181.1 594.1 1183.4 595.4 1186.8 596.7 1185.5 598.0 1188.9 599.3 1186.8 600.6 1182.9 601.9 1187.5 603.2 1189.4 604.5 1187.3 605.8 1185.3 607.1 1179.0 608.4 1185.0 609.7 1185.6 611.0 1185.8 612.3 1188.1 613.6 1188.9 614.9 1187.2 616.2 1186.4 617.5 1185.8 618.8 1185.1 620.1 1189.1 621.4 1185.8 622.7 1186.7 624.0 1189.5 625.3 1189.5 626.6 1188.7 627.9 1185.5 629.2 1187.5 630.5 1190.0 631.8 1184.4 633.1 1189.0 634.4 1189.0 635.7 1185.5 637.0 1185.9 638.3 1188.2 639.6 1187.5 640.9 1194.0 642.2 1184.2 643.5 1187.2 644.8 1189.3 646.1 1184.7 647.4 1187.2 648.7 1188.4 650.0 1190.1 651.3 1189.2 652.6 1191.7 653.9 1189.5 655.2 1190.0 656.5 1186.1 657.8 1186.8 659.1 1192.4 660.4 1189.5 661.7 1191.0 663.0 1191.0 664.3 1186.6 665.6 1191.8 666.9 1187.8 668.2 1191.2 669.5 1191.2 670.8 1188.1 672.1 1192.5 673.4 1187.4 674.7 1191.4 676.0 1189.9 677.3 1191.9 678.6 1191.7 679.9 1190.0 681.2 1191.5 682.5 1189.5 683.8 1194.3 685.1 1191.5 686.4 1186.7 687.7 1188.9 689.0 1189.4 690.3 1192.0 691.6 1188.3 692.9 1188.3 694.2 1190.6 695.5 1191.5 696.8 1190.3 698.1 1193.7 699.4 1192.3 700.7 1192.1 702.0 1196.0 703.3 1196.3 704.6 1193.9 705.9 1193.0 707.2 1187.2 708.5 1192.8 709.8 1191.2 711.1 1193.6 712.4 1189.7 713.7 1194.6 715.0 1195.7 716.3 1192.6 717.6 1190.4 718.9 1191.9 720.2 1193.4 721.5 1192.6 722.8 1192.9 724.1 1190.0 725.4 1196.3 726.7 1196.1 728.0 1197.1 729.3 1194.3 730.6 1194.3 731.9 1191.0 733.2 1187.3 734.5 1187.4 735.8 1184.9 737.1 1186.4 738.4 1184.7 739.7 1182.2 741.0 1175.6 742.3 1180.7 743.6 1179.7 744.9 1170.9 746.2 1173.9 747.5 1169.7 748.8 1166.4 750.1 1170.6 751.4 1169.6 752.7 1169.4 754.0 1173.1 755.3 1174.4 756.6 1177.9 757.9 1177.3 759.2 1179.5 760.5 1184.7 761.8 1182.5 763.1 1179.4 764.4 1185.4 765.7 1187.0 767.0 1192.1 768.3 1194.3 769.6 1201.5 770.9 1194.3 772.2 1198.9 773.5 1198.3 774.8 1200.7 776.1 1196.7 777.4 1196.3 778.7 1199.9 780.0 1200.6 781.3 1202.0 782.6 1200.4 783.9 1202.9 785.2 1198.0 786.5 1201.6 787.8 1203.8 789.1 1201.8 790.4 1200.3 791.7 1200.3 793.0 1201.6 794.3 1200.6 795.6 1204.2 796.9 1200.7 798.2 1199.8 799.5 1197.4 800.8 1204.1 802.1 1204.1 803.4 1200.4 804.7 1200.9 806.0 1203.5 807.3 1199.8 808.6 1203.4 809.9 1200.0 811.2 1203.4 812.5 1201.3 813.8 1199.8 815.1 1197.5 816.4 1202.9 817.7 1201.0 819.0 1203.5 820.3 1202.5 821.6 1202.5 822.9 1199.9 824.2 1199.2 825.5 1200.8 826.8 1198.4 828.1 1200.1 829.4 1201.3 830.7 1200.5 832.0 1201.5 833.3 1200.9 834.6 1199.8 835.9 1201.6 837.2 1198.3 838.5 1200.6 839.8 1201.8 841.1 1200.9 842.4 1201.9 843.7 1202.4 845.0 1201.0 846.3 1200.2 847.6 1197.6 848.9 1201.1 850.2 1202.6 851.5 1201.7 852.8 1198.9 854.1 1200.7 855.4 1200.3 856.7 1203.5 858.0 1205.5 859.3 1201.2 860.6 1204.3 861.9 1207.0 863.2 1205.0 864.5 1200.6 865.8 1202.1 867.1 1202.2 868.4 1203.1 869.7 1206.0 871.0 1202.4 872.3 1202.9 873.6 1206.9 874.9 1204.8 876.2 1205.7 877.5 1204.5 878.8 1203.4 880.1 1201.7 881.4 1205.3 882.7 1204.6 884.0 1199.8 885.3 1205.2 886.6 1199.6 887.9 1206.9 889.2 1203.5 890.5 1206.6 891.8 1209.3 893.1 1204.7 894.4 1204.0 895.7 1204.2 897.0 1205.1 898.3 1204.4 899.6 1202.8 900.9 1202.8 902.2 1206.6 903.5 1205.8 904.8 1205.0 906.1 1204.0 907.4 1201.8 908.7 1204.8 910.0 1207.2 911.3 1203.1 912.6 1205.6 913.9 1208.5 915.2 1202.4 916.5 1205.9 917.8 1205.6 919.1 1203.3 920.4 1204.3 921.7 1205.6 923.0 1201.8 924.3 1204.1 925.6 1203.2 926.9 1207.8 928.2 1205.5 929.5 1203.9 930.8 1205.1 932.1 1203.7 933.4 1208.2 934.7 1203.8 936.0 1209.1 937.3 1207.1 938.6 1204.6 939.9 1208.2 941.2 1208.1 942.5 1205.4 943.8 1205.2 945.1 1204.0 946.4 1211.3 947.7 1203.7 949.0 1202.5 950.3 1206.9 951.6 1205.6 952.9 1204.5 954.2 1206.5 955.5 1205.1 956.8 1207.1 958.1 1207.2 959.4 1207.4 960.7 1208.9 962.0 1206.9 963.3 1210.9 964.6 1203.7 965.9 1206.2 967.2 1204.0 968.5 1206.0 969.8 1204.4 971.1 1206.0 972.4 1210.5 973.7 1207.1 975.0 1204.4 976.3 1209.5 977.6 1201.2 978.9 1205.6 980.2 1205.7 981.5 1207.1 982.8 1206.4 984.1 1206.3 985.4 1202.7 986.7 1200.5 988.0 1205.1 989.3 1203.7 990.6 1207.5 991.9 1201.8 993.2 1204.3 994.5 1204.5 995.8 1208.1 997.1 1209.5 998.4 1208.5 999.7 1203.8 1001.0 1205.5 1002.3 1204.1 1003.6 1207.2 1004.9 1209.5 1006.2 1202.7 1007.5 1206.4 1008.8 1209.5 1010.1 1206.6 1011.4 1205.9 1012.7 1208.8 1014.0 1201.7 1015.3 1206.6 1016.6 1206.9 1017.9 1205.9 1019.2 1206.5 1020.5 1209.0 1021.8 1205.1 1023.1 1204.3 1024.4 1208.9 1025.7 1204.3 1027.0 1208.0 1028.3 1205.4 1029.6 1209.2 1030.9 1210.7 1032.2 1209.4 1033.5 1206.2 1034.8 1208.9 1036.1 1207.9 1037.4 1206.5 1038.7 1209.6 1040.0 1206.3 1041.3 1209.1 1042.6 1210.9 1043.9 1210.7 1045.2 1207.6 1046.5 1209.5 1047.8 1213.2 1049.1 1209.3 1050.4 1206.9 1051.7 1206.4 1053.0 1206.4 1054.3 1209.1 1055.6 1203.1 1056.9 1209.3 1058.2 1207.1 1059.5 1210.3 1060.8 1209.3 1062.1 1209.4 1063.4 1211.5 1064.7 1210.9 1066.0 1210.2 1067.3 1209.5 1068.6 1206.4 1069.9 1205.6 1071.2 1208.7 1072.5 1208.6 1073.8 1207.7 1075.1 1207.3 1076.4 1212.6 1077.7 1210.3 1079.0 1212.8 1080.3 1208.9 1081.6 1211.1 1082.9 1204.3 1084.2 1208.8 1085.5 1205.5 1086.8 1209.6 1088.1 1209.4 1089.4 1204.0 1090.7 1207.0 1092.0 1210.6 1093.3 1209.9 1094.6 1204.4 1095.9 1208.9 1097.2 1209.1 1098.5 1209.8 1099.8 1207.8 1101.1 1211.1 1102.4 1208.3 1103.7 1207.9 1105.0 1206.6 1106.3 1207.1 1107.6 1205.0 1108.9 1203.9 1110.2 1204.6 1111.5 1207.6 1112.8 1207.8 1114.1 1209.9 1115.4 1203.6 1116.7 1211.2 1118.0 1210.5 1119.3 1210.4 1120.6 1212.0 1121.9 1209.5 1123.2 1211.4 1124.5 1209.8 1125.8 1211.1 1127.1 1208.2 1128.4 1210.2 1129.7 1205.0 1131.0 1210.4 1132.3 1212.5 1133.6 1209.3 1134.9 1209.1 1136.2 1210.5 1137.5 1209.6 1138.8 1209.1 1140.1 1207.4 1141.4 1211.2 1142.7 1211.8 1144.0 1206.6 1145.3 1212.7 1146.6 1210.9 1147.9 1209.0 1149.2 1208.5 1150.5 1209.0 1151.8 1213.7 1153.1 1209.4 1154.4 1210.4 1155.7 1206.5 1157.0 1209.3 1158.3 1209.3 1159.6 1209.2 1160.9 1209.8 1162.2 1208.5 1163.5 1205.6 1164.8 1209.6 1166.1 1210.7 1167.4 1210.2 1168.7 1213.7 1170.0 1209.1 1171.3 1206.3 1172.6 1213.6 1173.9 1211.7 1175.2 1209.7 1176.5 1208.2 1177.8 1209.9 1179.1 1211.5 1180.4 1210.9 1181.7 1210.8 1183.0 1212.4 1184.3 1211.1 1185.6 1212.8 1186.9 1209.3 1188.2 1210.5 1189.5 1210.2 1190.8 1210.1 1192.1 1209.6 1193.4 1211.3 1194.7 1206.7 1196.0 1212.0 1197.3 1208.4 1198.6 1211.1 1199.9 1210.1 1201.2 1210.3 1202.5 1211.4 1203.8 1213.2 1205.1 1210.9 1206.4 1208.2 1207.7 1211.6 1209.0 1210.9 1210.3 1206.4 1211.6 1208.2 1212.9 1205.9 1214.2 1211.1 1215.5 1210.0 1216.8 1209.6 1218.1 1211.1 1219.4 1207.1 1220.7 1211.9 1222.0 1210.7 1223.3 1213.2 1224.6 1209.5 1225.9 1215.3 1227.2 1212.5 1228.5 1205.6 1229.8 1207.3 1231.1 1209.7 1232.4 1212.2 1233.7 1206.4 1235.0 1210.7 1236.3 1210.7 1237.6 1210.4 1238.9 1212.7 1240.2 1208.8 1241.5 1206.6 1242.8 1209.8 1244.1 1210.5 1245.4 1209.0 1246.7 1208.7 1248.0 1208.2 1249.3 1208.1 1250.6 1206.9 1251.9 1209.3 1253.2 1209.5 1254.5 1211.5 1255.8 1211.3 1257.1 1211.2 1258.4 1211.5 1259.7 1208.6 1261.0 1211.9 1262.3 1210.8 1263.6 1213.6 1264.9 1205.9 1266.2 1208.8 1267.5 1213.3 1268.8 1211.2 1270.1 1212.1 1271.4 1208.5 1272.7 1211.6 1274.0 1207.7 1275.3 1207.2 1276.6 1214.0 1277.9 1211.0 1279.2 1208.1 1280.5 1209.5 1281.8 1215.8 1283.1 1208.8 1284.4 1211.7 1285.7 1208.0 1287.0 1212.2 1288.3 1211.4 1289.6 1207.5 1290.9 1209.9 1292.2 1213.0 1293.5 1211.1 1294.8 1212.3 1296.1 1210.0 1297.4 1214.2 1298.7 1210.2 1300.0 1211.7 1301.3 1212.3 1302.6 1211.5 1303.9 1207.2 1305.2 1206.9 1306.5 1216.2 1307.8 1211.5 1309.1 1209.6 1310.4 1209.0 1311.7 1212.5 1313.0 1207.3 1314.3 1212.4 1315.6 1211.3 1316.9 1208.3 1318.2 1211.4 1319.5 1211.0 1320.8 1210.9 1322.1 1209.0 1323.4 1214.4 1324.7 1209.7 1326.0 1208.3 1327.3 1208.8 1328.6 1208.0 1329.9 1209.0 1331.2 1208.9 1332.5 1205.7 1333.8 1211.7 1335.1 1209.7 1336.4 1211.7 1337.7 1210.0 1339.0 1210.5 1340.3 1209.9 1341.6 1207.8 1342.9 1209.2 1344.2 1212.3 1345.5 1212.9 1346.8 1210.9 1348.1 1213.8 1349.4 1212.6 1350.7 1209.6 1352.0 1211.7 1353.3 1211.7 1354.6 1210.3 1355.9 1209.5 1357.2 1211.6 1358.5 1212.2 1359.8 1210.7 1361.1 1210.3 1362.4 1212.2 1363.7 1210.0 1365.0 1215.2 1366.3 1209.4 1367.6 1213.8 1368.9 1209.3 1370.2 1209.4 1371.5 1213.8 1372.8 1212.0 1374.1 1208.5 1375.4 1211.2 1376.7 1209.7 1378.0 1206.8 1379.3 1207.7 1380.6 1209.3 1381.9 1208.4 1383.2 1212.7 1384.5 1208.0 1385.8 1210.8 1387.1 1211.2 1388.4 1209.0 1389.7 1214.1 1391.0 1214.6 1392.3 1212.2 1393.6 1208.9 1394.9 1212.7 1396.2 1207.3 1397.5 1210.3 1398.8 1209.6 1400.1 1209.1 1401.4 1210.7 1402.7 1207.2 1404.0 1206.9 1405.3 1207.9 1406.6 1207.2 1407.9 1202.9 1409.2 1205.8 1410.5 1204.3 1411.8 1205.2 1413.1 1202.8 1414.4 1206.1 1415.7 1198.4 1417.0 1199.1 1418.3 1201.9 1419.6 1197.4 1420.9 1201.2 1422.2 1197.6 1423.5 1195.6 1424.8 1206.9 1426.1 1200.8 1427.4 1200.5 1428.7 1200.9 1430.0 1205.3 1431.3 1209.0 1432.6 1207.5 1433.9 1207.0 1435.2 1208.0 1436.5 1207.7 1437.8 1211.2 1439.1 1212.3 1440.4 1211.7 1441.7 1213.3 1443.0 1214.1 1444.3 1209.0 1445.6 1217.4 1446.9 1211.1 1448.2 1212.5 1449.5 1207.0 1450.8 1215.2 1452.1 1211.8 1453.4 1212.2 1454.7 1207.6 1456.0 1217.5 1457.3 1209.5 1458.6 1209.4 1459.9 1213.9 1461.2 1212.2 1462.5 1209.7 1463.8 1208.6 1465.1 1209.5 1466.4 1211.4 1467.7 1210.0 1469.0 1213.3 1470.3 1211.6 1471.6 1210.3 1472.9 1211.9 1474.2 1210.7 1475.5 1213.8 1476.8 1210.8 1478.1 1213.4 1479.4 1212.6 1480.7 1208.3 1482.0 1211.0 1483.3 1213.5 1484.6 1213.8 1485.9 1211.8 1487.2 1211.1 1488.5 1209.3 1489.8 1212.7 1491.1 1214.3 1492.4 1206.5 1493.7 1214.3 1495.0 1212.5 1496.3 1212.2 1497.6 1213.8 1498.9 1206.5 1500.2 1216.3 1501.5 1211.7 1502.8 1212.6 1504.1 1210.7 1505.4 1212.2 1506.7 1211.8 1508.0 1215.2 1509.3 1212.1 1510.6 1215.6 1511.9 1210.3 1513.2 1213.6 1514.5 1211.3 1515.8 1210.7 1517.1 1214.0 1518.4 1211.3 1519.7 1212.3 1521.0 1212.9 1522.3 1210.2 1523.6 1209.0 1524.9 1212.2 1526.2 1212.3 1527.5 1209.9 1528.8 1214.4 1530.1 1214.5 1531.4 1210.7 1532.7 1213.0 1534.0 1215.2 1535.3 1210.3 1536.6 1208.8 1537.9 1210.6 1539.2 1212.1 1540.5 1213.7 1541.8 1210.1 1543.1 1211.1 1544.4 1211.9 1545.7 1211.4 1547.0 1211.7 1548.3 1214.2 1549.6 1211.6 1550.9 1213.8 1552.2 1207.5 1553.5 1210.4 1554.8 1211.3 1556.1 1213.4 1557.4 1214.3 1558.7 1210.8 1560.0 1210.5 1561.3 1212.4 1562.6 1212.3 1563.9 1212.3 1565.2 1212.8 1566.5 1212.8 1567.8 1214.0 1569.1 1211.2 1570.4 1216.7 1571.7 1213.3 1573.0 1209.6 1574.3 1210.9 1575.6 1213.5 1576.9 1209.8 1578.2 1215.8 1579.5 1211.2 1580.8 1217.3 1582.1 1210.8 1583.4 1212.0 1584.7 1217.7 1586.0 1215.7 1587.3 1214.7 1588.6 1212.6 1589.9 1215.0 1591.2 1213.2 1592.5 1211.2 1593.8 1215.1 1595.1 1217.1 1596.4 1213.6 1597.7 1212.8 1599.0 1212.9 1600.3 1214.4 1601.6 1212.7 1602.9 1210.4 1604.2 1212.4 1605.5 1216.7 1606.8 1212.8 1608.1 1213.8 1609.4 1217.7 1610.7 1213.5 1612.0 1214.4 1613.3 1214.2 1614.6 1212.9 1615.9 1215.5 1617.2 1216.8 1618.5 1212.7 1619.8 1209.3 1621.1 1211.2 1622.4 1213.2 1623.7 1209.0 1625.0 1211.3 1626.3 1210.3 1627.6 1212.8 1628.9 1213.3 1630.2 1212.3 1631.5 1216.2 1632.8 1210.4 1634.1 1214.2 1635.4 1212.9 1636.7 1213.5 1638.0 1207.9 1639.3 1213.5 1640.6 1214.7 1641.9 1211.6 1643.2 1209.8 1644.5 1212.7 1645.8 1211.2 1647.1 1212.9 1648.4 1211.9 1649.7 1214.9 1651.0 1210.8 1652.3 1215.7 1653.6 1209.6 1654.9 1215.0 1656.2 1218.0 1657.5 1214.1 1658.8 1214.2 1660.1 1214.5 1661.4 1211.5 1662.7 1211.8 1664.0 1214.3 1665.3 1212.2 1666.6 1213.4 1667.9 1214.4 1669.2 1213.2 1670.5 1210.7 1671.8 1212.2 1673.1 1214.8 1674.4 1211.1 1675.7 1211.2 1677.0 1209.4 1678.3 1216.0 1679.6 1211.2 1680.9 1210.0 1682.2 1212.9 1683.5 1217.5 1684.8 1212.9 1686.1 1211.5 1687.4 1210.0 1688.7 1212.8 1690.0 1212.2 1691.3 1216.0 1692.6 1214.3 1693.9 1211.6 1695.2 1213.0 1696.5 1213.2 1697.8 1211.6 1699.1 1212.4 1700.4 1215.7 1701.7 1209.7 1703.0 1213.5 1704.3 1211.6 1705.6 1212.7 1706.9 1212.4 1708.2 1210.3 1709.5 1210.2 1710.8 1216.3 1712.1 1209.8 1713.4 1216.2 1714.7 1209.5 1716.0 1213.3 1717.3 1214.6 1718.6 1211.1 1719.9 1209.3 1721.2 1211.8 1722.5 1214.0 1723.8 1212.7 1725.1 1214.1 1726.4 1217.2 1727.7 1214.5 1729.0 1211.3 1730.3 1211.8 1731.6 1215.5 1732.9 1213.9 1734.2 1217.1 1735.5 1214.3 1736.8 1216.5 1738.1 1210.2 1739.4 1212.7 1740.7 1211.2 1742.0 1214.5 1743.3 1213.2 1744.6 1213.0 1745.9 1212.0 1747.2 1210.9 1748.5 1213.2 1749.8 1212.5 1751.1 1213.0 1752.4 1217.0 1753.7 1214.2 1755.0 1213.5 1756.3 1213.8 1757.6 1214.1 1758.9 1213.8 1760.2 1215.2 1761.5 1216.2 1762.8 1210.6 1764.1 1219.6 1765.4 1211.5 1766.7 1218.0 1768.0 1214.7 1769.3 1214.2 1770.6 1210.8 1771.9 1210.9 1773.2 1216.2 1774.5 1214.1 1775.8 1210.3 1777.1 1213.2 1778.4 1213.7 1779.7 1218.4 1781.0 1214.6 1782.3 1210.8 1783.6 1216.2 1784.9 1214.9 1786.2 1215.3 1787.5 1211.3 1788.8 1213.8 1790.1 1213.9 1791.4 1216.9 1792.7 1218.2 1794.0 1217.4 1795.3 1212.3 1796.6 1211.0 1797.9 1218.0 1799.2 1214.3 1800.5 1213.5 1801.8 1216.4 1803.1 1211.2 1804.4 1214.5 1805.7 1216.3 1807.0 1216.6 1808.3 1215.5 1809.6 1213.1 1810.9 1213.1 1812.2 1215.2 1813.5 1212.7 1814.8 1214.7 1816.1 1214.1 1817.4 1217.4 1818.7 1214.4 1820.0 1218.2 1821.3 1215.4 1822.6 1214.9 1823.9 1213.0 1825.2 1213.8 1826.5 1212.3 1827.8 1216.2 1829.1 1215.7 1830.4 1216.3 1831.7 1217.5 1833.0 1217.4 1834.3 1214.5 1835.6 1218.5 1836.9 1211.0 1838.2 1218.0 1839.5 1215.2 1840.8 1211.2 1842.1 1213.2 1843.4 1214.7 1844.7 1215.2 1846.0 1217.0 1847.3 1216.0 1848.6 1215.0 1849.9 1217.0 1851.2 1214.3 1852.5 1215.8 1853.8 1217.4 1855.1 1212.5 1856.4 1216.1 1857.7 1216.5 1859.0 1213.8 1860.3 1214.3 1861.6 1215.4 1862.9 1213.2 1864.2 1218.0 1865.5 1220.8 1866.8 1216.8 1868.1 1212.6 1869.4 1211.3 1870.7 1214.2 1872.0 1216.6 1873.3 1215.6 1874.6 1214.7 1875.9 1215.2 1877.2 1215.3 1878.5 1216.5 1879.8 1210.8 1881.1 1215.3 1882.4 1213.2 1883.7 1216.0 1885.0 1218.6 1886.3 1214.9 1887.6 1215.4 1888.9 1217.8 1890.2 1217.0 1891.5 1214.9 1892.8 1211.6 1894.1 1212.9 1895.4 1213.1 1896.7 1217.1 1898.0 1216.5 1899.3 1214.1 1900.6 1215.6 1901.9 1216.4 1903.2 1216.1 1904.5 1219.7 1905.8 1214.0 1907.1 1214.6 1908.4 1216.6 1909.7 1216.1 1911.0 1212.4 1912.3 1212.8 1913.6 1213.4 1914.9 1218.4 1916.2 1215.0 1917.5 1216.1 1918.8 1216.0 1920.1 1214.7 1921.4 1212.7"/>
</g>
<g id="annot">
<path d="M663.9 120.2V152.1" stroke="#000" stroke-width="2.00" fill="none"/><path d="M654.9 151.1L672.9 151.1L663.9 184.4Z" fill="#000"/>
<path d="M794.8 122.2V142.2" stroke="#000" stroke-width="2.00" fill="none"/><path d="M785.8 141.2L803.8 141.2L794.8 174.5Z" fill="#000"/>
<path d="M805.5 587.5V595.5" stroke="#000" stroke-width="2.00" fill="none"/><path d="M796.5 594.5L814.5 594.5L805.5 627.8Z" fill="#000"/>
<path d="M701.9 707.5V727.2" stroke="#000" stroke-width="2.00" fill="none"/><path d="M692.9 726.2L710.9 726.2L701.9 759.5Z" fill="#000"/>
<path d="M604.9 843.0V845.7" stroke="#000" stroke-width="2.00" fill="none"/><path d="M595.8 844.7L613.9 844.7L604.9 878.0Z" fill="#000"/>
<path d="M832.0 865.0V880.0" stroke="#000" stroke-width="2.00" fill="none"/><path d="M823.0 879.0L841.0 879.0L832.0 912.3Z" fill="#000"/>
<path d="M1016.6 907.1V916.2" stroke="#000" stroke-width="2.00" fill="none"/><path d="M1007.6 915.2L1025.7 915.2L1016.6 948.5Z" fill="#000"/>
<path d="M1315.9 900.6V908.2" stroke="#000" stroke-width="2.00" fill="none"/><path d="M1306.9 907.2L1325.0 907.2L1315.9 940.5Z" fill="#000"/>
<path d="M1482.7 889.2V898.0" stroke="#000" stroke-width="2.00" fill="none"/><path d="M1473.7 897.0L1491.8 897.0L1482.7 930.3Z" fill="#000"/>
<path d="M1283.8 1022.5V1030.2" stroke="#000" stroke-width="2.00" fill="none"/><path d="M1274.8 1029.2L1292.8 1029.2L1283.8 1062.5Z" fill="#000"/>
<path d="M1416.9 1155.0V1162.0" stroke="#000" stroke-width="2.00" fill="none"/><path d="M1407.9 1161.0L1426.0 1161.0L1416.9 1194.3Z" fill="#000"/>
<text transform="translate(1161.09 201.10) scale(1 1.025)" font-size="55.80" word-spacing="-1.50" letter-spacing="-0.037" xml:space="preserve">2 x (100 x HfO<tspan dy="22.73" font-size="43.00">2</tspan><tspan dy="-22.73">+100 x Fe</tspan><tspan dy="22.73" font-size="43.00">2</tspan><tspan dy="-22.73">O</tspan><tspan dy="22.73" font-size="43.00">3</tspan><tspan dy="-22.73">)</tspan></text>
<text transform="translate(1194.29 348.20) scale(1 1.025)" font-size="55.80" word-spacing="-1.50" letter-spacing="-0.037" xml:space="preserve">2 x (50 x HfO<tspan dy="22.73" font-size="43.00">2</tspan><tspan dy="-22.73">+150 x Fe</tspan><tspan dy="22.73" font-size="43.00">2</tspan><tspan dy="-22.73">O</tspan><tspan dy="22.73" font-size="43.00">3</tspan><tspan dy="-22.73">)</tspan></text>
<text transform="translate(1178.09 476.20) scale(1 1.025)" font-size="55.80" word-spacing="-1.50" letter-spacing="0.045" xml:space="preserve">2 x (150 x HfO<tspan dy="22.73" font-size="43.00">2</tspan><tspan dy="-22.73">+ 50 x Fe</tspan><tspan dy="22.73" font-size="43.00">2</tspan><tspan dy="-22.73">O</tspan><tspan dy="22.73" font-size="43.00">3</tspan><tspan dy="-22.73">)</tspan></text>
<text transform="translate(990.62 630.20) scale(1 1.025)" font-size="55.80" word-spacing="-1.50" letter-spacing="-0.095" xml:space="preserve">100 x HfO<tspan dy="22.73" font-size="43.00">2</tspan><tspan dy="-22.73">+100 x Fe</tspan><tspan dy="22.73" font-size="43.00">2</tspan><tspan dy="-22.73">O</tspan><tspan dy="22.73" font-size="43.00">3</tspan><tspan dy="-22.73">+100 x HfO</tspan><tspan dy="22.73" font-size="43.00">2</tspan></text>
<text transform="translate(1294.52 785.20) scale(1 1.025)" font-size="55.80" word-spacing="-1.50" letter-spacing="-0.101" xml:space="preserve">400 x Fe<tspan dy="22.73" font-size="43.00">2</tspan><tspan dy="-22.73">O</tspan><tspan dy="22.73" font-size="43.00">3</tspan><tspan dy="-22.73">+100 x HfO</tspan><tspan dy="22.73" font-size="43.00">2</tspan></text>
<text transform="translate(1633.52 921.00) scale(1 1.025)" font-size="55.80" word-spacing="-1.50" letter-spacing="-0.009" xml:space="preserve">500 x HfO<tspan dy="22.73" font-size="43.00">2</tspan></text>
<text transform="translate(1637.09 1047.00) scale(1 1.025)" font-size="55.80" word-spacing="-1.50" letter-spacing="0.072" xml:space="preserve">200 x HfO<tspan dy="22.73" font-size="43.00">2</tspan></text>
<text transform="translate(1607.79 1178.90) scale(1 1.025)" font-size="55.80" word-spacing="-1.50" letter-spacing="-0.246" xml:space="preserve">200 x Fe<tspan dy="22.73" font-size="43.00">2</tspan><tspan dy="-22.73">O</tspan><tspan dy="22.73" font-size="43.00">3</tspan></text>
<text transform="translate(597.57 115.10) scale(1 1.025)" font-size="55.80" xml:space="preserve">101<tspan x="92.43" dy="22.24" font-size="40.30">T</tspan></text>
<text transform="translate(760.72 119.20) scale(1 1.025)" font-size="55.80" xml:space="preserve">002<tspan x="89.97" dy="22.93" font-size="40.30">T</tspan></text>
<text transform="translate(756.67 578.50) scale(1 1.025)" font-size="55.80" xml:space="preserve">020<tspan x="89.82" dy="22.93" font-size="40.30">M</tspan></text>
<text transform="translate(638.62 706.90) scale(1 1.025)" font-size="55.80" xml:space="preserve">111<tspan x="91.78" dy="22.34" font-size="40.30">M</tspan></text>
<text transform="translate(542.72 839.00) scale(1 1.025)" font-size="55.80" xml:space="preserve">-111<tspan x="110.77" dy="22.24" font-size="40.30">M</tspan></text>
<text transform="translate(411.72 879.20) scale(1 1.025)" font-size="55.80" xml:space="preserve">110<tspan x="92.18" dy="23.51" font-size="40.30">M</tspan></text>
<text transform="translate(809.52 875.60) scale(1 1.025)" font-size="55.80" xml:space="preserve">-102<tspan x="112.27" dy="22.24" font-size="40.30">M</tspan></text>
<text transform="translate(992.42 902.10) scale(1 1.025)" font-size="55.80" xml:space="preserve">102<tspan x="92.08" dy="23.22" font-size="40.30">M</tspan></text>
<text transform="translate(1284.69 899.50) scale(1 1.025)" font-size="55.80" xml:space="preserve">200<tspan x="92.50" dy="22.54" font-size="40.30">T</tspan></text>
<text transform="translate(1422.42 883.00) scale(1 1.025)" font-size="55.80" xml:space="preserve">130<tspan x="92.08" dy="22.05" font-size="40.30">M</tspan></text>
<text transform="translate(1245.42 1020.50) scale(1 1.025)" font-size="55.80" xml:space="preserve">112<tspan x="92.88" dy="23.41" font-size="40.30">T</tspan></text>
<text transform="translate(1364.72 1149.90) scale(1 1.025)" font-size="55.80" xml:space="preserve">116<tspan x="93.29" dy="22.15" font-size="47.50">R</tspan></text>
<text transform="translate(707.72 1161.00) scale(1 1.025)" font-size="55.80" xml:space="preserve">104<tspan x="92.49" dy="22.34" font-size="47.50">R</tspan></text>
</g>
<g id="ticklabels" text-anchor="middle">
<text transform="translate(162.50 1399.00) scale(1 1.025)" font-size="74.40">15</text>
<text transform="translate(322.50 1399.00) scale(1 1.025)" font-size="74.40">20</text>
<text transform="translate(482.50 1399.00) scale(1 1.025)" font-size="74.40">25</text>
<text transform="translate(642.50 1399.00) scale(1 1.025)" font-size="74.40">30</text>
<text transform="translate(802.50 1399.00) scale(1 1.025)" font-size="74.40">35</text>
<text transform="translate(962.50 1399.00) scale(1 1.025)" font-size="74.40">40</text>
<text transform="translate(1122.50 1399.00) scale(1 1.025)" font-size="74.40">45</text>
<text transform="translate(1282.50 1399.00) scale(1 1.025)" font-size="74.40">50</text>
<text transform="translate(1442.50 1399.00) scale(1 1.025)" font-size="74.40">55</text>
<text transform="translate(1602.50 1399.00) scale(1 1.025)" font-size="74.40">60</text>
<text transform="translate(1762.50 1399.00) scale(1 1.025)" font-size="74.40">65</text>
<text transform="translate(1922.50 1399.00) scale(1 1.025)" font-size="74.40">70</text>
</g>
<text transform="translate(866.30 1515.00) scale(1 1.025)" font-size="74.40" letter-spacing="-0.4" xml:space="preserve">2<tspan font-family="'Liberation Serif',serif" font-size="74.40">θ</tspan>, degree</text>
<text transform="translate(72.30 935.80) rotate(-90) scale(1 1.025)" font-size="74.20" letter-spacing="-0.45" xml:space="preserve">Intensity, a.u.</text>
</svg>
</body></html>
